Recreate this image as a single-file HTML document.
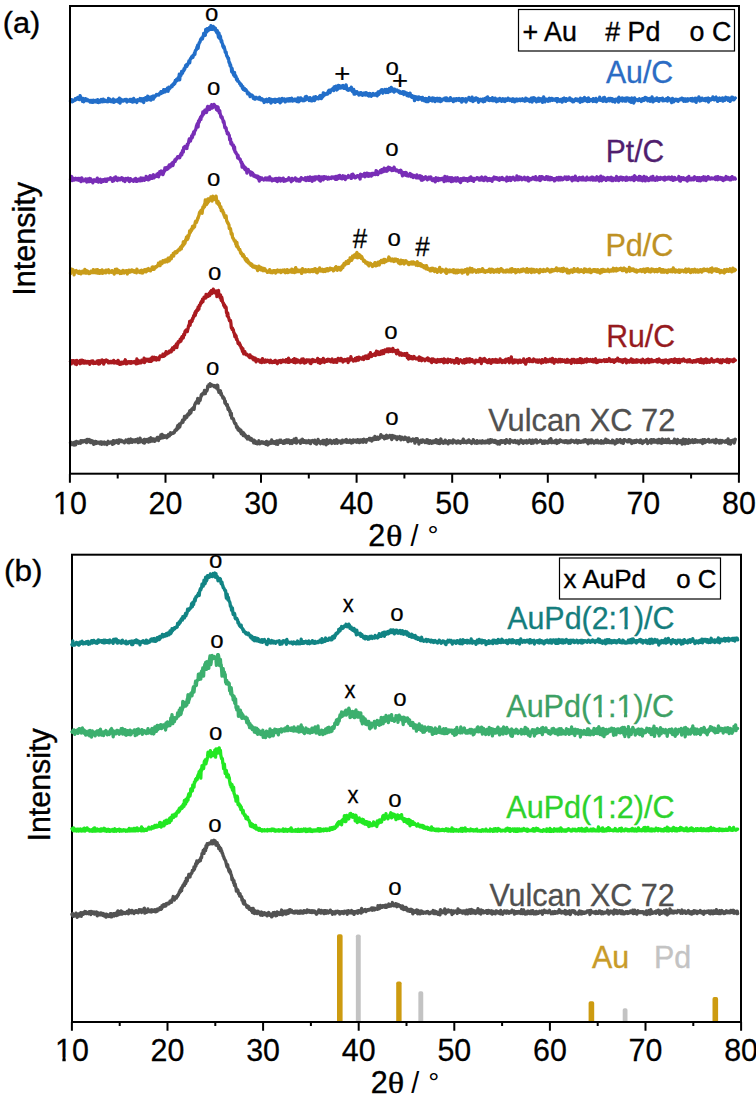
<!DOCTYPE html>
<html><head><meta charset="utf-8"><title>XRD</title>
<style>
html,body{margin:0;padding:0;background:#fff;}
svg{display:block;font-family:"Liberation Sans",sans-serif;}
</style></head><body>
<svg width="756" height="1098" viewBox="0 0 756 1098">
<rect width="756" height="1098" fill="#fff"/>
<path d="M70.5 101.0l0.4 0.6 0.4-0.4 0.4-1.6 0.4 2.2 0.4-0.5 0.4-1.1 0.4 1 0.4-0.4 0.4-0.3 0.4-0.4 0.4 0.2 0.4-1.5 0.4 0.3 0.4-0.5 0.4 0.9 0.4-0.8 0.4-0.5 0.4-0.7 0.4 0.5 0.4 0.2 0.4-0.3 0.4 1.7 0.4-0.3 0.4-3.6 0.4 0.9 0.4 1.9 0.4-0.1 0.4 0.8 0.4 0.1 0.4 2.1 0.4-3.1 0.4 0.9 0.4 2.6 0.4-1.2 0.4 0.1 0.4-1.1 0.4-1 0.4 1.9 0.4 0 0.4-1.3 0.4 0.7 0.4 0.6 0.4-0.8 0.4 1 0.4 0.2 0.4 0.1 0.4-0.5 0.4 1.1 0.4 0.4 0.4-0.5 0.4-1.1 0.4 1.6 0.4-1.2 0.4 1.5 0.4-2 0.4 2.1 0.4-1 0.4-1.2 0.4 1 0.4 0.4 0.4 0.2 0.4-1.3 0.4-0.1 0.4 1.3 0.4-0.7 0.4 0.7 0.4 0.5 0.4-2.5 0.4 1.9 0.4 0.9 0.4-1.5 0.4-0.6 0.4 1.5 0.4-0.5 0.4 0.6 0.4-1.3 0.4-1.2 0.4 1.4 0.4-0.4 0.4 1.2 0.4-0.6 0.4-1.9 0.4 0.4 0.4 2 0.4-0.2 0.4-1.3 0.4 0.6 0.4 0.4 0.4 0 0.4 0.4 0.4-0.6 0.4-0.4 0.4-0.2 0.4 1.4 0.4-3.4 0.4 2.2 0.4 0.1 0.4-1.4 0.4 1.7 0.4-1 0.4 1.6 0.4-1 0.4 0.8 0.4 0.5 0.4-0.8 0.4-1.3 0.4-0.6 0.4 3.3 0.4-1.9 0.4-0.6 0.4 0.8 0.4-0.3 0.4 1.1 0.4-0.9 0.4 0 0.4-0.7 0.4 1.2 0.4-1.5 0.4 1.7 0.4 0.8 0.4-3 0.4-1 0.4 3.1 0.4 1.9 0.4-3.5 0.4-0.3 0.4 1.9 0.4-1.4 0.4 0.3 0.4 0.2 0.4 0.8 0.4-0.9 0.4 0.7 0.4-0.5 0.4-0.6 0.4 0.5 0.4-0.7 0.4 1 0.4-1.1 0.4 0 0.4 2.6 0.4-1.6 0.4 0 0.4 0.6 0.4-0.9 0.4 0.2 0.4 0.6 0.4-0.1 0.4-1.5 0.4 2 0.4-1.4 0.4-0.5 0.4 0.2 0.4 0.5 0.4 2 0.4-2.8 0.4 1.4 0.4-2.3 0.4 2.1 0.4 0.9 0.4-1.1 0.4-0.5 0.4 0.9 0.4 0.4 0.4 0 0.4 1.3 0.4-1.8 0.4-0.9 0.4 0.5 0.4 0 0.4 0.1 0.4-0.2 0.4 0.2 0.4-1.9 0.4 2.4 0.4-1.4 0.4-0.7 0.4 1.8 0.4 0.6 0.4-0.9 0.4-0.4 0.4-1.2 0.4 3.8 0.4-2.1 0.4-2.1 0.4 0.3 0.4 0.8 0.4-1.7 0.4 1.6 0.4-0.7 0.4 1.6 0.4-0.3 0.4-3.8 0.4 2.7 0.4-1.8 0.4 2.7 0.4-1 0.4 0.2 0.4-1.7 0.4 2.8 0.4 0.1 0.4-3.2 0.4 1.3 0.4-1.2 0.4 0.5 0.4-1.4 0.4 3.1 0.4-3.1 0.4 0.6 0.4 0.6 0.4-1.4 0.4 0.3 0.4-0.6 0.4 0.2 0.4-1.3 0.4 0.5 0.4 0 0.4-0.4 0.4 0.2 0.4-0.6 0.4 0.8 0.4-1.3 0.4-0.1 0.4-0.7 0.4-0.1 0.4-1 0.4 1.7 0.4-1.9 0.4 0.2 0.4 1 0.4-0.2 0.4-1 0.4-1.9 0.4 2.4 0.4-0.4 0.4-1.9 0.4 2.1 0.4-1.8 0.4-0.7 0.4 1.1 0.4-0.5 0.4 0.1 0.4-2.2 0.4 3.4 0.4-2.9 0.4-1.3 0.4 2 0.4-1.4 0.4 0.4 0.4-1 0.4-0.1 0.4-0.1 0.4-1.4 0.4 1.1 0.4-1.6 0.4-0.8 0.4 0.6 0.4-0.1 0.4-1.1 0.4-1.1 0.4 1.1 0.4-3.1 0.4 0.4 0.4 0.6 0.4-2 0.4 1 0.4-0.7 0.4 0.5 0.4-2.6 0.4-0.3 0.4 0.5 0.4-3.7 0.4 5.7 0.4-4.9 0.4-0.7 0.4 1.2 0.4-1.6 0.4-2.6 0.4 2.2 0.4-0.4 0.4-2.1 0.4-0.4 0.4 0.3 0.4-2.3 0.4 0.9 0.4-0.9 0.4-1.7 0.4-1.5 0.4 0.8 0.4-1.4 0.4 1.5 0.4-1.6 0.4 0.1 0.4-1.4 0.4-0.5 0.4-1.9 0.4 1.1 0.4 0.7 0.4-3.2 0.4-0.9 0.4-0.1 0.4-1 0.4-0.9 0.4 0.4 0.4-1.1 0.4 1.5 0.4-2.4 0.4-0.3 0.4 0.2 0.4-2.2 0.4 1.5 0.4-3.3 0.4-0.9 0.4-0.1 0.4-0.4 0.4-2.4 0.4 0.9 0.4-2.9 0.4 3.1 0.4-2.8 0.4-1.6 0.4-1.3 0.4-0.2 0.4-0.7 0.4-1.9 0.4-0.8 0.4 0.2 0.4-1.3 0.4 1.2 0.4-0.5 0.4-2.1 0.4 0 0.4-3 0.4 2.1 0.4-1.5 0.4 0.2 0.4 1 0.4-5.9 0.4 3 0.4-2.4 0.4 1.8 0.4-3.1 0.4 0.7 0.4 0.6 0.4 0.2 0.4-1.1 0.4-1.5 0.4 0.1 0.4 1.8 0.4-1.4 0.4-2.4 0.4 3.6 0.4-0.7 0.4 0.7 0.4-1.7 0.4 1.6 0.4-2.7 0.4 2.3 0.4-1.4 0.4 1.8 0.4 0.8 0.4-2 0.4 1.5 0.4 0.7 0.4 2.3 0.4 0.1 0.4-2 0.4 3.1 0.4 1 0.4 2.6 0.4-4.4 0.4 2.3 0.4 3.4 0.4-2.8 0.4 1.1 0.4 3.3 0.4 1.6 0.4-1.2 0.4 2.6 0.4 0.4 0.4 2.9 0.4-0.9 0.4 2.3 0.4-1.4 0.4 2 0.4 1.2 0.4 2.6 0.4 0.4 0.4-0.6 0.4 2.9 0.4 1.3 0.4 0.1 0.4 1 0.4 1.3 0.4-0.6 0.4 3.6 0.4 1.2 0.4-0.1 0.4 3.1 0.4-1.3 0.4 2.1 0.4 1.1 0.4 4 0.4-3.3 0.4 3.4 0.4 1.3 0.4 0.1 0.4 1.7 0.4-1.7 0.4-0.8 0.4 4.2 0.4-1.6 0.4 1.7 0.4-0.3 0.4 3.1 0.4 0.4 0.4-1.2 0.4 2.4 0.4-0.3 0.4 0.3 0.4 0.7 0.4 0.3 0.4 1.5 0.4 0.2 0.4-0.2 0.4 2 0.4-1.2 0.4 1.5 0.4 0.7 0.4 1.6 0.4-1.6 0.4 2.9 0.4-1.2 0.4 0.1 0.4 0 0.4 1.8 0.4-0.1 0.4-0.8 0.4 0.4 0.4 1 0.4 0.2 0.4 2.2 0.4 0.7 0.4-0.2 0.4-0.2 0.4-0.5 0.4 0.9 0.4 1.1 0.4 1.6 0.4-0.9 0.4-1 0.4 0.7 0.4-0.3 0.4 0 0.4 0.8 0.4 0.6 0.4 1.9 0.4-1.6 0.4 1.6 0.4 0.6 0.4-1.6 0.4 1.7 0.4-0.7 0.4-1 0.4 0.8 0.4-0.1 0.4-0.2 0.4 0.2 0.4 0.5 0.4 0.4 0.4-1.2 0.4 0.9 0.4-1.4 0.4 1.9 0.4 0.5 0.4-0.4 0.4 0.2 0.4 0.4 0.4-1.1 0.4 0.5 0.4 0.9 0.4 0.6 0.4-0.5 0.4 2.2 0.4-2.5 0.4 1.2 0.4 0.3 0.4-1.3 0.4-0.6 0.4-0.3 0.4 1.5 0.4 1 0.4-0.8 0.4-0.1 0.4-0.5 0.4 1 0.4-2.7 0.4 2.3 0.4-0.2 0.4-1.4 0.4 3.6 0.4-3.6 0.4 0.3 0.4-0.1 0.4 2.3 0.4-2 0.4 1.5 0.4-0.1 0.4-0.3 0.4-1.6 0.4 0.7 0.4 2.3 0.4-3 0.4 0.4 0.4 0.7 0.4 0.9 0.4-0.5 0.4 0.4 0.4-1.8 0.4 2 0.4-0.4 0.4-2.2 0.4 3.2 0.4 0.7 0.4-3.1 0.4 0.8 0.4 1.3 0.4-2.9 0.4-0.5 0.4 0.6 0.4 0.7 0.4 0 0.4 1.1 0.4-0.3 0.4-1.6 0.4 1.8 0.4 1.2 0.4-0.7 0.4-0.2 0.4-1 0.4 0.9 0.4-2 0.4 1.7 0.4-0.8 0.4 1.2 0.4-0.7 0.4-1.6 0.4 1.2 0.4 1.1 0.4-2.3 0.4 0.5 0.4-0.2 0.4-0.7 0.4 2.5 0.4 0.3 0.4-0.5 0.4-0.6 0.4-0.3 0.4 0.3 0.4-0.9 0.4 1.6 0.4 0.1 0.4-0.1 0.4-1.4 0.4 0.6 0.4-0.3 0.4 2 0.4-1.6 0.4-2.1 0.4 2.3 0.4 1.5 0.4-1.2 0.4 0.2 0.4-0.9 0.4-2 0.4 0.2 0.4 0.6 0.4 1.1 0.4 0.4 0.4 0.4 0.4-1.1 0.4 1.3 0.4-1.2 0.4-0.5 0.4 1.6 0.4-1.8 0.4-1.9 0.4 1.7 0.4 1.1 0.4-3.2 0.4 2.7 0.4 0 0.4-1.2 0.4-0.1 0.4 1 0.4-0.1 0.4 1.7 0.4-0.9 0.4-2 0.4 0.6 0.4 1.6 0.4 1.1 0.4-1.6 0.4-0.1 0.4 1.5 0.4-2 0.4-0.3 0.4-1.2 0.4 0.8 0.4 2.7 0.4-3.8 0.4 1.4 0.4-1.6 0.4 1.5 0.4 0.6 0.4-1.3 0.4 0.9 0.4-0.2 0.4-0.4 0.4 1.1 0.4-1.1 0.4-1.3 0.4-0.5 0.4-0.4 0.4 1.2 0.4-1 0.4 2.9 0.4-1.1 0.4-2.3 0.4-0.3 0.4 1.9 0.4-3.9 0.4 1.3 0.4 1.2 0.4-2.1 0.4 0.3 0.4-0.1 0.4 0.9 0.4-0.7 0.4 0 0.4 0 0.4-0.7 0.4 0.9 0.4-2.2 0.4-0.9 0.4-0.6 0.4-0.1 0.4 0.9 0.4 1.5 0.4-1.2 0.4-1 0.4-0.7 0.4 0.3 0.4-0.1 0.4-0.4 0.4-1.1 0.4 0.8 0.4 1.4 0.4-3.6 0.4 1.8 0.4-2.1 0.4 2.2 0.4-1.1 0.4-1.6 0.4 2.2 0.4 1.6 0.4-1.9 0.4 1 0.4-1.4 0.4-2.4 0.4 2.8 0.4-1.1 0.4-1.2 0.4 2.3 0.4-0.7 0.4-0.9 0.4 1.4 0.4-2 0.4 1.6 0.4-1.7 0.4 1.5 0.4-1.8 0.4 2.8 0.4-1.3 0.4 1.4 0.4-2.2 0.4 0.6 0.4 1.6 0.4-3.5 0.4 2.1 0.4 2.5 0.4-0.3 0.4 0.9 0.4-1.1 0.4 1.2 0.4-1.1 0.4-0.4 0.4-0.2 0.4 1.4 0.4 0.1 0.4 0.1 0.4-2.9 0.4 1.8 0.4 1.7 0.4 1 0.4-0.8 0.4-0.1 0.4-1.4 0.4 4.7 0.4-3.2 0.4 3.1 0.4 0 0.4-1.2 0.4-0.8 0.4 0.8 0.4-1.2 0.4 1.6 0.4-0.2 0.4 0.7 0.4 0.5 0.4 0.9 0.4-2.1 0.4 1.6 0.4-1.8 0.4-0.1 0.4 0.4 0.4-0.3 0.4 2.1 0.4 0 0.4 0.4 0.4-1.3 0.4 0.4 0.4-0.9 0.4-0.5 0.4 1.7 0.4-0.1 0.4-1.4 0.4 1.8 0.4-2.3 0.4 1.6 0.4-0.4 0.4 0.2 0.4-0.6 0.4 2.2 0.4-0.4 0.4 0.7 0.4-1 0.4-1.5 0.4 1 0.4-0.8 0.4 1.7 0.4 0.8 0.4-0.9 0.4-0.9 0.4 0.2 0.4 0.6 0.4-1.7 0.4 1.6 0.4 0 0.4-0.8 0.4 0.1 0.4 0.5 0.4-1.1 0.4-0.1 0.4 1.5 0.4-0.7 0.4 1.3 0.4-2.9 0.4-1 0.4 2.6 0.4-0.1 0.4-2 0.4-0.9 0.4 1.3 0.4-2 0.4 1.3 0.4-2.1 0.4 1.8 0.4-2.1 0.4 1.8 0.4 1.7 0.4-2 0.4 0.9 0.4-1.6 0.4-0.3 0.4-0.8 0.4 2.6 0.4-1.2 0.4 1.7 0.4-3 0.4 0.9 0.4 0.3 0.4 1.3 0.4 0.4 0.4-2.6 0.4-0.6 0.4-0.7 0.4 3.2 0.4-1.5 0.4-0.7 0.4 0.6 0.4-2.6 0.4 0.8 0.4 2.8 0.4-0.5 0.4-0.3 0.4-1.2 0.4 1.7 0.4 1.3 0.4-3 0.4 1.3 0.4-0.4 0.4 1 0.4-0.3 0.4 0 0.4-0.7 0.4 1 0.4-0.5 0.4 0.6 0.4 0.3 0.4 0.9 0.4-1.2 0.4 0.4 0.4 1.6 0.4-1.2 0.4 0.1 0.4 1.3 0.4-0.5 0.4-0.1 0.4 0.3 0.4-1.4 0.4 1.9 0.4 1 0.4-0.6 0.4-2.1 0.4 2 0.4-1.1 0.4 0.9 0.4 0.5 0.4-1.2 0.4 2.7 0.4-1.3 0.4 1 0.4 0 0.4 0.9 0.4-0.1 0.4-2.6 0.4 1.7 0.4-2.1 0.4 1.9 0.4 1.3 0.4 0.4 0.4 0.5 0.4-1.6 0.4 0.9 0.4-0.1 0.4 1.3 0.4 0.5 0.4-1.8 0.4 4.3 0.4-3.7 0.4-0.3 0.4 1.2 0.4 0.2 0.4 0 0.4-1.1 0.4 2.2 0.4-1.3 0.4 1.6 0.4 0 0.4-2.6 0.4 0.4 0.4 0 0.4 1.4 0.4-0.1 0.4 0.2 0.4-1 0.4 1.3 0.4 1.1 0.4-2.7 0.4 1.2 0.4 0.5 0.4-0.3 0.4-0.1 0.4 2.1 0.4-0.5 0.4-0.3 0.4-1.6 0.4 3.1 0.4-1.9 0.4-0.9 0.4 0.3 0.4-0.1 0.4 2.7 0.4-1.9 0.4-0.1 0.4-2.2 0.4 2.9 0.4-1.8 0.4 0 0.4 1.8 0.4-1.5 0.4 1.7 0.4 0.3 0.4-2.9 0.4 1.7 0.4-1.5 0.4 1.5 0.4 1 0.4-2.3 0.4 3.2 0.4-2.1 0.4-0.9 0.4 1.1 0.4 0.9 0.4-2.2 0.4 1.4 0.4-1.4 0.4 2.6 0.4-1.1 0.4-0.5 0.4 1.4 0.4-2.3 0.4 0.9 0.4 2.2 0.4-1.9 0.4 1.4 0.4-1.1 0.4-0.9 0.4 0.4 0.4 0.4 0.4-0.5 0.4-0.4 0.4 0 0.4-0.7 0.4 1.6 0.4 0.3 0.4 0.3 0.4-2.5 0.4 2.6 0.4-0.8 0.4-1.5 0.4 1.6 0.4 0.7 0.4-0.3 0.4 0.2 0.4 0.2 0.4 0 0.4-1 0.4-2 0.4 1.3 0.4 1.1 0.4-0.8 0.4 1.2 0.4 0.1 0.4-0.8 0.4 1.9 0.4-2.9 0.4 1.9 0.4-1.4 0.4-0.3 0.4 1.4 0.4-1.2 0.4 1.4 0.4-2 0.4 1.2 0.4-0.9 0.4 0.6 0.4-0.1 0.4-0.7 0.4 1.7 0.4-1.9 0.4 0.3 0.4 1.9 0.4 0.1 0.4-0.4 0.4-0.3 0.4 2 0.4-3.5 0.4 0.4 0.4-0.2 0.4 1.9 0.4-0.6 0.4 0.8 0.4-0.1 0.4-1.2 0.4-0.6 0.4-0.2 0.4 3.2 0.4-1.2 0.4-0.4 0.4-1 0.4 0.2 0.4-0.2 0.4 0.1 0.4-2.1 0.4 2.3 0.4-0.3 0.4 0.7 0.4-0.1 0.4 0.6 0.4-0.8 0.4 0.8 0.4-3.4 0.4 1.5 0.4 2.8 0.4-2.9 0.4 0.9 0.4 1 0.4-1.6 0.4 1.6 0.4-2.1 0.4-0.5 0.4 0.6 0.4-0.4 0.4 1.7 0.4-0.3 0.4 0.6 0.4-1.3 0.4 3.5 0.4-2.6 0.4 0 0.4 0.5 0.4-0.7 0.4-0.3 0.4 0.7 0.4 0.8 0.4-0.2 0.4 0.2 0.4-1.5 0.4-0.2 0.4 2.8 0.4-2.3 0.4 0.8 0.4 0.2 0.4 0.7 0.4-2.8 0.4 0.9 0.4 0.1 0.4 0.1 0.4-2.1 0.4 2.3 0.4-2.8 0.4 3.2 0.4 0.2 0.4 0.1 0.4-1.8 0.4 2.1 0.4-1.8 0.4-0.3 0.4 0.2 0.4 0.1 0.4 1.1 0.4 0.6 0.4-2.9 0.4 1.6 0.4 1.4 0.4-0.7 0.4 0.3 0.4-2 0.4 2.4 0.4-2.5 0.4 1.8 0.4 1.2 0.4 0.5 0.4-1.4 0.4 0.4 0.4-1.5 0.4 0.1 0.4 1.7 0.4-1.2 0.4-0.1 0.4-1.3 0.4 1.6 0.4 0.4 0.4-1.4 0.4 0.3 0.4 2.1 0.4-1.4 0.4-0.5 0.4-0.8 0.4 0.5 0.4 0.4 0.4 1.6 0.4-2 0.4 2.4 0.4-2.7 0.4 0.5 0.4 1.2 0.4-1 0.4-0.6 0.4 0.7 0.4 0.5 0.4-2.1 0.4 1.5 0.4 0.1 0.4-0.3 0.4 1.1 0.4-1.3 0.4 0.2 0.4 0.4 0.4 0.7 0.4-0.9 0.4 1.7 0.4-2.4 0.4 2.2 0.4-2.2 0.4 0.7 0.4 0.6 0.4 1.7 0.4-1.2 0.4-1.3 0.4 1.7 0.4-1.5 0.4-0.6 0.4 1.2 0.4-0.3 0.4 0.9 0.4-1.5 0.4 0.9 0.4 0.2 0.4-0.3 0.4-0.3 0.4-0.7 0.4 1.6 0.4-0.8 0.4 0.4 0.4-0.9 0.4 0.4 0.4-1 0.4 1.1 0.4 0.7 0.4-0.7 0.4 0.8 0.4-0.6 0.4 1.1 0.4-1.6 0.4-1.4 0.4 2 0.4-0.6 0.4-0.8 0.4 1.7 0.4-0.4 0.4 0.1 0.4-0.7 0.4 0.5 0.4 0.1 0.4 1.5 0.4-2.5 0.4 0.7 0.4 0.4 0.4-2.1 0.4 0.1 0.4 3.8 0.4-4 0.4 2.4 0.4-1.4 0.4 0 0.4-1.2 0.4 1.1 0.4 1.7 0.4-2.2 0.4 2 0.4-0.3 0.4 1.7 0.4-2.5 0.4 1.8 0.4-0.4 0.4-1.2 0.4-1.4 0.4 3.2 0.4-2.9 0.4 0.9 0.4 1.4 0.4 0.2 0.4-1.9 0.4 0.8 0.4-0.3 0.4 1.5 0.4 1.3 0.4-4.3 0.4 2.7 0.4-3.8 0.4 2.9 0.4-1.1 0.4 3.1 0.4-1.8 0.4-0.9 0.4 0.2 0.4-0.1 0.4 0.8 0.4-0.4 0.4 0.9 0.4 0.8 0.4-0.8 0.4-1.9 0.4-0.4 0.4 0.8 0.4 1.9 0.4-1.4 0.4-0.4 0.4 0.8 0.4-1.5 0.4 0.3 0.4 1.6 0.4-0.8 0.4-0.2 0.4 0.8 0.4-0.9 0.4-0.1 0.4 0.2 0.4 1.1 0.4-0.5 0.4-1.3 0.4 0.9 0.4 0.9 0.4 1.3 0.4-3 0.4 1.4 0.4-0.6 0.4 1.1 0.4-0.4 0.4 1.1 0.4-1 0.4-1 0.4 0 0.4 0.9 0.4 0 0.4 2 0.4-0.7 0.4-2.9 0.4 1.6 0.4-1.7 0.4-0.4 0.4 2.4 0.4-0.1 0.4-1.6 0.4 2.6 0.4-2.6 0.4-0.2 0.4 1.9 0.4-0.5 0.4-0.4 0.4 0.1 0.4 0.3 0.4-0.3 0.4-0.1 0.4-1.7 0.4 0.6 0.4 1.9 0.4-1.3 0.4 1.2 0.4 0.7 0.4-1.6 0.4 0.7 0.4 1.8 0.4-1.4 0.4 1.1 0.4-0.3 0.4-0.7 0.4-0.9 0.4-0.7 0.4-0.3 0.4 1.6 0.4 0 0.4-0.7 0.4 1 0.4-1.4 0.4 1.7 0.4-1.1 0.4 0 0.4 0 0.4-0.1 0.4 2.6 0.4-4.1 0.4 1.8 0.4 1 0.4-0.5 0.4-1 0.4 2 0.4-2.8 0.4-0.2 0.4 1.9 0.4-2.1 0.4-0.9 0.4 3.3 0.4-0.1 0.4-0.1 0.4-1.2 0.4 0.7 0.4-1.2 0.4 2.7 0.4-0.9 0.4-0.1 0.4-2.6 0.4 2.7 0.4 0.7 0.4-0.3 0.4-0.4 0.4-0.8 0.4-0.3 0.4 0.9 0.4-0.2 0.4-0.2 0.4-0.5 0.4 2 0.4-2.9 0.4 1.2 0.4-0.6 0.4 1.6 0.4 0.4 0.4-0.2 0.4-0.4 0.4-2.2 0.4 3.5 0.4-1.6 0.4-0.6 0.4 0.1 0.4-0.3 0.4 0.7 0.4-0.1 0.4-0.7 0.4-2.2 0.4 2.6 0.4 0.5 0.4 0 0.4-0.7 0.4 0.7 0.4 0.5 0.4-1.5 0.4 2 0.4-3.5 0.4 0.7 0.4 0.4 0.4-1.5 0.4 1.4 0.4 2.2 0.4 0 0.4-1.1 0.4 1.6 0.4-1.5 0.4-0.7 0.4 0.7 0.4-0.3 0.4 0.8 0.4-2.2 0.4 2.5 0.4-1.5 0.4 1.4 0.4-2.4 0.4 1.1 0.4 0.5 0.4 0.8 0.4-2.1 0.4 2.9 0.4-1.2 0.4-1 0.4 1.7 0.4-1.1 0.4 1.1 0.4 1.1 0.4-1.5 0.4-1.3 0.4 0.1 0.4 1 0.4-0.3 0.4-1.1 0.4 0.1 0.4 1.4 0.4 1.6 0.4-4.9 0.4 3.3 0.4-0.9 0.4 1 0.4 0.1 0.4-0.9 0.4-1 0.4-0.4 0.4-0.5 0.4 3.1 0.4-1.4 0.4-0.3 0.4 0.2 0.4-1 0.4 1.6 0.4 1 0.4-0.2 0.4-2.7 0.4 3 0.4-2.2 0.4-1.1 0.4 0.7 0.4 0.2 0.4 1 0.4-1 0.4-0.5 0.4 1.2 0.4 2.2 0.4-2.6 0.4 1.1 0.4-0.3 0.4 2.5 0.4-4.5 0.4 3 0.4-2.4 0.4 0.7 0.4 0.5 0.4 3.3 0.4-4 0.4-1.1 0.4 3.2 0.4-2.2 0.4 0.6 0.4 0.3 0.4 0.1 0.4-0.3 0.4 0.4 0.4 0.2 0.4 0.4 0.4-1.3 0.4-0.3 0.4-0.3 0.4 1.7 0.4-0.7 0.4 0.6 0.4 0 0.4 1.2 0.4-1.5 0.4 0.5 0.4-1.9 0.4 0.1 0.4 0.8 0.4-1 0.4 2 0.4-2.1 0.4 1.4 0.4-2.5 0.4 1.4 0.4 0.7 0.4 0.1 0.4-1.5 0.4 1.9 0.4 0.8 0.4-0.3 0.4-1.3 0.4 0.1 0.4-0.6 0.4 1.8 0.4 0.8 0.4-2 0.4-1.1 0.4 1.9 0.4 0.5 0.4-3.5 0.4 2.9 0.4 2 0.4-1.3 0.4-0.3 0.4-0.2 0.4 0.7 0.4-2 0.4 0.1 0.4 1.3 0.4-1.1 0.4 0.9 0.4-2.2 0.4 2.7 0.4 0.1 0.4-0.8 0.4 0.1 0.4 1.5 0.4-2.7 0.4 0.1 0.4-0.2 0.4 0.7 0.4-0.6 0.4 1.1 0.4-0.7 0.4-0.8 0.4-0.1 0.4 2.7 0.4-1.2 0.4-0.2 0.4 0.3 0.4-0.2 0.4 0.9 0.4-0.2 0.4-1.2 0.4-0.2 0.4-0.3 0.4-0.1 0.4 2.6 0.4-2.3 0.4-1.1 0.4 1.2 0.4 0 0.4 1.1 0.4-1.2 0.4 1.4 0.4-0.1 0.4 0.9 0.4 0.9 0.4 0.7 0.4-1.5 0.4-2.6 0.4 0.8 0.4 0.6 0.4 1.9 0.4-1.4 0.4 0.5 0.4-1.4 0.4 0.8 0.4 0.1 0.4-1.2 0.4 1.3 0.4 0.3 0.4-1.3 0.4 1.2 0.4 0.6 0.4-1.6 0.4 0 0.4-0.3 0.4-0.3 0.4 0.7 0.4-0.5 0.4 0.1 0.4-0.5 0.4-0.8 0.4 0.6 0.4 1.3 0.4-1.5 0.4 0.5 0.4 2.3 0.4-0.5 0.4-1.8 0.4 1.3 0.4-1.3 0.4 2.3 0.4-2.2 0.4 0.6 0.4 1.3 0.4-2.2 0.4 2.2 0.4-2.2 0.4 1.1 0.4-0.5 0.4 0.2 0.4 0.2 0.4-0.2 0.4-1 0.4 1.9 0.4-0.1 0.4 0.5 0.4 0.1 0.4-2.7 0.4 2.6 0.4 0 0.4-1.8 0.4 1.6 0.4 0.4 0.4-2 0.4-0.9 0.4 1.1 0.4 3.1 0.4-2.5 0.4-1.5 0.4 1 0.4-0.8 0.4 0.6 0.4 0.5 0.4-2.7 0.4 3 0.4 1 0.4-1.6 0.4-0.2 0.4 1.5 0.4-2.4 0.4 0 0.4-0.1 0.4 1.2 0.4 0.6 0.4-0.5 0.4 0.6 0.4 0.3 0.4-0.3 0.4-1.4 0.4 0.6 0.4 1.5 0.4-2.3 0.4 0.8 0.4-0.2 0.4 0.2 0.4-0.9 0.4-0.3 0.4 3.9 0.4-1.6 0.4-1.7 0.4 0.7 0.4 0.7 0.4-1 0.4 0.9 0.4-1.2 0.4 0.2 0.4 0.3 0.4-0.4 0.4-2 0.4 2.5 0.4 0.2 0.4 0.2 0.4-1.5 0.4 1.4 0.4-0.2 0.4-2 0.4-0.4 0.4 2.6 0.4-1.4 0.4 1.9 0.4 1.2 0.4-2.8 0.4-0.1 0.4 0.7 0.4 0.6 0.4-1.8 0.4 2.4 0.4-0.3 0.4-0.3 0.4-1.2 0.4 1.4 0.4-0.1 0.4-2 0.4 3.3 0.4-2.4 0.4 0.6 0.4-0.9 0.4 0.9 0.4 0.8 0.4-2 0.4-0.9 0.4 1.2 0.4-0.9 0.4 0.6 0.4 0.6 0.4 0.1 0.4 1.3 0.4-2.3 0.4 1.3 0.4-0.8 0.4 1.8 0.4 1.2 0.4-2.3 0.4 1.4 0.4-2.2 0.4-1.1 0.4 0.3 0.4-0.3 0.4 0.6 0.4 0.7 0.4 1.4 0.4-0.5 0.4-0.3 0.4-0.9 0.4-0.3" fill="none" stroke="#226ec9" stroke-width="3.3" stroke-linejoin="round" stroke-linecap="round"/>
<path d="M70.5 179.2l0.4-0.8 0.4 0.1 0.4-2 0.4 4.2 0.4-0.7 0.4-1.4 0.4 1.1 0.4-0.5 0.4-0.8 0.4 1.6 0.4-1.3 0.4 0 0.4-0.4 0.4 1.2 0.4-0.5 0.4 0.7 0.4-1.1 0.4 0.8 0.4-1 0.4 1.8 0.4-0.7 0.4 0.2 0.4 0.2 0.4-1.4 0.4 1.8 0.4 1.3 0.4-3.6 0.4-0.1 0.4 0.3 0.4 2.4 0.4-0.7 0.4 1 0.4-0.3 0.4-0.5 0.4 0.1 0.4-0.4 0.4 1.1 0.4-2 0.4 0.8 0.4 0.7 0.4 1.6 0.4-2.6 0.4-0.3 0.4 0.5 0.4 1.6 0.4-1.2 0.4 1.6 0.4-3.2 0.4 3 0.4 0 0.4-2.5 0.4 1.6 0.4 1.1 0.4-1.1 0.4 0.9 0.4 1.4 0.4-2.1 0.4-0.5 0.4-0.5 0.4 1.4 0.4-0.8 0.4 0 0.4 0.1 0.4 0.8 0.4-1.7 0.4-0.5 0.4-0.9 0.4 3.7 0.4-1.2 0.4 1.5 0.4-1.5 0.4-0.8 0.4 1.3 0.4-0.6 0.4-1.2 0.4 0.4 0.4 2.7 0.4-1.5 0.4 0.1 0.4-0.7 0.4-0.5 0.4 1.6 0.4-1.1 0.4-0.7 0.4 0.6 0.4-0.9 0.4 1.1 0.4 0.8 0.4-2 0.4 2.2 0.4-2.2 0.4 0.8 0.4-1.1 0.4 0.5 0.4 0.2 0.4-0.5 0.4-0.4 0.4 0 0.4-0.2 0.4-0.8 0.4 1.2 0.4 0.6 0.4 0.5 0.4-0.3 0.4 1.7 0.4-2.1 0.4-0.8 0.4 2.3 0.4-2.9 0.4 2 0.4-2 0.4 1.4 0.4-2.4 0.4 2.9 0.4-1 0.4-0.8 0.4 2.6 0.4-0.9 0.4-0.7 0.4-0.8 0.4 0.8 0.4-0.1 0.4 0.9 0.4 0.1 0.4-1.5 0.4 0.2 0.4 0 0.4-0.8 0.4 0.8 0.4 0.5 0.4 0.8 0.4 0.7 0.4-2.1 0.4 1.4 0.4-1 0.4 2.6 0.4-2.1 0.4 0.6 0.4-1.5 0.4 0.2 0.4 1.1 0.4-0.6 0.4 0.8 0.4-1.9 0.4 2.3 0.4-1.5 0.4 2.7 0.4-1.9 0.4 1.4 0.4-2.4 0.4 1.9 0.4-1.2 0.4 0.5 0.4 0.5 0.4-0.2 0.4 0.6 0.4 0.5 0.4-0.1 0.4-0.7 0.4-1.3 0.4 0.6 0.4 0.6 0.4-2 0.4 2.9 0.4-1.1 0.4 0 0.4 1.1 0.4-0.3 0.4-0.5 0.4-1.3 0.4 1.2 0.4 0 0.4-1.3 0.4 1.8 0.4-0.6 0.4-2.5 0.4 2 0.4-1.5 0.4 2.3 0.4-0.4 0.4-2 0.4 0.1 0.4 0.9 0.4-0.5 0.4 1.7 0.4-0.9 0.4-1.1 0.4 0.8 0.4-2.7 0.4 2.2 0.4 0.5 0.4-1.2 0.4-0.6 0.4 1.2 0.4 1.3 0.4-1.8 0.4-1.4 0.4 2.4 0.4-3.4 0.4 2.3 0.4-1.2 0.4 1.4 0.4-1.9 0.4 2.1 0.4-1.1 0.4-2.2 0.4-0.4 0.4 1.6 0.4 1.5 0.4-1.3 0.4-0.3 0.4-0.4 0.4 0.8 0.4-0.6 0.4-0.2 0.4-1.5 0.4 2 0.4 0 0.4-3 0.4 3.5 0.4-1.8 0.4-1.5 0.4-1.7 0.4 2.4 0.4-0.3 0.4-1.4 0.4-1.5 0.4 2.7 0.4-2 0.4-0.1 0.4 3.1 0.4-1 0.4-1.5 0.4-1.7 0.4 0.8 0.4-3.3 0.4 2.2 0.4-1.3 0.4-0.8 0.4-0.6 0.4 1.9 0.4-0.8 0.4-0.3 0.4 0.4 0.4-2.1 0.4-0.7 0.4-1 0.4 1.2 0.4 0.9 0.4-1.4 0.4 0.5 0.4-2.3 0.4 0.4 0.4-0.7 0.4-0.9 0.4 2.9 0.4-1.5 0.4-2.1 0.4-0.4 0.4 0.3 0.4-1.9 0.4 1.6 0.4-2.3 0.4 0.6 0.4-1.2 0.4 0.2 0.4-1.4 0.4-0.8 0.4 0.2 0.4-0.1 0.4-0.1 0.4-0.1 0.4 1.2 0.4-1.3 0.4-1.8 0.4 0.6 0.4-2.1 0.4 1.9 0.4-1.6 0.4-2.7 0.4 1.8 0.4-0.5 0.4-4.6 0.4 1.6 0.4-0.3 0.4-2.3 0.4 0.3 0.4-0.5 0.4 1.1 0.4-0.9 0.4 2.1 0.4-4.3 0.4 1.2 0.4-2 0.4-0.4 0.4-2.4 0.4-1.7 0.4 0.7 0.4 1.2 0.4 0.2 0.4-1.9 0.4-0.9 0.4-2.4 0.4 2.2 0.4-1 0.4-3.1 0.4-0.2 0.4-1.9 0.4 2.3 0.4-2.2 0.4-1.4 0.4-0.1 0.4-0.8 0.4-1.8 0.4-1.9 0.4-0.9 0.4-1.4 0.4 2 0.4 1.4 0.4-6 0.4 1.5 0.4-0.6 0.4-2.7 0.4 0.7 0.4-2.6 0.4 2.2 0.4-3.3 0.4 0.2 0.4 0 0.4-2.2 0.4-2.4 0.4 1.1 0.4 1.2 0.4-1.6 0.4-0.1 0.4-2.3 0.4 1.2 0.4 0.4 0.4-1.4 0.4 2.2 0.4-3.4 0.4-1.5 0.4-1.2 0.4 3.5 0.4-2 0.4 1.2 0.4-1 0.4 1.3 0.4-0.7 0.4-2.5 0.4 0.8 0.4 1 0.4-3.4 0.4 3.6 0.4-0.4 0.4-0.4 0.4-1.8 0.4 0.7 0.4-1.9 0.4 1.8 0.4-0.7 0.4 1.3 0.4-0.5 0.4 1.6 0.4 1.7 0.4-2.9 0.4 3.6 0.4-3.4 0.4 0.3 0.4 3.4 0.4 0.8 0.4 1.3 0.4-2.1 0.4 2.9 0.4 1.1 0.4 2.5 0.4-0.9 0.4 1.8 0.4-1 0.4 2 0.4 0.7 0.4 2.6 0.4-1.2 0.4 1.3 0.4 2.8 0.4 2.6 0.4-0.8 0.4 0.9 0.4 0.2 0.4 2.8 0.4 0.4 0.4 2.5 0.4-0.6 0.4-0.5 0.4 1.5 0.4 0.6 0.4 0.8 0.4 4.2 0.4 0.5 0.4-1.4 0.4 4.7 0.4-0.8 0.4-0.4 0.4 2.6 0.4 0.4 0.4 0 0.4-0.4 0.4 3.2 0.4 1.2 0.4-2.5 0.4 4.5 0.4 0.9 0.4-0.4 0.4 1.5 0.4 0.4 0.4 0.1 0.4 1.3 0.4 2.7 0.4-2.4 0.4 2.7 0.4 0.6 0.4-0.3 0.4 1 0.4-0.4 0.4 1.3 0.4 1.6 0.4 1 0.4-0.7 0.4 4.9 0.4-3.3 0.4 1.4 0.4 0.2 0.4 0.4 0.4 2.4 0.4-1.4 0.4 2.5 0.4 0.3 0.4-1.8 0.4 2.6 0.4-1.3 0.4 4 0.4-2.9 0.4-0.2 0.4-0.7 0.4 1 0.4 1.1 0.4-0.1 0.4 0.1 0.4 0.8 0.4 0.8 0.4 2 0.4-3 0.4 1.5 0.4-0.2 0.4-0.3 0.4 0.5 0.4 0.6 0.4 1.9 0.4-0.8 0.4-0.1 0.4 1.4 0.4-0.2 0.4-0.3 0.4 0.8 0.4-1 0.4 1.7 0.4 0 0.4-0.7 0.4-0.6 0.4 2.9 0.4-1.3 0.4 3.2 0.4-3.6 0.4 1.6 0.4-1.1 0.4 0.7 0.4 0.7 0.4-1.5 0.4 0.7 0.4 0.4 0.4 0 0.4 0.5 0.4 0.5 0.4-0.2 0.4-0.5 0.4-0.6 0.4-0.7 0.4 0.4 0.4 0.3 0.4 1.2 0.4-1 0.4-0.9 0.4 1.9 0.4-1.4 0.4 0.1 0.4 0.6 0.4 0.7 0.4-2.9 0.4 1.3 0.4 1.4 0.4-0.6 0.4-0.4 0.4 0.3 0.4 1.9 0.4-1.8 0.4 1.2 0.4 0.1 0.4-1.2 0.4 0.9 0.4-0.9 0.4-0.1 0.4-0.5 0.4 2 0.4-1.3 0.4-0.1 0.4-0.6 0.4 3 0.4-1.1 0.4-0.8 0.4-0.6 0.4-0.8 0.4 1.8 0.4 0 0.4-1.7 0.4 2.6 0.4-0.4 0.4-1.8 0.4 0.4 0.4 0.2 0.4 0.6 0.4-0.3 0.4-1.5 0.4 3.1 0.4-1.2 0.4 1 0.4 0 0.4-1.5 0.4 0.5 0.4 0.4 0.4 0.1 0.4-1 0.4-0.4 0.4 0.6 0.4-0.8 0.4 0.2 0.4-1.4 0.4 2.1 0.4-1.1 0.4 0.4 0.4 0.5 0.4 0.4 0.4 1.6 0.4-1.7 0.4-1.6 0.4 1.5 0.4-0.7 0.4 1 0.4-1.1 0.4-0.1 0.4 0.2 0.4-0.1 0.4-1.2 0.4 1.1 0.4 0.6 0.4 1.2 0.4-1.5 0.4-0.1 0.4 1 0.4-0.1 0.4 1 0.4-1 0.4-0.6 0.4 1.3 0.4 0.2 0.4-2 0.4 0.6 0.4-1.9 0.4 1.3 0.4-0.5 0.4 0.6 0.4-0.3 0.4 0.3 0.4 0 0.4 0.6 0.4-0.3 0.4-0.8 0.4-0.8 0.4 2.5 0.4 0.2 0.4-1.9 0.4 1 0.4-2.1 0.4-0.1 0.4 1.3 0.4 1.7 0.4-2.6 0.4 0.2 0.4 2.4 0.4-3.5 0.4 2.5 0.4-0.2 0.4-0.7 0.4 0.4 0.4 2.4 0.4-3.8 0.4 0.8 0.4 0.1 0.4-0.5 0.4-0.7 0.4 3 0.4-1.4 0.4-2 0.4 1 0.4 1.1 0.4 0 0.4-1.9 0.4 1.3 0.4 0.4 0.4 0.1 0.4 0 0.4-2.3 0.4 3.7 0.4-1.7 0.4 1.6 0.4 1 0.4-3 0.4-1.1 0.4 2.1 0.4-1.1 0.4-0.3 0.4-0.6 0.4 2.7 0.4-2.1 0.4-1 0.4 0.9 0.4-0.7 0.4 1.3 0.4-0.6 0.4-0.7 0.4 1.7 0.4-1.3 0.4 1.3 0.4 0.6 0.4-1.7 0.4-0.3 0.4 0.8 0.4 0.7 0.4-0.9 0.4 0.1 0.4-0.2 0.4 0.4 0.4 0.3 0.4-1.4 0.4 0.2 0.4 0.5 0.4-0.7 0.4 0.8 0.4 0.3 0.4-0.5 0.4-0.7 0.4-0.1 0.4 2.5 0.4-0.9 0.4-2.1 0.4 0.3 0.4 2.7 0.4-0.4 0.4-1.4 0.4 1 0.4-2.6 0.4 1.4 0.4 0.8 0.4-2.7 0.4 1.1 0.4 1.6 0.4 0.3 0.4-1.8 0.4 0.9 0.4 1.3 0.4-2 0.4-1 0.4 1.3 0.4-0.4 0.4 1.7 0.4-1.1 0.4-1 0.4 3.2 0.4-2.9 0.4 0.9 0.4 0.2 0.4 0.1 0.4-0.6 0.4 0.4 0.4-0.7 0.4-1.4 0.4 1.2 0.4 0 0.4 0 0.4 0.3 0.4-0.8 0.4 2 0.4 0.2 0.4-3.8 0.4 2.2 0.4-0.7 0.4-2 0.4 3.1 0.4-1.1 0.4 0.2 0.4-0.3 0.4 1.8 0.4 0.1 0.4-1 0.4 0.4 0.4-0.9 0.4 0.3 0.4-0.9 0.4 0.7 0.4-0.8 0.4 1.1 0.4 0.4 0.4-0.5 0.4 0.8 0.4 1.5 0.4-4.9 0.4 2.2 0.4-0.7 0.4 0.1 0.4-0.9 0.4 1.3 0.4-0.3 0.4-0.5 0.4 0.4 0.4-0.4 0.4-1.9 0.4 3.4 0.4-1.5 0.4-0.7 0.4 1.2 0.4-1.1 0.4-1.6 0.4 3 0.4-2.7 0.4 1.4 0.4 0.3 0.4 1.2 0.4-0.3 0.4-1.1 0.4-1.1 0.4 0.3 0.4 1.4 0.4 0.6 0.4-1.4 0.4-1.3 0.4 1.7 0.4-1.6 0.4-0.1 0.4 0 0.4 0.8 0.4-0.4 0.4 0.6 0.4 0.2 0.4-0.9 0.4-3.1 0.4 0.5 0.4 1.8 0.4-0.4 0.4 2.2 0.4-2.4 0.4-0.2 0.4 1 0.4-0.1 0.4-1.4 0.4 0.6 0.4-1.8 0.4 0 0.4 2.2 0.4-2.9 0.4 2.3 0.4-0.4 0.4 0 0.4 0 0.4-0.5 0.4-2.9 0.4 1.1 0.4 0.3 0.4 1.5 0.4-2.2 0.4 0.4 0.4 0.2 0.4 1.7 0.4-3 0.4 0 0.4 2 0.4-3 0.4 2.5 0.4-0.9 0.4-1.2 0.4 1.1 0.4-0.6 0.4 1.2 0.4 0.1 0.4 1.2 0.4-1.6 0.4 0.1 0.4-0.7 0.4 0.6 0.4 1.2 0.4-3 0.4 2.8 0.4-1.1 0.4 0.8 0.4 0.4 0.4 0.7 0.4-0.5 0.4-0.4 0.4 0.9 0.4-0.1 0.4 0 0.4 0.6 0.4 0.9 0.4-0.6 0.4 0.2 0.4-1.3 0.4 1.4 0.4-1.6 0.4 2.8 0.4-1.5 0.4 2.4 0.4 1.9 0.4-3.4 0.4 1.9 0.4-0.8 0.4-0.8 0.4-0.2 0.4 1.6 0.4 1 0.4-0.9 0.4-1.8 0.4 0.6 0.4 1 0.4 1.7 0.4-1 0.4 0.2 0.4 1 0.4-1.3 0.4 0.3 0.4 0 0.4-1.5 0.4 2.4 0.4 0 0.4 0.7 0.4-2.1 0.4 0.5 0.4 1.9 0.4-0.6 0.4 1.2 0.4-2.2 0.4 1.2 0.4-0.8 0.4 1 0.4-0.7 0.4 1.1 0.4 0.7 0.4-0.4 0.4-2.4 0.4 2.9 0.4-0.5 0.4-1.4 0.4 0.2 0.4 1 0.4 0.7 0.4-1 0.4-1.1 0.4 2 0.4 0 0.4 2.3 0.4-3.7 0.4 3.9 0.4-0.7 0.4-1.4 0.4 1.5 0.4-1.5 0.4 0.9 0.4-1.6 0.4 0.8 0.4-1 0.4-0.5 0.4 1.3 0.4-0.3 0.4 1.3 0.4 0.7 0.4-1.4 0.4 0.3 0.4 0.2 0.4-1.8 0.4 1.9 0.4-0.2 0.4 0 0.4-1 0.4-0.9 0.4 1.8 0.4 0.6 0.4 1 0.4-0.2 0.4 0.4 0.4-1.1 0.4 0.8 0.4-1.4 0.4 0.9 0.4 0.3 0.4 1.8 0.4-2.5 0.4-1.5 0.4 2.7 0.4-2.2 0.4 0.8 0.4-0.3 0.4-0.6 0.4 2.3 0.4-0.7 0.4-1.2 0.4 0.7 0.4-0.5 0.4 1 0.4-1 0.4-0.3 0.4 0.1 0.4 0.2 0.4 0.7 0.4-1.2 0.4 0.9 0.4 0.5 0.4 1.9 0.4-1.5 0.4-3.8 0.4 2.5 0.4 0.1 0.4 0.7 0.4 1.3 0.4-0.8 0.4-3.1 0.4 2.6 0.4-0.1 0.4 0.3 0.4 0.9 0.4-2.4 0.4 2.2 0.4-2.8 0.4 1.7 0.4 0.4 0.4 1.9 0.4-3 0.4-1 0.4 2.4 0.4-1.4 0.4 2.3 0.4-2.3 0.4-0.2 0.4 2.1 0.4-1.1 0.4 0.9 0.4-2.4 0.4 3.1 0.4-2.3 0.4 1.4 0.4-1.8 0.4-0.6 0.4 1.3 0.4 0.5 0.4 1.4 0.4-1.3 0.4 0.4 0.4 0 0.4 2.4 0.4-3.9 0.4 2 0.4-1.4 0.4 0.4 0.4-0.8 0.4 1.7 0.4-2.4 0.4 0 0.4 1.1 0.4-1 0.4 1.9 0.4 0.2 0.4-1.7 0.4 1.5 0.4-1.4 0.4 0.6 0.4 0.1 0.4 1.8 0.4-1.9 0.4-0.9 0.4 0 0.4 2.1 0.4-2.8 0.4 1.1 0.4 0.1 0.4-2 0.4 1.9 0.4 1.5 0.4-0.8 0.4-1.1 0.4 1.6 0.4-0.2 0.4 1.5 0.4-2.8 0.4 0.4 0.4 0.4 0.4-0.2 0.4 0.2 0.4-0.2 0.4-0.6 0.4-0.9 0.4 1.1 0.4-0.9 0.4 0.4 0.4 0.5 0.4 1 0.4 0.4 0.4-1.9 0.4 1.3 0.4 0.5 0.4-0.9 0.4-1.6 0.4-0.5 0.4 2.9 0.4 0.2 0.4-0.7 0.4-1.3 0.4 2.5 0.4-0.3 0.4-1.2 0.4-0.2 0.4-1.8 0.4 2.8 0.4-2.4 0.4 2.3 0.4 0 0.4-0.6 0.4 1.5 0.4-2 0.4 1 0.4 0.2 0.4-0.6 0.4-0.7 0.4 1.7 0.4-0.8 0.4-0.7 0.4 0.1 0.4 0.3 0.4 2.1 0.4-2.2 0.4-0.3 0.4-0.8 0.4-0.2 0.4-0.7 0.4 2.1 0.4-0.2 0.4-1 0.4-0.5 0.4 1.2 0.4-0.2 0.4-0.8 0.4 1.6 0.4-0.2 0.4-0.2 0.4 0.8 0.4-1.4 0.4 2 0.4-2.3 0.4 1.5 0.4 0.1 0.4-0.9 0.4 0.6 0.4-1.6 0.4-0.2 0.4 1.3 0.4-0.6 0.4 1.3 0.4-0.5 0.4 0.6 0.4-0.3 0.4-0.1 0.4-0.2 0.4-0.4 0.4-0.1 0.4 2.5 0.4-3.8 0.4 1.6 0.4 1.1 0.4-0.5 0.4 0.9 0.4-0.8 0.4-1.8 0.4 0.9 0.4-1.1 0.4 2.4 0.4 0.5 0.4-1.9 0.4 1 0.4-1 0.4-1 0.4 1 0.4-1.2 0.4 1 0.4 0.8 0.4 0.5 0.4 0.6 0.4-1.6 0.4 0.5 0.4 0.2 0.4 0.2 0.4-3.5 0.4 2.1 0.4 1.6 0.4-1.9 0.4 1.3 0.4 0.6 0.4-2.7 0.4 1.7 0.4 0.4 0.4-0.2 0.4-1.5 0.4 1.8 0.4-0.9 0.4 1.4 0.4-0.4 0.4-1 0.4 0.7 0.4-0.8 0.4 0 0.4-0.9 0.4 1.3 0.4 1.1 0.4-0.7 0.4-0.2 0.4-0.6 0.4 0.1 0.4 1.3 0.4-2.3 0.4 3.6 0.4-2.1 0.4 2.2 0.4-1 0.4-1.6 0.4 1.2 0.4-0.5 0.4 0.2 0.4 0.3 0.4-1.3 0.4-0.1 0.4 0.2 0.4-1 0.4 1.1 0.4 0.5 0.4 0 0.4 0 0.4-0.6 0.4 1.2 0.4-2.9 0.4 1.7 0.4 0 0.4 1.3 0.4-0.3 0.4 0.2 0.4-0.8 0.4 0.9 0.4-1.9 0.4 1 0.4-2.2 0.4 3.9 0.4-0.2 0.4-2.2 0.4-0.2 0.4-1.3 0.4 0.6 0.4 1.7 0.4-0.3 0.4-1.3 0.4 0.9 0.4-0.1 0.4 1.1 0.4 0.2 0.4-0.9 0.4 0.3 0.4-0.1 0.4-2.1 0.4 2.3 0.4-0.2 0.4 0.8 0.4-2.6 0.4 2.6 0.4-1.4 0.4 0.9 0.4 0.9 0.4-2.6 0.4 0.1 0.4 2.3 0.4-2.1 0.4 0.2 0.4 1.5 0.4-0.8 0.4 1 0.4-0.5 0.4-0.3 0.4 1 0.4 1.2 0.4-2.3 0.4 1.6 0.4-0.3 0.4-1.1 0.4 0.4 0.4-1.4 0.4 0.3 0.4 0.9 0.4-0.3 0.4 1.3 0.4-2.6 0.4 1 0.4-0.3 0.4 0.5 0.4 1.3 0.4-2.4 0.4 2.1 0.4-1.5 0.4 0.3 0.4 1.3 0.4-1.3 0.4 1 0.4-0.6 0.4-0.3 0.4-0.1 0.4-1.4 0.4 1 0.4 0.9 0.4 0 0.4-1.7 0.4 2.5 0.4-0.4 0.4-1.9 0.4 0.3 0.4 1.5 0.4-2.2 0.4 1 0.4 0.7 0.4-0.1 0.4 0.1 0.4 0.4 0.4-1.2 0.4 0.3 0.4 2.6 0.4-3.5 0.4 1 0.4 0.5 0.4-0.7 0.4 1.8 0.4-1.1 0.4 0.7 0.4-3.4 0.4 3.8 0.4 0 0.4-1.9 0.4 2 0.4-1 0.4 0.7 0.4 0.8 0.4-1.7 0.4-1.1 0.4 1 0.4-1.2 0.4 0.4 0.4 0.1 0.4 0 0.4 1.9 0.4-0.3 0.4-1.8 0.4 2.1 0.4-2.8 0.4 1 0.4 0.5 0.4 1.3 0.4-0.4 0.4-0.3 0.4 0.8 0.4-0.5 0.4 0.6 0.4-2.1 0.4-0.9 0.4 1.2 0.4 1.3 0.4-0.6 0.4 0.6 0.4-0.1 0.4-0.2 0.4 0.3 0.4-1.6 0.4 1.8 0.4-2.1 0.4 0.9 0.4-1.3 0.4 2 0.4-2.1 0.4 3 0.4-2.8 0.4 1.6 0.4-0.4 0.4-0.7 0.4 2.1 0.4-1.7 0.4 1.9 0.4-2.5 0.4 0.2 0.4-1.2 0.4 2.6 0.4 0.4 0.4-0.7 0.4-0.4 0.4-0.8 0.4 3.3 0.4-1.6 0.4-2.6 0.4 1.5 0.4-2.3 0.4 4.2 0.4 0.4 0.4-0.5 0.4-1.5 0.4-0.6 0.4-0.8 0.4 2 0.4-1.3 0.4 0.4 0.4-0.3 0.4 0.3 0.4 1.2 0.4 0.8 0.4-1.5 0.4-0.1 0.4-1.2 0.4-0.1 0.4 0.2 0.4 1.9 0.4-0.6 0.4 0.7 0.4-0.5 0.4-0.9 0.4-0.8 0.4 0.9 0.4-1.1 0.4 3.4 0.4-1.7 0.4-0.6 0.4 2.3 0.4-2.3 0.4 0.9 0.4-0.7 0.4 0.5 0.4-0.7 0.4 0.8 0.4 1 0.4-2.7 0.4-1 0.4 3.6 0.4-1.2 0.4 0.7 0.4-1.2 0.4 1.9 0.4 0.3 0.4-3 0.4 1.8 0.4-1.3 0.4-1 0.4 1.3 0.4 0.9 0.4-2 0.4 0.1 0.4 2.6 0.4-1.3 0.4 0.4 0.4-1.5 0.4 0.4 0.4 0.8 0.4 0.1 0.4-0.1 0.4 1.5 0.4-1.4 0.4-1.8 0.4 0.7 0.4 0.8 0.4 1.4 0.4-2 0.4 0.3 0.4 0.3 0.4-0.6 0.4-0.2 0.4 0.6 0.4 1.3 0.4-0.6 0.4-0.7 0.4 0.7 0.4-1.7 0.4 2.3 0.4-0.3 0.4-0.5 0.4-1.9 0.4 3.7 0.4-5 0.4 1.9 0.4 0.1 0.4 1.6 0.4-2.2 0.4 1.8 0.4-0.4 0.4-0.2 0.4 1.2 0.4 0.6 0.4-1.1 0.4-0.6 0.4-2.1 0.4 3.8 0.4-1.8 0.4-1.5 0.4 2 0.4 1.3 0.4-1.6 0.4-1 0.4 3.4 0.4-1.6 0.4-0.3 0.4 0.7 0.4-3.2 0.4 2.1 0.4-0.1 0.4 2.4 0.4-2.8 0.4 0 0.4-0.9 0.4 0.6 0.4 0.6 0.4 0.5 0.4-0.4 0.4 2.2 0.4-1.5 0.4 0.1 0.4 0.7 0.4-0.7 0.4-1.2 0.4-1 0.4 1.9 0.4-1.2 0.4 2.2 0.4-2.1 0.4-1.5 0.4 2.3 0.4 1 0.4-1.3 0.4 0.4 0.4 0 0.4 1.6 0.4-1.4 0.4-0.4 0.4-0.6 0.4-1 0.4 3.1 0.4-0.3 0.4-2.1 0.4 1.6 0.4-0.3 0.4-0.7 0.4 0 0.4 1.1 0.4-2 0.4 0.7 0.4 0.5 0.4 0 0.4-0.2 0.4 0.5 0.4 0.3 0.4-1.5 0.4 1 0.4-0.6 0.4 2.1 0.4-3 0.4 1.2 0.4 1 0.4-1 0.4-0.1 0.4-0.2 0.4 0.9 0.4-1.5 0.4 1.1 0.4-0.1 0.4-1.3 0.4 1.7 0.4-0.7 0.4 0.8 0.4 0.5 0.4-0.5 0.4-1.5 0.4 1.5 0.4-2 0.4 0.9 0.4 2.5 0.4-1.7 0.4 1.5 0.4-1.7 0.4 0.2 0.4-1.2 0.4 2.1 0.4-1.1 0.4 0.8 0.4-0.2 0.4 0.1 0.4-0.2 0.4-0.4 0.4 0.1 0.4-0.7 0.4-1.5 0.4 2.7 0.4 1.6 0.4-1 0.4 1.3 0.4-1.9 0.4-1.5 0.4 0 0.4 1.8 0.4-0.4 0.4-0.6 0.4 1 0.4-1.7 0.4 1.4 0.4-0.8 0.4 0.5 0.4 1 0.4-1.3 0.4 1.5 0.4 0 0.4-2.1 0.4 3.1 0.4-3.6 0.4 1.1 0.4 0.9 0.4-3.1 0.4 3.4 0.4 0.1 0.4-1.3 0.4 0.4 0.4-0.1 0.4-0.4 0.4 1.3 0.4-1.5 0.4 0.4 0.4 0.4 0.4 0.5 0.4 0.2 0.4-2.6 0.4-0.5 0.4 1.9 0.4 0.1 0.4-1.1 0.4 1.4 0.4 0.4 0.4-0.3 0.4 1.3 0.4-2.7 0.4 1 0.4 2 0.4-1.3 0.4-1.8 0.4 1.3 0.4 1 0.4 0.9 0.4-1.4 0.4 0.5 0.4-2.3 0.4 0.8 0.4 1.5 0.4-2.2 0.4 0.9 0.4-1.8 0.4 3.4 0.4-1.6 0.4 0.7 0.4-2.1 0.4 0.2 0.4 3.1 0.4-2.2 0.4-0.2 0.4 1.1 0.4 0 0.4-2.5 0.4 1 0.4 1 0.4 0 0.4 0.3 0.4-0.8 0.4 0.2 0.4 0.5 0.4-0.9 0.4-0.2 0.4 0.3 0.4 0.6 0.4-0.2 0.4-0.3 0.4 0.2 0.4 0.2 0.4 0.4 0.4 0 0.4-1.7 0.4 2.3 0.4-2.6 0.4 2.2 0.4-1.3 0.4 1.3 0.4 0.5 0.4-3 0.4 2.5 0.4-0.3 0.4-0.8 0.4 0.9 0.4-0.9 0.4 0.6 0.4-1.2 0.4 1.9 0.4-0.2 0.4 0.1 0.4-1.4 0.4 2.5 0.4 0.2 0.4-2.1 0.4-0.3 0.4 0 0.4 1.1 0.4 0.3 0.4-1.8 0.4-1.3 0.4 2.5 0.4-0.5 0.4 0.2 0.4 0.4 0.4-1.7 0.4 1.2 0.4-0.4 0.4 0.7 0.4 0.9 0.4-1.3 0.4-0.8 0.4 2.1 0.4-0.6 0.4-0.9 0.4-1.6 0.4 0.9 0.4 1.1 0.4 0.4 0.4-1.1 0.4 0.9 0.4-1 0.4 0.2 0.4 0.9" fill="none" stroke="#782db6" stroke-width="3.3" stroke-linejoin="round" stroke-linecap="round"/>
<path d="M70.5 273.5l0.4-4.6 0.4 3 0.4-1 0.4 0.1 0.4 0.3 0.4-1.8 0.4 1.8 0.4-0.6 0.4 4.2 0.4-3.1 0.4-0.6 0.4 0.1 0.4-0.4 0.4-0.3 0.4 0.6 0.4 0.9 0.4-0.7 0.4 1.3 0.4-1.2 0.4 0.3 0.4 1.5 0.4-0.9 0.4-1.1 0.4 0.4 0.4 0.7 0.4 1.5 0.4-2.2 0.4 0 0.4 1.3 0.4-1.9 0.4 0.6 0.4 1.2 0.4-0.2 0.4-0.5 0.4 0.6 0.4-3.5 0.4 3.9 0.4-2 0.4-0.7 0.4 2 0.4 0.4 0.4-1.1 0.4-0.7 0.4 1.1 0.4-0.1 0.4 1.5 0.4-0.7 0.4-0.5 0.4 0.9 0.4-1.3 0.4-0.8 0.4 1.5 0.4 0 0.4-0.8 0.4-0.6 0.4 1 0.4-2.7 0.4 3.1 0.4-0.2 0.4-2.1 0.4 1.7 0.4-1.1 0.4 1.7 0.4-2.8 0.4 1.1 0.4 1.6 0.4 0.4 0.4-3.3 0.4 1.6 0.4 0.8 0.4-0.9 0.4 2.2 0.4-2.8 0.4 1.5 0.4-1.4 0.4 2.4 0.4-1.5 0.4-0.3 0.4-1.4 0.4 3.4 0.4-0.9 0.4-0.1 0.4 0.4 0.4-0.8 0.4-1 0.4-0.2 0.4 0 0.4 2.2 0.4-2.8 0.4 0.8 0.4 0.3 0.4 0.5 0.4 0.4 0.4-1.8 0.4-0.5 0.4 1.7 0.4 1.2 0.4-0.4 0.4-0.6 0.4-0.5 0.4 0.6 0.4-0.5 0.4 1 0.4-1.6 0.4 0.9 0.4-0.2 0.4 0.6 0.4-0.3 0.4 2.4 0.4-1.1 0.4 0 0.4-3.5 0.4 1.7 0.4-0.3 0.4 1.1 0.4-2.8 0.4 3.5 0.4-0.1 0.4-2.4 0.4 0.3 0.4 0.2 0.4 0.8 0.4 0.6 0.4 1.4 0.4-2.2 0.4 1 0.4-0.6 0.4 1.6 0.4-1.1 0.4 0.7 0.4-2.5 0.4 0.9 0.4-0.6 0.4 2.3 0.4-0.8 0.4-1 0.4-0.2 0.4 1 0.4-1.2 0.4-0.2 0.4 1.4 0.4 2 0.4-2.7 0.4-0.4 0.4-0.6 0.4-0.1 0.4 1.8 0.4 0.3 0.4-0.8 0.4 0.3 0.4-0.2 0.4 0 0.4-1.7 0.4 1.1 0.4 0.5 0.4-0.9 0.4 0.3 0.4-0.4 0.4 0.5 0.4 1.2 0.4-1.3 0.4 0.2 0.4 1 0.4-0.2 0.4 1 0.4-3.8 0.4 2.9 0.4-1.4 0.4 0.6 0.4 0.7 0.4 0.2 0.4 0 0.4-1 0.4 1.5 0.4-2 0.4 0.2 0.4 0.9 0.4-1.4 0.4 2.7 0.4-1.2 0.4 1.1 0.4-2.3 0.4-0.4 0.4 0.5 0.4 0.5 0.4-1.4 0.4 0.9 0.4-0.4 0.4 1.6 0.4-2.4 0.4 1.6 0.4-1.8 0.4-0.4 0.4 0.2 0.4-0.6 0.4 1.3 0.4 0.8 0.4-1 0.4 0.4 0.4 0.9 0.4-1.5 0.4-0.2 0.4-0.6 0.4-1.4 0.4 2.2 0.4-2.6 0.4 2.3 0.4-0.8 0.4 1 0.4-1.4 0.4-0.9 0.4 1 0.4-1.2 0.4 0.1 0.4 0 0.4-0.5 0.4-0.3 0.4-1 0.4 0.3 0.4-2.3 0.4 1.8 0.4-1.4 0.4 2.2 0.4-0.1 0.4-3.6 0.4 1.9 0.4-0.5 0.4-1.2 0.4 1.4 0.4-1.2 0.4-1.6 0.4 1.3 0.4-0.1 0.4 0 0.4-1.6 0.4 1.7 0.4-0.1 0.4-2.2 0.4 0.2 0.4 0.4 0.4-0.8 0.4 2.2 0.4-2 0.4-1.6 0.4-0.1 0.4 0.5 0.4 2.2 0.4-3 0.4-0.1 0.4 0.1 0.4-1 0.4 2.1 0.4-3.4 0.4 1 0.4-1 0.4 0.1 0.4-2.3 0.4 2.8 0.4-2.5 0.4-0.2 0.4-1.4 0.4-0.2 0.4 1.1 0.4 0.1 0.4-0.6 0.4 0.1 0.4-0.9 0.4-1.1 0.4 0.5 0.4-0.7 0.4-1.1 0.4 0.5 0.4 0.2 0.4-1.6 0.4-1.1 0.4 0.8 0.4 0.9 0.4-2.9 0.4-0.4 0.4-0.6 0.4 1.1 0.4-4.1 0.4 1.9 0.4 0.4 0.4-3 0.4 2 0.4-1.7 0.4-1.9 0.4 0.2 0.4-2.8 0.4 0.5 0.4 2.1 0.4-3.9 0.4 2.6 0.4-3 0.4 0.6 0.4-1.8 0.4-3.4 0.4 1.3 0.4 0.2 0.4-2.3 0.4-0.9 0.4 1.4 0.4-2 0.4-2 0.4 0.5 0.4 1.2 0.4-2.4 0.4 1.1 0.4 0 0.4-2.6 0.4-2.2 0.4-1 0.4 0.8 0.4 0.4 0.4-1.5 0.4-0.5 0.4-2.1 0.4 0.1 0.4-1.9 0.4-0.7 0.4-2.1 0.4-1.3 0.4 0.6 0.4-1.7 0.4-0.7 0.4 1.4 0.4-1.9 0.4 3.3 0.4-3.4 0.4-2.8 0.4 1.2 0.4-1.2 0.4-2 0.4 1.8 0.4-3.1 0.4-3.8 0.4 4.7 0.4-2.5 0.4 2.3 0.4-3.5 0.4-1.3 0.4 3.3 0.4-4.1 0.4 1.3 0.4 1.3 0.4-2.2 0.4-0.6 0.4-0.1 0.4 0.8 0.4-2.4 0.4 1.8 0.4-0.2 0.4 2.4 0.4-3.9 0.4-0.9 0.4 2.3 0.4-1.7 0.4 1.1 0.4-0.1 0.4 1.8 0.4-2.1 0.4 1.4 0.4-2.8 0.4 3 0.4 4 0.4-2.3 0.4 0.6 0.4 0 0.4 3.1 0.4 0 0.4-1.2 0.4 3.2 0.4 0.2 0.4 1.3 0.4-1.1 0.4 3.9 0.4-1 0.4 0 0.4 0.3 0.4 1.1 0.4 2.3 0.4-0.7 0.4 2.6 0.4 0.2 0.4 1.8 0.4 0.2 0.4-0.2 0.4-1.5 0.4 3.8 0.4 1.7 0.4 0.2 0.4 1.6 0.4-0.2 0.4 1.2 0.4 0.4 0.4 4 0.4-0.3 0.4 0.3 0.4 0.1 0.4 2.5 0.4 3 0.4-0.2 0.4-0.4 0.4 3.5 0.4 1 0.4 0.3 0.4 0.7 0.4 1.3 0.4 0.1 0.4 1.1 0.4-0.9 0.4 3.4 0.4-0.6 0.4 2.8 0.4-3.8 0.4 3.9 0.4 1.1 0.4-0.8 0.4 1.7 0.4 1 0.4 0.5 0.4-0.5 0.4 1.1 0.4 2 0.4 1 0.4-0.7 0.4 0.7 0.4 0.8 0.4 1.6 0.4-1.6 0.4 0.3 0.4 2.3 0.4-0.8 0.4 1.2 0.4 1.3 0.4 1 0.4-1.1 0.4 2.4 0.4-2.2 0.4 2.9 0.4-1.9 0.4 0.7 0.4 2.4 0.4-0.7 0.4-0.1 0.4 0.7 0.4 1.2 0.4-0.2 0.4 0.3 0.4 1.4 0.4-1.6 0.4 0.6 0.4 0.2 0.4 2 0.4 0 0.4 0.5 0.4-1.1 0.4 0.1 0.4 1.2 0.4-1.1 0.4 1.5 0.4 0.1 0.4-1.3 0.4 0.8 0.4 0.2 0.4 2 0.4 1.1 0.4-2.6 0.4 0.3 0.4-2.2 0.4 2.7 0.4-0.1 0.4-0.9 0.4 2 0.4-2.3 0.4 1.5 0.4 0.5 0.4-1.3 0.4 2.2 0.4 0.3 0.4-2.3 0.4 0 0.4 2.2 0.4-0.6 0.4-1.1 0.4 1 0.4 0.3 0.4 0.1 0.4 1 0.4-0.4 0.4 1.5 0.4-0.4 0.4-0.6 0.4 0.4 0.4 0.3 0.4-0.6 0.4-1.9 0.4 2.1 0.4-0.7 0.4 1.5 0.4-1.5 0.4 0.5 0.4-0.2 0.4 1.4 0.4-1.5 0.4-0.4 0.4 0.6 0.4-0.8 0.4 0.6 0.4-0.1 0.4 0.3 0.4 1.7 0.4-2.4 0.4 0.5 0.4-0.2 0.4 0.8 0.4-1.8 0.4 0.5 0.4 0.7 0.4 0.5 0.4-0.5 0.4-0.5 0.4-0.4 0.4 1.4 0.4 0.9 0.4-1.1 0.4-0.1 0.4 0.2 0.4-1.4 0.4 0.7 0.4 0 0.4 0.6 0.4-0.4 0.4-1.2 0.4 2.4 0.4 0.5 0.4-2 0.4 0.7 0.4-0.1 0.4 0.5 0.4-2.3 0.4 3.1 0.4-2.1 0.4 1.7 0.4-1.2 0.4-0.5 0.4 0.3 0.4 1 0.4-1.8 0.4 0.5 0.4-0.1 0.4-1.3 0.4 3.1 0.4-0.8 0.4-0.6 0.4 1.2 0.4-2.1 0.4 0.8 0.4 1.8 0.4-0.7 0.4-3.2 0.4-1.1 0.4 2.2 0.4 2.1 0.4-1.5 0.4 0.2 0.4 0.9 0.4-1.5 0.4 1.1 0.4 0.5 0.4-0.3 0.4-0.1 0.4-1 0.4 1.1 0.4-0.9 0.4 1.7 0.4 1.3 0.4-3.4 0.4-1.4 0.4 1.7 0.4 0.8 0.4 0.7 0.4 0 0.4-1.8 0.4-0.1 0.4 2.1 0.4-2.4 0.4 2.2 0.4-1.3 0.4 1 0.4-0.1 0.4 0 0.4 0.1 0.4-1.8 0.4 1.2 0.4-0.3 0.4 0.3 0.4 0.9 0.4-1.5 0.4-0.4 0.4-0.1 0.4 0.5 0.4 1 0.4-1.6 0.4 2 0.4-0.9 0.4-0.5 0.4-1.1 0.4 1.5 0.4 0.5 0.4-2.5 0.4 2.9 0.4 0.5 0.4-1.4 0.4 0.2 0.4 1.9 0.4-1.2 0.4-2.2 0.4 0.9 0.4-0.1 0.4-0.1 0.4-2.2 0.4 3.1 0.4-1.4 0.4 0.8 0.4-0.3 0.4 0.9 0.4-1.1 0.4-0.6 0.4 1.3 0.4 0.9 0.4-1.8 0.4 1.7 0.4-1.1 0.4-0.9 0.4 2.1 0.4-2.4 0.4 1.8 0.4-1.5 0.4 0.9 0.4-1.7 0.4 0.3 0.4 1.9 0.4-0.9 0.4-0.2 0.4-0.5 0.4 0.8 0.4-1.9 0.4 0.3 0.4 0.9 0.4-0.7 0.4 0.1 0.4 0.6 0.4-0.1 0.4-0.2 0.4 1.9 0.4-0.7 0.4 0.1 0.4-1.3 0.4-0.5 0.4-1 0.4 1 0.4-1.8 0.4 1.5 0.4 1.3 0.4 0.8 0.4-0.7 0.4-2 0.4 1.3 0.4-1.5 0.4 1.5 0.4-1.1 0.4 0.7 0.4 1.6 0.4-2 0.4 1.2 0.4-2.5 0.4-0.8 0.4 1.4 0.4 0.1 0.4-2.6 0.4 0.3 0.4-1.9 0.4 1 0.4 0.8 0.4-1.3 0.4-0.8 0.4-1.2 0.4 1.6 0.4 0.2 0.4-0.5 0.4-0.6 0.4-1.9 0.4 2.8 0.4-2.2 0.4-0.4 0.4 0.6 0.4-3.4 0.4 1.8 0.4-0.4 0.4 0.2 0.4 0.7 0.4-1.3 0.4-2.8 0.4 1.3 0.4 0.3 0.4-0.4 0.4-1.8 0.4-0.7 0.4 2.1 0.4-0.4 0.4-0.6 0.4-2 0.4 3.6 0.4-5.1 0.4 2.6 0.4 2.7 0.4-2.5 0.4 0.5 0.4-1.4 0.4 3 0.4-2.6 0.4 1.9 0.4 0.3 0.4-0.9 0.4 2.4 0.4-2 0.4 1.2 0.4 1.2 0.4 0 0.4 1.4 0.4 1 0.4-0.9 0.4 0.2 0.4 0.4 0.4 0.5 0.4 1.6 0.4-0.8 0.4 0.9 0.4-0.2 0.4-0.6 0.4 2.1 0.4-1.7 0.4 1.3 0.4 1.8 0.4-2.5 0.4 1.3 0.4-1.5 0.4 1.2 0.4-0.9 0.4 1.1 0.4-0.2 0.4 0.7 0.4 1.4 0.4-1.4 0.4 0.4 0.4-0.8 0.4-0.3 0.4-0.7 0.4-1.1 0.4 1.8 0.4 1.5 0.4-1.3 0.4-1.2 0.4 2.1 0.4-2.3 0.4-0.3 0.4-0.8 0.4 0.1 0.4 0.6 0.4 2.2 0.4-2.5 0.4-1 0.4 0.3 0.4 0.3 0.4-1.7 0.4 1.7 0.4 0.5 0.4-0.5 0.4 0.1 0.4-2.1 0.4-0.5 0.4 3 0.4-0.3 0.4-2.9 0.4 1.8 0.4-0.3 0.4 0.5 0.4-0.5 0.4-0.8 0.4 0.6 0.4-0.1 0.4-0.3 0.4-2 0.4-1.3 0.4 2.3 0.4-1 0.4 2 0.4 0.4 0.4-0.5 0.4-0.7 0.4 0.4 0.4 1.1 0.4-2 0.4 1.8 0.4-0.2 0.4-0.4 0.4 1.3 0.4-2.3 0.4 1.9 0.4-1.9 0.4 0.2 0.4-0.2 0.4 1.7 0.4-1.3 0.4 1.1 0.4-1.1 0.4 2.4 0.4 1 0.4-1.6 0.4 1.6 0.4-1 0.4 1.8 0.4-2 0.4-1.6 0.4 3.3 0.4-1.6 0.4-0.8 0.4 0.5 0.4-1 0.4 1.7 0.4-0.9 0.4 2.7 0.4-0.8 0.4-2.4 0.4 0.3 0.4 1 0.4-1.4 0.4 1.9 0.4 0.2 0.4-0.8 0.4 0.3 0.4 1.1 0.4 1 0.4 0.1 0.4-1.5 0.4 0.9 0.4-1.6 0.4 1.2 0.4-1.4 0.4 1.8 0.4-2 0.4 0.3 0.4 1 0.4 0.7 0.4-2.1 0.4 1 0.4 0.8 0.4 0.1 0.4-1.1 0.4 1.1 0.4-0.4 0.4 1.8 0.4-0.8 0.4-1.8 0.4-0.9 0.4 2.5 0.4 1.3 0.4-0.9 0.4 0.8 0.4-1.2 0.4-0.8 0.4 2.3 0.4-0.5 0.4 0.8 0.4-2 0.4 1.8 0.4-0.7 0.4 1.6 0.4-1.2 0.4 0.1 0.4 0.1 0.4 2.1 0.4-1.1 0.4-0.6 0.4-0.1 0.4 0.1 0.4 2.8 0.4-3.2 0.4 1.2 0.4 1.7 0.4 0.7 0.4-1.1 0.4 1.1 0.4 0.1 0.4 0.4 0.4-0.8 0.4 1.8 0.4-1.3 0.4 1.4 0.4-2.5 0.4 2.2 0.4-2.2 0.4-0.1 0.4 2 0.4-1.3 0.4 1.4 0.4-1.5 0.4 2.7 0.4-1.6 0.4-1.1 0.4 1.4 0.4 0.7 0.4-1.6 0.4 1.3 0.4 1.6 0.4-1.1 0.4-0.9 0.4-0.5 0.4 1.2 0.4-2.1 0.4-1.5 0.4 2.4 0.4-0.4 0.4 2.9 0.4-1.6 0.4-1.1 0.4-0.2 0.4 1.7 0.4-1.3 0.4 0.3 0.4 0.5 0.4 0.2 0.4 0 0.4 0.1 0.4 1.2 0.4 0.4 0.4-3.3 0.4 4.2 0.4-2.4 0.4 1.1 0.4-1.9 0.4 1 0.4-0.1 0.4 0 0.4 0.7 0.4-0.2 0.4-1.6 0.4 0.9 0.4 0.8 0.4 0 0.4-1 0.4 0 0.4 0.2 0.4-1 0.4-0.1 0.4 2.8 0.4-1.9 0.4 0.5 0.4-0.9 0.4 2.1 0.4 0.4 0.4-1.9 0.4 0.7 0.4-1.3 0.4 2.5 0.4-0.8 0.4-1.8 0.4 2.1 0.4-0.9 0.4 0.1 0.4-0.1 0.4-1 0.4 0.1 0.4 1.2 0.4-0.7 0.4-0.9 0.4 3 0.4-2.2 0.4-0.4 0.4-0.1 0.4 1.4 0.4 0.2 0.4-0.7 0.4 0.6 0.4-2.3 0.4 1.1 0.4-0.1 0.4 0.5 0.4 0.4 0.4-2.5 0.4 5.2 0.4-4 0.4 1.2 0.4 0.5 0.4 0 0.4-0.6 0.4-3.2 0.4 1.8 0.4 1.9 0.4-1.7 0.4-0.1 0.4-1.3 0.4 3.5 0.4-0.7 0.4-1.4 0.4 0.8 0.4 0 0.4-1 0.4 0.8 0.4 0.5 0.4 0.3 0.4 0.7 0.4-1.2 0.4-0.5 0.4 0.9 0.4-1.1 0.4-0.6 0.4 2.4 0.4-1.5 0.4 0.5 0.4 0.5 0.4-1.8 0.4 1.8 0.4-0.2 0.4-0.6 0.4 0.5 0.4-1.1 0.4-1.5 0.4 1.9 0.4-0.6 0.4 1.8 0.4-0.6 0.4-0.8 0.4 0.6 0.4 1.3 0.4-0.3 0.4-0.7 0.4 0 0.4-0.7 0.4 0.2 0.4 0.7 0.4-0.7 0.4 0.4 0.4-1.4 0.4-0.6 0.4 0 0.4 1.2 0.4 1.8 0.4-0.2 0.4-2.1 0.4-0.6 0.4 2.4 0.4-0.4 0.4-1.8 0.4 2.4 0.4-0.9 0.4 1.2 0.4-1 0.4 0.5 0.4-0.5 0.4-1.3 0.4 0.7 0.4-0.4 0.4 1.5 0.4-1.9 0.4-0.5 0.4 2.2 0.4 0.5 0.4 0.3 0.4-0.4 0.4-2.6 0.4 0.8 0.4 0.2 0.4 0.5 0.4-2.1 0.4 2.1 0.4 0.3 0.4-1.2 0.4 1 0.4 1.1 0.4-1.2 0.4 1.1 0.4-0.1 0.4-0.6 0.4 0 0.4-0.8 0.4 1.6 0.4-1.7 0.4-0.2 0.4 1.4 0.4-1.4 0.4 1.1 0.4 0.6 0.4-0.9 0.4 0 0.4 0.8 0.4-0.2 0.4-2.3 0.4 0.3 0.4 2.6 0.4-0.9 0.4-2.5 0.4 0.7 0.4 1.4 0.4-1 0.4 1.4 0.4-0.4 0.4 0.5 0.4-1.7 0.4 1.8 0.4 1.3 0.4-2.7 0.4 2.1 0.4-0.3 0.4-0.4 0.4-0.7 0.4-1.1 0.4 0.3 0.4 1.6 0.4 0.2 0.4 0.3 0.4-0.3 0.4 0 0.4-1.4 0.4-0.7 0.4 1.4 0.4 0.3 0.4-0.5 0.4-1.6 0.4 1 0.4-0.9 0.4 1.6 0.4-1.2 0.4 0.9 0.4 0.5 0.4-0.2 0.4 1.2 0.4-2.5 0.4-1 0.4 3.1 0.4 0.4 0.4 0.1 0.4-1.2 0.4 0.3 0.4-0.4 0.4-1.5 0.4 0.8 0.4 1 0.4-1 0.4 2.4 0.4-3.4 0.4 1.1 0.4 1.5 0.4-1.7 0.4-0.5 0.4-0.2 0.4 0.6 0.4 2.2 0.4-1.1 0.4 0.1 0.4-1 0.4 1.3 0.4-0.7 0.4-1 0.4 0.4 0.4 0.7 0.4 1 0.4-1.3 0.4 0.6 0.4 1.5 0.4-2.8 0.4-0.5 0.4 2.3 0.4-0.6 0.4-0.5 0.4 0.3 0.4-0.6 0.4 0.9 0.4-0.9 0.4 1.2 0.4-2 0.4 0.3 0.4 1 0.4-0.6 0.4 1.1 0.4-0.7 0.4-0.5 0.4 0.7 0.4-0.8 0.4-1.1 0.4 0.4 0.4 0.3 0.4 0.3 0.4 0.5 0.4 0.8 0.4-0.4 0.4 1.2 0.4-0.6 0.4-1.5 0.4 1.8 0.4-0.5 0.4-1.7 0.4 0.7 0.4 0.7 0.4-0.9 0.4 0.8 0.4-0.7 0.4 0.3 0.4-1 0.4 0.6 0.4-0.7 0.4 1 0.4-2.3 0.4 2 0.4 0.9 0.4-0.6 0.4-0.6 0.4 0.6 0.4-1.3 0.4 0 0.4 0.6 0.4 0.2 0.4 1.2 0.4-1.8 0.4 1.9 0.4-2.5 0.4 0.8 0.4 0.8 0.4 1.3 0.4-1.7 0.4-1.5 0.4 2.6 0.4-0.4 0.4-1 0.4 0 0.4 0.4 0.4 0.8 0.4 0.6 0.4-2.1 0.4 3.7 0.4-2.3 0.4-0.3 0.4 1 0.4-0.5 0.4 2.2 0.4-1.3 0.4-1.4 0.4 0 0.4-0.2 0.4 0.2 0.4 1 0.4-1.3 0.4 2.3 0.4-1.7 0.4-0.1 0.4 1.1 0.4-2.9 0.4 1 0.4 1.5 0.4-0.5 0.4-0.1 0.4 0.4 0.4-1 0.4 0.5 0.4-1.2 0.4-0.5 0.4 3.1 0.4-2.2 0.4 0.2 0.4 2.1 0.4-0.3 0.4-1.6 0.4 0 0.4 0.5 0.4-0.9 0.4 1.5 0.4-0.4 0.4 0 0.4 0.6 0.4 0 0.4 1.1 0.4-0.3 0.4-3.3 0.4 2.6 0.4-2 0.4-0.3 0.4 2.1 0.4-1.4 0.4 0.4 0.4 1.4 0.4-1.7 0.4-0.3 0.4 1.3 0.4 0.9 0.4-0.7 0.4-2.1 0.4 0.9 0.4 0.5 0.4 2.1 0.4-1.1 0.4 0 0.4 0.3 0.4-1.5 0.4 0.8 0.4 0 0.4-1.4 0.4 0.9 0.4 0.6 0.4-1.6 0.4 1.8 0.4 0 0.4 0.3 0.4-1.8 0.4 0.8 0.4 1.4 0.4-0.7 0.4-1.6 0.4 1.1 0.4 1.2 0.4-1.5 0.4 0.4 0.4 2.2 0.4-2.6 0.4-0.1 0.4-0.9 0.4 0.4 0.4 2.1 0.4-1.6 0.4-1.1 0.4 0.3 0.4 0.9 0.4 0.8 0.4-1.5 0.4 1.4 0.4-1.2 0.4 0.9 0.4 0.1 0.4 0.1 0.4-1 0.4 0.3 0.4 0.6 0.4-1.8 0.4 1.5 0.4 0.3 0.4 0.6 0.4-1.1 0.4-0.2 0.4 0.3 0.4-0.8 0.4 0.5 0.4 0.6 0.4-0.2 0.4-1.4 0.4 0.7 0.4-1.8 0.4 2.8 0.4-1.4 0.4 0.8 0.4-1.5 0.4 1 0.4 0.5 0.4 0.4 0.4-2.4 0.4 2.2 0.4-1.1 0.4-0.7 0.4 1.2 0.4-0.8 0.4-0.1 0.4-0.4 0.4 0.8 0.4-0.2 0.4-0.3 0.4-0.8 0.4 0.4 0.4 0.9 0.4 0.9 0.4-1.3 0.4 1.4 0.4-1.4 0.4-1.1 0.4 1.7 0.4-1.5 0.4 1.4 0.4 0.7 0.4-1.4 0.4 0.3 0.4 2.6 0.4-2.2 0.4 0.1 0.4 0.6 0.4-0.8 0.4 0 0.4 0.6 0.4-2.8 0.4 3.9 0.4-2.4 0.4 0.1 0.4 1.6 0.4-0.4 0.4-1.2 0.4 1.5 0.4-1.3 0.4 0.5 0.4-0.8 0.4 0.7 0.4 1.3 0.4-0.2 0.4 0.2 0.4 0.6 0.4-1 0.4-0.6 0.4 0.4 0.4 1.9 0.4-1.6 0.4 0.3 0.4-0.4 0.4 0.3 0.4 0.2 0.4-0.4 0.4-0.2 0.4-0.6 0.4-0.1 0.4 1.3 0.4 0.3 0.4 0.2 0.4-0.9 0.4-0.8 0.4 1.4 0.4 0 0.4-2.1 0.4 2.3 0.4-0.2 0.4 1 0.4-2.7 0.4-0.2 0.4 2.1 0.4-2.6 0.4 1.1 0.4-0.4 0.4 0.1 0.4-0.9 0.4 1.6 0.4 1.3 0.4-0.6 0.4 0 0.4-0.8 0.4 1.8 0.4-0.9 0.4 0.5 0.4-2.6 0.4 1.9 0.4-1.5 0.4 1.5 0.4-0.1 0.4-1.3 0.4 1.3 0.4 0.9 0.4-0.6 0.4 0.1 0.4-1.5 0.4 0.2 0.4-0.4 0.4 1.2 0.4 1.1 0.4-0.8 0.4-0.4 0.4-1.1 0.4 1.5 0.4-0.6 0.4-1.7 0.4 0.2 0.4 1.4 0.4-0.6 0.4 2.5 0.4-1.6 0.4-1 0.4 0.5 0.4 2.1 0.4-2.5 0.4 1.7 0.4-0.4 0.4 1.1 0.4-1 0.4-0.9 0.4 0.9 0.4-0.4 0.4 0.9 0.4-1.1 0.4 2.1 0.4-2.1 0.4 0.5 0.4-1.1 0.4 0.8 0.4-0.1 0.4 0.2 0.4 0.7 0.4-1.4 0.4-0.3 0.4 1.9 0.4-1.4 0.4-0.4 0.4 1.9 0.4-0.4 0.4-3.4 0.4 2.2 0.4 1.2 0.4 0 0.4-1.3 0.4 2.1 0.4-2.4 0.4 0.6 0.4 0.3 0.4-0.1 0.4 0.8 0.4 0.2 0.4-1 0.4 1.4 0.4-2.1 0.4 0.5 0.4 1.9 0.4-1.6 0.4 1 0.4-1.5 0.4 0.1 0.4 0.2 0.4 0.3 0.4-0.5 0.4 0.3 0.4 0.7 0.4 0.5 0.4-1.1 0.4 0.6 0.4 0.2 0.4-2 0.4-0.5 0.4 3.2 0.4-0.3 0.4-1.2 0.4 0.3 0.4-1.3 0.4-0.5 0.4 1.7 0.4-1.8 0.4 2.4 0.4-1.6 0.4 1 0.4 1.6 0.4 0 0.4-2.2 0.4 1.4 0.4-2.1 0.4 0.4 0.4 1 0.4 1 0.4-2 0.4 1.1 0.4-0.4 0.4-1.4 0.4 1.2 0.4 1.6 0.4-1.6 0.4 0.6 0.4 0.3 0.4-1.5 0.4 1.9 0.4 0.3 0.4 0.1 0.4-0.3 0.4-1.8 0.4-0.1 0.4-0.2 0.4-0.1 0.4 0.1 0.4 1.8 0.4 0.4 0.4-2.1 0.4 1.5 0.4-2.1 0.4 0.9 0.4-0.6 0.4-0.7 0.4 1.7 0.4 0 0.4-0.4 0.4-0.2 0.4-0.4 0.4 0.8 0.4-0.4 0.4 0.8 0.4-1.5 0.4 1.5 0.4 0.3 0.4 0.7 0.4-0.2 0.4-0.9 0.4-0.8 0.4-1.2 0.4 1.8 0.4 1.4 0.4 0.3 0.4-4.2 0.4 1.8 0.4 0.4 0.4-0.7 0.4 1.2 0.4-0.1 0.4-0.6 0.4 0.5 0.4-1.6 0.4 0.6 0.4 0.1 0.4 1.8 0.4-2.5 0.4 1.4 0.4 1 0.4-0.8 0.4 0.8 0.4-1.5 0.4 1.1 0.4 0.5 0.4 1.3 0.4-1.5 0.4 0.7 0.4-1.4 0.4 0.1 0.4 1.5 0.4-1 0.4 0.8 0.4-0.7 0.4 1.4 0.4 0.3 0.4-3.2 0.4 2.6 0.4-1.4 0.4 0.1 0.4-0.6 0.4 0.8 0.4-1.8 0.4 0.4 0.4-0.1 0.4 1.1 0.4 0.6 0.4-0.2 0.4-0.4 0.4-0.9 0.4-1.2 0.4 2.2 0.4-0.3 0.4 0.2 0.4 1.1 0.4-1.6 0.4 0 0.4-2.2 0.4 2.9 0.4-0.6 0.4-0.7 0.4 1.1 0.4-1.4 0.4 0.5" fill="none" stroke="#c99c1a" stroke-width="3.3" stroke-linejoin="round" stroke-linecap="round"/>
<path d="M70.5 361.5l0.4 0.5 0.4 1.9 0.4-1 0.4-2.3 0.4 1.6 0.4-0.6 0.4 0.7 0.4-1.7 0.4 1.8 0.4 0 0.4 1.4 0.4-1.3 0.4 0.2 0.4-2 0.4 3.8 0.4-4.2 0.4 3 0.4-1.4 0.4-0.6 0.4 0.2 0.4 0 0.4 1.1 0.4-0.5 0.4 1.6 0.4-3.3 0.4 1.8 0.4-0.9 0.4 1.7 0.4-2.9 0.4 1.8 0.4 0.5 0.4-1.7 0.4 2.5 0.4-0.8 0.4 0.8 0.4 0 0.4-2 0.4 0.2 0.4 0.6 0.4 0.9 0.4 0.2 0.4-1.6 0.4 0.1 0.4-0.2 0.4 0.2 0.4 0.4 0.4 0.1 0.4 2.2 0.4-2.6 0.4 0.2 0.4 0.8 0.4-1.5 0.4 0.6 0.4 0.4 0.4 0.8 0.4-2.1 0.4 2.7 0.4-1.8 0.4 0.6 0.4 0.6 0.4-0.1 0.4 0.4 0.4-0.9 0.4-0.2 0.4 0.3 0.4-1.4 0.4 2.2 0.4-2 0.4-0.5 0.4 3.3 0.4-2.2 0.4-1.1 0.4 3 0.4-2.2 0.4 1.4 0.4-2 0.4 0.6 0.4-1.5 0.4-0.2 0.4 0.9 0.4 0.8 0.4 0.9 0.4 1.6 0.4-3.5 0.4 2 0.4-1.6 0.4 0.4 0.4-1.3 0.4-0.1 0.4 0.7 0.4-0.4 0.4 1.2 0.4-0.7 0.4 2 0.4-1.1 0.4 0 0.4 1 0.4-0.7 0.4-0.5 0.4 0 0.4-0.1 0.4 1.3 0.4-0.3 0.4-0.4 0.4 0.4 0.4-1.3 0.4 1.1 0.4-1.9 0.4 2.8 0.4-1.2 0.4 0.1 0.4 0.4 0.4-0.6 0.4-0.2 0.4 1.5 0.4-1 0.4-1 0.4 1.3 0.4-2.1 0.4 3.4 0.4-1.8 0.4 0.3 0.4 2.2 0.4-0.1 0.4-2 0.4 0.6 0.4 0.5 0.4 0.6 0.4-1.8 0.4 0.3 0.4 1.1 0.4-0.9 0.4 0.5 0.4-0.2 0.4-1.7 0.4 0.3 0.4-1.8 0.4 2.4 0.4 1.6 0.4-2.4 0.4 2.3 0.4-0.2 0.4-1.1 0.4 0.1 0.4 0.1 0.4-1 0.4 0.6 0.4 0.2 0.4 0.7 0.4 0.1 0.4-1.5 0.4 1.5 0.4-1.6 0.4 0.6 0.4 0.5 0.4-0.4 0.4-0.2 0.4 0.4 0.4-0.9 0.4-0.1 0.4 0.4 0.4 1.1 0.4-1.1 0.4 2 0.4-1.7 0.4-3.3 0.4 2.5 0.4 2.1 0.4-1.7 0.4-0.5 0.4-0.5 0.4 2.2 0.4-0.4 0.4-0.3 0.4-0.3 0.4 0.9 0.4-0.6 0.4-2.1 0.4 1.9 0.4-0.6 0.4-0.4 0.4 0.8 0.4-0.8 0.4-3 0.4 4.4 0.4-0.6 0.4-1.2 0.4-0.3 0.4 0.5 0.4-1.6 0.4 1.5 0.4-0.6 0.4-0.2 0.4-0.7 0.4 0.2 0.4 1.7 0.4 0.2 0.4-1 0.4-0.6 0.4-1 0.4 1.6 0.4 0.8 0.4-3.4 0.4 2.8 0.4-3.5 0.4 1.7 0.4 0.7 0.4-1.9 0.4-0.3 0.4 1.7 0.4 0.6 0.4-1.5 0.4 1.7 0.4-2.2 0.4 2.4 0.4-1.7 0.4 0 0.4 0.2 0.4-0.4 0.4 1.4 0.4 0.3 0.4-1.9 0.4-0.9 0.4-1.1 0.4 0.2 0.4 0.6 0.4-0.3 0.4-0.1 0.4-0.2 0.4 0.3 0.4-2.2 0.4 0.1 0.4 2 0.4-0.5 0.4-1.7 0.4 1.6 0.4-2.3 0.4 0.1 0.4-1.9 0.4 2.5 0.4-1.1 0.4 0.8 0.4-0.6 0.4-1 0.4-0.2 0.4 0.8 0.4-1.7 0.4-0.3 0.4 0 0.4 0.4 0.4-0.2 0.4 0.8 0.4-2.5 0.4 1.1 0.4-2.4 0.4 1.1 0.4-0.9 0.4 1.4 0.4-1.6 0.4-1.5 0.4 0.7 0.4-0.7 0.4-1.1 0.4-0.4 0.4-1.1 0.4 3.6 0.4-3.3 0.4 0.4 0.4-2.8 0.4-0.4 0.4 0.6 0.4-0.5 0.4 0.5 0.4-2.5 0.4 1.2 0.4 0.5 0.4-3.3 0.4 1.5 0.4-2.7 0.4 0.9 0.4-0.6 0.4 0.9 0.4-3.5 0.4 0.3 0.4 0.3 0.4-3.3 0.4 0.6 0.4-1.8 0.4-0.5 0.4 0.8 0.4-0.7 0.4 1.5 0.4-2.2 0.4-0.9 0.4-2.4 0.4-0.9 0.4-0.2 0.4-3.7 0.4 4.1 0.4-3.6 0.4-1.2 0.4 0 0.4 1 0.4-0.3 0.4-2.7 0.4 0.3 0.4-1.4 0.4-1.9 0.4 0.8 0.4-0.9 0.4-2.7 0.4 2.6 0.4-4.1 0.4 1.6 0.4-2.4 0.4-0.4 0.4-0.7 0.4 1.1 0.4-3.4 0.4 0.6 0.4 1.5 0.4-3.8 0.4 0.1 0.4 0.1 0.4-2.4 0.4 0.6 0.4-2.2 0.4 1.1 0.4-1.5 0.4-2 0.4 2.5 0.4-2.5 0.4-0.8 0.4-1.3 0.4 0.1 0.4 0.1 0.4-0.1 0.4 0.8 0.4-3.7 0.4 0.9 0.4 1.7 0.4-1.8 0.4 0 0.4 1.3 0.4-2.1 0.4-0.1 0.4-1 0.4 2.3 0.4-1.2 0.4-2.7 0.4 1.6 0.4-2.5 0.4 2.9 0.4-0.7 0.4-1.3 0.4-0.4 0.4-2.1 0.4 3.6 0.4-1.2 0.4-0.2 0.4 1.6 0.4-1.8 0.4 0.4 0.4 0.1 0.4-0.6 0.4 5.6 0.4-3.2 0.4 0.1 0.4 2.1 0.4-5.1 0.4 4.7 0.4 0.6 0.4-0.7 0.4 2.6 0.4-2.7 0.4 3.5 0.4 2 0.4-3.3 0.4 1.9 0.4 2.6 0.4 1.1 0.4 0.1 0.4 2.3 0.4 0.7 0.4-1.1 0.4 2.6 0.4-0.6 0.4-0.1 0.4 0.6 0.4 5.4 0.4-0.4 0.4 3.8 0.4-3.2 0.4 2.6 0.4 2.1 0.4 0.6 0.4 2 0.4 0.8 0.4 0.3 0.4-0.9 0.4 2.8 0.4 4.4 0.4 0 0.4 1.8 0.4-1.3 0.4 1.5 0.4 0.2 0.4 2.5 0.4 0.5 0.4 1.5 0.4 2.4 0.4-2 0.4 2.7 0.4-1.5 0.4 3.7 0.4-0.8 0.4 1.3 0.4 1 0.4 2.5 0.4-1 0.4 0.2 0.4 0 0.4 2.3 0.4-0.5 0.4 1.1 0.4 1.2 0.4 1.4 0.4-0.8 0.4 2.1 0.4 1.9 0.4-2.9 0.4 3.7 0.4 1.4 0.4-2.3 0.4 1.8 0.4-1.5 0.4 2.3 0.4-0.3 0.4 1.1 0.4-0.8 0.4 0.4 0.4 0.7 0.4 0 0.4 0.4 0.4 0.7 0.4-0.7 0.4 1.2 0.4 0.9 0.4-2.6 0.4 2.7 0.4-0.7 0.4-0.2 0.4-0.1 0.4 0.7 0.4 0.3 0.4 1.2 0.4-1.5 0.4 2.5 0.4-1.7 0.4 1.6 0.4 0.5 0.4-2.2 0.4 2.4 0.4 1.3 0.4-2.6 0.4 1.2 0.4-0.6 0.4 0.3 0.4-0.2 0.4-0.2 0.4 1.3 0.4 0.2 0.4-0.8 0.4 1.6 0.4-0.3 0.4-0.4 0.4-1.3 0.4 2.7 0.4-0.6 0.4-3.4 0.4 1.1 0.4 0.7 0.4 1.5 0.4 0.3 0.4-1.5 0.4 0.6 0.4 0.5 0.4-1.9 0.4 1.9 0.4-0.8 0.4 0.5 0.4-0.2 0.4-1.1 0.4 0.2 0.4 1 0.4 0.1 0.4-0.4 0.4 1.4 0.4-1.5 0.4-0.8 0.4 0.8 0.4 0.2 0.4 0 0.4 1.3 0.4-0.6 0.4 0.5 0.4-0.5 0.4-0.8 0.4 1.2 0.4-1.3 0.4 0.5 0.4-1.2 0.4 1 0.4-0.4 0.4 0.7 0.4 1.4 0.4 0.6 0.4-1.4 0.4-1.1 0.4 0.9 0.4-0.6 0.4-0.9 0.4 0.6 0.4-0.2 0.4-0.4 0.4 2 0.4-2 0.4 0.1 0.4 1.2 0.4-1.5 0.4-0.4 0.4 0.3 0.4 1.3 0.4-0.1 0.4-0.1 0.4-0.8 0.4-0.4 0.4 1.8 0.4-2.4 0.4 1.2 0.4-1.1 0.4 0.9 0.4 0.3 0.4 1.4 0.4-4.2 0.4 4.3 0.4-2.3 0.4 1.2 0.4 0.5 0.4-1.5 0.4 0.6 0.4 0.6 0.4-0.6 0.4-0.6 0.4 0.9 0.4-0.1 0.4-1.6 0.4 2.9 0.4-1.1 0.4-2.7 0.4 1.6 0.4 2.6 0.4-0.2 0.4-1.3 0.4-2 0.4 1.5 0.4 1.3 0.4-0.7 0.4-0.7 0.4-0.4 0.4 1.6 0.4-1.1 0.4 0.6 0.4 0.1 0.4 1.2 0.4-1.5 0.4 0.1 0.4-2.1 0.4 3 0.4-0.3 0.4-0.9 0.4-2.2 0.4 1.7 0.4 0.6 0.4 2 0.4-1.5 0.4 0.2 0.4 0.1 0.4 0.5 0.4-2.5 0.4 0.3 0.4-0.3 0.4 0.9 0.4-0.1 0.4 0.4 0.4-1.1 0.4 1.1 0.4-0.9 0.4 3 0.4-2.7 0.4 3.1 0.4-0.9 0.4-2.9 0.4 2.2 0.4-0.4 0.4-2.1 0.4 2.1 0.4-0.7 0.4 0.5 0.4-1.2 0.4 0.8 0.4 0.4 0.4-0.6 0.4-0.4 0.4 0.5 0.4-0.9 0.4 1.4 0.4-3 0.4 4.1 0.4-1.4 0.4 0.4 0.4 0.4 0.4-2.2 0.4 3.6 0.4-3.5 0.4 1.6 0.4-0.1 0.4 1 0.4-1.4 0.4-1.4 0.4 1.8 0.4-2.9 0.4 2.3 0.4-0.3 0.4 2.1 0.4-1.9 0.4-0.2 0.4-0.3 0.4-0.1 0.4 0.3 0.4 1.1 0.4-1.9 0.4 1.1 0.4-1.3 0.4 1.3 0.4 0.3 0.4-1.4 0.4 0.7 0.4 0.6 0.4 0.7 0.4 0.2 0.4-1.1 0.4-0.9 0.4-0.7 0.4 2.5 0.4 0.6 0.4-1.1 0.4 1.2 0.4-2 0.4 0 0.4 2 0.4-2.6 0.4 1.6 0.4-0.3 0.4-0.2 0.4 1.6 0.4-2.7 0.4 0.5 0.4-1.7 0.4 1 0.4 0.5 0.4 0.1 0.4 0.2 0.4 0.5 0.4-1 0.4-1.3 0.4 2.1 0.4 0.3 0.4-1.7 0.4 0.4 0.4 2.6 0.4-0.8 0.4 0 0.4-0.4 0.4-0.6 0.4-0.7 0.4 1.1 0.4-0.8 0.4-0.3 0.4 0.5 0.4-0.1 0.4 0.9 0.4-1.9 0.4 3.5 0.4-3.6 0.4 0.6 0.4 1.3 0.4-1.8 0.4 0.3 0.4 0.5 0.4-3.1 0.4 2.5 0.4-0.5 0.4 0.7 0.4 0.7 0.4 0.1 0.4 0.9 0.4-0.1 0.4-0.5 0.4-1.1 0.4 1 0.4-2.1 0.4 0.9 0.4 1.5 0.4-0.7 0.4-2.3 0.4 0.8 0.4 1.5 0.4-0.3 0.4 0.4 0.4-3 0.4 0.5 0.4 1 0.4-0.8 0.4 0.9 0.4 0 0.4 0.3 0.4-0.6 0.4 0.7 0.4 0.1 0.4-0.7 0.4-1.5 0.4 2.5 0.4-1.2 0.4 0.1 0.4-0.4 0.4-1.9 0.4 2.1 0.4-1.4 0.4-0.7 0.4 2.4 0.4-1.7 0.4 0.4 0.4 0.5 0.4 0.6 0.4-3.7 0.4 1 0.4 1.3 0.4-1.5 0.4-2.8 0.4 3.4 0.4-0.1 0.4 0.5 0.4-0.8 0.4-0.8 0.4 0.6 0.4-0.4 0.4-0.6 0.4 0.6 0.4 0 0.4-1.5 0.4 2 0.4-0.4 0.4-0.1 0.4-3.9 0.4 2.9 0.4-0.4 0.4-1 0.4 1.5 0.4-2.3 0.4 2.8 0.4-1 0.4-1.1 0.4 1.9 0.4-1.1 0.4-0.3 0.4-1.8 0.4 1.8 0.4 0.8 0.4-0.5 0.4-2.6 0.4 2.7 0.4 0.1 0.4-0.9 0.4-1.4 0.4-1.3 0.4 0.5 0.4 0.2 0.4 0.8 0.4 0.2 0.4-1.5 0.4-1.1 0.4 1.2 0.4-1.1 0.4 2.7 0.4-2.8 0.4 1.7 0.4 0.4 0.4-2 0.4 2.2 0.4-1.2 0.4-0.7 0.4-0.1 0.4 1.2 0.4 1.1 0.4-3.1 0.4 2.8 0.4-0.7 0.4-0.6 0.4 0.8 0.4 0.3 0.4 0.1 0.4 1 0.4-1.6 0.4 3.2 0.4-1 0.4-1.4 0.4-1.3 0.4 2.2 0.4-0.3 0.4 1.4 0.4 0.2 0.4 1.4 0.4-2 0.4 1.1 0.4-1.1 0.4 0.2 0.4 2.1 0.4-1.6 0.4 0.2 0.4-0.1 0.4 0.8 0.4 0.5 0.4-0.6 0.4-0.9 0.4 1.7 0.4-1.1 0.4 0.7 0.4 0.7 0.4 0.2 0.4-2.5 0.4 4.4 0.4-0.8 0.4 1.4 0.4 0.7 0.4-3.4 0.4 0.5 0.4 1 0.4 0.9 0.4-1.4 0.4 0.4 0.4 1.5 0.4-1.9 0.4 1.3 0.4 1 0.4-1.3 0.4 1.2 0.4-0.9 0.4-1.4 0.4 1.1 0.4 0.5 0.4-0.1 0.4 0.4 0.4 0.5 0.4-0.1 0.4 0 0.4-0.6 0.4 0.3 0.4-0.1 0.4-0.1 0.4 2 0.4-3.3 0.4 2.3 0.4-1.9 0.4 1.1 0.4 1.5 0.4-1 0.4 1.7 0.4-2.3 0.4 0.7 0.4-0.3 0.4 0.7 0.4-0.3 0.4 0 0.4 0.5 0.4 1.1 0.4-0.9 0.4-0.1 0.4-0.3 0.4-0.4 0.4-0.7 0.4 0.5 0.4 1.1 0.4-2 0.4 2.7 0.4-1.1 0.4-0.5 0.4 0.4 0.4 1.3 0.4-0.3 0.4-0.1 0.4 1.6 0.4 0.6 0.4-3.6 0.4 2.2 0.4-1.7 0.4-0.5 0.4 0.8 0.4 1.6 0.4-1.3 0.4-0.1 0.4 1.9 0.4-0.9 0.4-0.5 0.4 1.9 0.4-1.3 0.4-1.2 0.4-0.4 0.4 0.7 0.4 0.7 0.4 0.7 0.4 0 0.4-0.8 0.4-1.2 0.4 2.1 0.4-0.8 0.4-1.2 0.4-0.2 0.4 1.5 0.4 0.1 0.4 0.5 0.4-2 0.4 3.2 0.4-3.8 0.4 1.8 0.4 1.4 0.4-0.3 0.4-2 0.4 1.6 0.4 0.6 0.4-0.5 0.4-1.7 0.4 2.7 0.4-3.4 0.4 1.7 0.4-1.1 0.4 0.7 0.4 0.1 0.4 0.8 0.4-1.8 0.4 1.5 0.4 1.1 0.4-1.2 0.4 0.5 0.4-0.1 0.4-1.2 0.4 0.3 0.4 0.5 0.4 0.4 0.4 1.6 0.4-0.4 0.4-2.1 0.4 0 0.4-0.6 0.4-1.3 0.4 3.7 0.4-0.8 0.4-2.5 0.4 1.9 0.4 2.4 0.4-1.9 0.4 0 0.4-0.3 0.4-0.9 0.4-0.4 0.4 0.3 0.4 1 0.4-0.4 0.4 0.9 0.4 1.1 0.4-1.2 0.4 0.3 0.4-1.2 0.4-1 0.4 3.5 0.4-1.4 0.4 0.5 0.4-1.6 0.4-1.4 0.4 3.1 0.4-3.5 0.4 2 0.4-0.4 0.4 0.8 0.4 0.6 0.4 0 0.4-3 0.4 3.2 0.4-3 0.4 2.6 0.4-1.1 0.4-0.7 0.4 0.6 0.4-0.8 0.4 1.3 0.4 1 0.4-0.1 0.4-0.8 0.4 1.1 0.4-0.7 0.4 1.7 0.4-1.6 0.4-1.2 0.4 0.3 0.4-0.4 0.4 0.4 0.4 0.2 0.4 0.8 0.4 0.1 0.4-0.7 0.4 0.4 0.4-1.2 0.4 0.2 0.4-2 0.4 1.7 0.4 0.3 0.4 3.1 0.4-4 0.4 1.5 0.4-0.4 0.4-1.3 0.4 1.9 0.4-0.3 0.4-1.5 0.4-0.9 0.4 2.3 0.4-1.4 0.4 2.2 0.4-1 0.4 0.8 0.4-0.8 0.4 1.9 0.4-0.9 0.4 0.9 0.4-1.5 0.4-1.1 0.4-0.4 0.4 0.9 0.4 0.8 0.4-0.9 0.4 3.1 0.4-2.6 0.4 0.6 0.4-0.4 0.4-1.4 0.4 2.4 0.4-0.4 0.4 0.2 0.4-1.8 0.4 0.9 0.4 0 0.4 1.2 0.4-2.6 0.4 2.1 0.4 0.6 0.4-1.7 0.4-0.4 0.4 2.2 0.4-1.1 0.4 0.9 0.4-0.4 0.4 0.3 0.4-1.2 0.4-2 0.4 2.8 0.4-1.4 0.4 1.4 0.4-1.2 0.4 2.2 0.4-1.9 0.4 1.1 0.4 0.3 0.4-1.2 0.4 0.4 0.4-0.4 0.4-0.9 0.4 2.5 0.4-2.5 0.4-0.7 0.4 1.1 0.4 0.7 0.4-0.1 0.4-0.4 0.4-0.1 0.4-1.8 0.4 2.9 0.4 1.1 0.4-2.5 0.4-1.1 0.4 2.6 0.4-1 0.4-3.9 0.4 3.3 0.4-0.7 0.4 0.3 0.4 3.3 0.4-1.1 0.4-1.1 0.4 0.1 0.4 1.6 0.4-2.7 0.4 1.9 0.4-1.4 0.4 1.5 0.4-0.6 0.4-1 0.4 1.8 0.4-0.5 0.4 1.3 0.4-2.3 0.4 0.6 0.4-0.9 0.4 2 0.4-2.1 0.4 0.8 0.4 1.4 0.4-0.8 0.4-0.3 0.4 0 0.4 0.1 0.4 0.3 0.4-1 0.4-1.7 0.4 3.4 0.4-2.5 0.4 3 0.4-1.6 0.4 3 0.4-2.1 0.4-0.8 0.4 0.6 0.4-2.4 0.4 1.6 0.4-0.6 0.4 0.4 0.4-2.1 0.4-0.2 0.4 3 0.4-0.7 0.4-0.5 0.4 0.4 0.4-0.6 0.4 0.2 0.4 1.2 0.4-1 0.4 1 0.4-1.5 0.4-1.1 0.4 1.2 0.4 0.5 0.4-1 0.4 0.7 0.4-0.1 0.4 1.5 0.4-0.1 0.4 0.3 0.4-2 0.4 1.2 0.4 1 0.4-1.2 0.4-0.2 0.4-0.8 0.4 1.7 0.4-0.7 0.4 0.9 0.4-1.2 0.4 2.3 0.4-2.2 0.4-1.2 0.4 1.4 0.4 0.3 0.4 0.9 0.4-1.9 0.4 0 0.4 0.2 0.4-0.1 0.4-1.8 0.4 3 0.4 0.5 0.4-2.1 0.4-0.2 0.4 0.9 0.4-0.7 0.4 1.6 0.4-1.4 0.4 1.3 0.4-2 0.4-0.1 0.4-0.2 0.4 0.2 0.4 1.9 0.4 0.4 0.4-0.7 0.4 0 0.4-2.5 0.4 3.5 0.4-2.5 0.4 2.7 0.4 1.1 0.4-2.4 0.4 0.6 0.4 0 0.4-2 0.4 0.2 0.4 0.4 0.4 0.9 0.4 0.7 0.4-0.8 0.4 1.1 0.4-1.7 0.4-0.9 0.4 1.5 0.4-0.1 0.4-1.4 0.4 2.5 0.4-2.1 0.4 0.3 0.4 1 0.4-1.4 0.4 1.8 0.4-0.3 0.4 0.1 0.4-0.5 0.4-0.5 0.4-0.3 0.4 1.1 0.4 1.1 0.4-0.6 0.4-0.4 0.4 0.7 0.4 0.3 0.4-2.7 0.4 1.3 0.4 1.3 0.4-1.9 0.4 0.2 0.4 1.1 0.4-0.9 0.4 1.5 0.4-1.6 0.4 1 0.4 1.9 0.4-1.4 0.4-2.5 0.4 0.3 0.4 0 0.4 1 0.4-1.4 0.4 2 0.4 1.2 0.4-0.1 0.4-2.4 0.4 0.5 0.4-0.1 0.4-0.5 0.4 2.6 0.4-2.5 0.4-0.4 0.4 1.5 0.4 0 0.4 1.2 0.4 0 0.4-1.8 0.4-1.9 0.4 2.8 0.4 0.2 0.4 1 0.4-3.5 0.4 0.4 0.4 2.8 0.4 0.1 0.4-0.4 0.4-1.3 0.4 1.3 0.4-1.9 0.4-0.7 0.4 1.2 0.4 0.2 0.4 0.7 0.4 0.3 0.4-2.9 0.4 2.1 0.4 0.2 0.4-1.8 0.4 1 0.4 0.3 0.4 0.4 0.4-1.3 0.4 0.3 0.4-0.6 0.4 1.5 0.4-0.7 0.4-0.2 0.4 1.2 0.4-0.8 0.4-1.1 0.4 2.4 0.4-0.1 0.4-0.6 0.4-1.5 0.4 2.2 0.4-1.7 0.4-1.4 0.4 1.8 0.4 2 0.4-2.3 0.4 1.1 0.4 0.8 0.4-1.3 0.4-0.5 0.4 0.4 0.4 0.6 0.4-1.2 0.4 0.9 0.4 0.2 0.4-0.9 0.4 1.1 0.4-0.2 0.4-0.9 0.4 0.2 0.4 0.3 0.4-0.3 0.4-0.1 0.4-0.8 0.4 1.2 0.4 0.6 0.4-0.1 0.4-1.5 0.4 1.4 0.4 0.1 0.4-1.6 0.4 1.5 0.4-0.7 0.4-0.2 0.4 0.6 0.4-0.4 0.4-2.1 0.4 2.5 0.4-1.4 0.4 1.1 0.4 0.7 0.4-0.9 0.4-0.2 0.4 0.6 0.4 0.4 0.4-1.4 0.4 0.2 0.4 1.2 0.4 1.1 0.4-1.6 0.4 0.8 0.4-1.6 0.4 0.8 0.4 0 0.4-1.3 0.4 1.2 0.4-0.1 0.4-2.4 0.4 2.5 0.4 0.3 0.4 0 0.4 0.1 0.4-1.5 0.4 0.4 0.4 0.5 0.4-0.6 0.4 0.4 0.4 1.6 0.4-2.1 0.4 0.6 0.4 2.1 0.4-1.9 0.4-0.9 0.4 1.3 0.4-0.1 0.4 0 0.4-1.8 0.4 1.9 0.4 0.1 0.4 1.7 0.4-1.4 0.4-1.1 0.4 0.8 0.4 0.3 0.4-0.8 0.4 0.1 0.4 1.4 0.4-0.8 0.4 0 0.4-1.4 0.4 1.3 0.4-2.3 0.4 3.1 0.4-1.6 0.4 1.1 0.4 0.7 0.4-2.4 0.4 2.2 0.4-0.9 0.4 0.9 0.4-1.5 0.4-0.3 0.4 1.9 0.4-0.8 0.4-0.4 0.4-1.2 0.4 2.5 0.4-1.7 0.4 0.2 0.4-0.5 0.4 0.7 0.4 0.6 0.4-0.7 0.4 0 0.4-0.5 0.4 2 0.4 0.2 0.4-1.9 0.4-0.6 0.4 1.1 0.4-1.8 0.4 1.8 0.4 0 0.4-0.1 0.4 1.4 0.4 0.3 0.4-1.4 0.4-0.8 0.4 1.4 0.4 0.1 0.4-2.3 0.4 0.4 0.4 0.5 0.4-1.4 0.4 0.6 0.4 2.7 0.4-2.9 0.4 2.1 0.4-1.6 0.4 1.7 0.4-0.6 0.4 0.5 0.4-2.2 0.4 1.6 0.4-0.8 0.4 1.3 0.4 0 0.4-0.6 0.4-0.3 0.4 0.1 0.4 0.3 0.4-0.7 0.4 0 0.4-0.2 0.4-0.4 0.4 2.1 0.4-2.3 0.4 2.5 0.4-0.6 0.4-2.3 0.4-0.2 0.4 1.9 0.4-1.1 0.4 1.2 0.4 0.8 0.4-0.6 0.4-0.6 0.4 0.1 0.4 1.6 0.4-1.8 0.4 2.1 0.4 0.3 0.4-2.4 0.4 0.7 0.4 1.3 0.4-2.3 0.4 1.1 0.4 0.6 0.4-2 0.4 1.3 0.4-0.2 0.4-0.6 0.4 2 0.4-1.6 0.4 2.3 0.4-1.5 0.4-1.4 0.4 1 0.4-1.1 0.4 1.6 0.4-0.2 0.4-1.8 0.4 0.8 0.4 0.9 0.4-0.4 0.4-1.1 0.4 2.1 0.4 0.2 0.4-2.8 0.4 2.9 0.4-3.4 0.4 1.8 0.4-0.5 0.4 0.1 0.4 0.8 0.4-1.4 0.4 1.1 0.4 1.7 0.4-1.2 0.4 1 0.4-0.6 0.4-2.4 0.4 3.3 0.4-0.9 0.4-0.2 0.4-1 0.4-0.1 0.4-0.6 0.4 0.9 0.4 0.3 0.4-0.3 0.4 0 0.4-1.7 0.4 1.1 0.4 0 0.4 1.1 0.4-0.8 0.4 0 0.4 0.5 0.4-0.5 0.4 0.2 0.4 1.3 0.4-1.2 0.4-0.7 0.4 1.4 0.4 0.2 0.4-0.1 0.4-1.9 0.4 2.2 0.4-0.9 0.4 0.1 0.4-0.1 0.4 0.4 0.4 0 0.4 1 0.4-1.2 0.4-0.3 0.4 0.7 0.4-0.7 0.4 1.1 0.4-0.9 0.4 0.6 0.4-1.2 0.4 1.4 0.4-0.3 0.4-1.5 0.4 0.5 0.4 0.4 0.4-1.3 0.4 0.2 0.4 1.5 0.4 0.1 0.4 0.8 0.4-2.6 0.4 0.9 0.4-1.6 0.4 3.7 0.4-3 0.4 1 0.4 2.1 0.4-0.5 0.4-2.2 0.4 3 0.4-1.7 0.4-1.5 0.4 1.3 0.4 0.4 0.4-0.1 0.4-2.6 0.4 3.8 0.4-3.3 0.4 1.3 0.4 1.6 0.4-1 0.4-0.4 0.4-0.6 0.4 1.2 0.4 0.8 0.4-1.9 0.4 0.9 0.4-0.7 0.4-0.1 0.4-1.6 0.4 2.3 0.4 0.6 0.4-1 0.4 1.1 0.4-0.8 0.4 1 0.4-1 0.4-0.5 0.4-0.2 0.4 0.6 0.4 0.2 0.4-1 0.4 0.6 0.4-1.2 0.4 0 0.4 1.9 0.4-0.2 0.4 0.5 0.4-0.8 0.4 0.1 0.4 1.6 0.4-2.6 0.4 1.1 0.4 1.2 0.4 0.5 0.4-1.5 0.4-0.6 0.4-0.9 0.4 0.8 0.4 0.3 0.4-0.1 0.4 0.5 0.4 0 0.4-1 0.4-0.4 0.4 0.6 0.4 0.7 0.4 1.1 0.4-3.1 0.4 2.6 0.4-1.3 0.4 1.3 0.4 0.7 0.4-1.3 0.4-1.6 0.4 0.7 0.4 0.8 0.4-0.7 0.4 0.2 0.4-0.6 0.4 0.5 0.4-0.4 0.4 1.4 0.4-0.5 0.4 0.4 0.4-2.3 0.4 1.1 0.4-0.2 0.4 0.3" fill="none" stroke="#aa1a1f" stroke-width="3.3" stroke-linejoin="round" stroke-linecap="round"/>
<path d="M70.5 442.7l0.4-0.5 0.4 1.1 0.4 0.6 0.4 0.7 0.4-1 0.4-0.7 0.4-0.2 0.4 1.5 0.4 0.8 0.4-1.4 0.4-1.5 0.4 0.2 0.4 2.5 0.4-1.4 0.4-2 0.4 1.6 0.4-1.2 0.4 0.5 0.4 0 0.4-0.3 0.4 1.2 0.4-0.6 0.4-0.7 0.4 1 0.4 0.3 0.4-2.5 0.4 1.3 0.4-0.8 0.4 0.7 0.4-1.2 0.4 1.3 0.4-0.1 0.4-0.4 0.4-0.8 0.4 0.6 0.4-0.7 0.4-0.3 0.4 1.5 0.4-1.4 0.4 2.3 0.4-0.5 0.4-2.7 0.4 2.3 0.4-1.4 0.4 1.1 0.4 0.1 0.4-2.1 0.4 1.8 0.4 0 0.4 1.3 0.4-2.2 0.4 2 0.4-1.8 0.4 0.8 0.4-0.5 0.4 2.4 0.4-0.9 0.4 1.9 0.4-1.7 0.4 0.2 0.4 0 0.4-1.4 0.4 0.6 0.4 1.5 0.4-1.7 0.4 0.7 0.4-0.1 0.4 0.7 0.4-0.9 0.4 0.3 0.4 0.5 0.4-0.1 0.4-0.8 0.4 1.8 0.4-2.1 0.4 0.2 0.4 0 0.4 2.3 0.4-1.3 0.4-0.5 0.4-0.2 0.4 1.6 0.4-1.5 0.4-0.2 0.4 1.9 0.4-1.8 0.4 0.8 0.4 0.3 0.4-0.5 0.4 0.4 0.4 1.3 0.4-1.9 0.4-0.8 0.4-0.6 0.4 1.6 0.4-0.2 0.4 0.5 0.4-0.8 0.4-0.1 0.4-0.3 0.4 0.1 0.4 0.7 0.4-0.7 0.4 0.4 0.4 1.8 0.4-1.5 0.4-2.2 0.4 3.3 0.4-1.5 0.4-1.4 0.4 1.8 0.4-1 0.4-0.7 0.4-0.1 0.4-0.4 0.4 1 0.4 1 0.4-1.5 0.4 0.7 0.4 1.4 0.4-3.2 0.4 1.5 0.4-0.6 0.4-0.8 0.4 0 0.4 1 0.4 0.4 0.4-1 0.4 0.6 0.4 0.7 0.4-0.5 0.4 0.6 0.4-0.4 0.4 0 0.4 1.3 0.4-1.2 0.4-0.5 0.4 0.6 0.4-1.7 0.4 0.6 0.4 1.1 0.4-0.2 0.4 1 0.4-1.6 0.4-1.5 0.4 3.5 0.4-0.9 0.4-2.2 0.4 2.5 0.4-1.4 0.4-1.9 0.4 1.4 0.4-0.1 0.4 2.1 0.4-2.4 0.4 0.5 0.4 0 0.4-0.1 0.4-0.5 0.4 1.1 0.4 0.9 0.4-0.5 0.4-1.6 0.4-0.2 0.4 1.3 0.4-0.9 0.4 0.1 0.4-1.1 0.4 3.7 0.4-1.1 0.4-1.9 0.4 1.9 0.4 0.4 0.4-3.8 0.4 1.9 0.4 0.1 0.4 1 0.4-0.8 0.4-0.1 0.4 0.2 0.4 1.9 0.4 0.3 0.4-2.8 0.4-0.4 0.4 3.7 0.4-3.8 0.4 0.4 0.4 0.6 0.4 0.4 0.4 0.6 0.4-0.7 0.4-1.3 0.4 1.4 0.4-0.3 0.4 1.6 0.4-2 0.4-1.3 0.4 0.2 0.4 2.5 0.4-2 0.4-1.7 0.4 1.5 0.4 0.6 0.4 1.2 0.4-2.3 0.4 1.6 0.4 0.1 0.4-1.6 0.4 0.5 0.4 1.9 0.4-0.1 0.4-1.1 0.4-0.7 0.4 0.7 0.4-1.5 0.4-0.2 0.4-1 0.4 0.7 0.4-0.3 0.4 2.8 0.4-3.3 0.4 1.4 0.4-0.1 0.4-1.6 0.4 1.3 0.4-3.5 0.4 2.3 0.4 0.7 0.4-3.4 0.4 1.2 0.4 2.3 0.4-1.4 0.4-0.9 0.4 0.7 0.4-0.2 0.4 1.2 0.4-0.3 0.4-0.8 0.4-0.5 0.4 0.6 0.4 1.4 0.4-1.1 0.4 0.2 0.4-1 0.4-1.4 0.4 0.4 0.4 1.2 0.4-0.8 0.4-1.3 0.4-1.1 0.4 1.6 0.4-0.8 0.4-0.4 0.4-0.3 0.4 0.3 0.4-0.3 0.4 0.3 0.4-0.4 0.4 0.1 0.4-0.9 0.4-1.6 0.4-0.1 0.4 0.2 0.4-1.3 0.4 0.4 0.4 0.2 0.4-2.6 0.4-1.6 0.4 2.8 0.4-1.8 0.4 0.3 0.4-2.8 0.4 2.9 0.4-1.6 0.4-1.5 0.4-0.8 0.4 0 0.4-0.8 0.4-0.6 0.4-1.4 0.4 2.2 0.4-1.9 0.4-0.4 0.4-0.4 0.4-3.3 0.4 2.9 0.4-1.5 0.4-0.5 0.4 0 0.4-1.7 0.4 1.6 0.4-2.3 0.4-0.7 0.4-0.5 0.4 0.8 0.4 0.2 0.4-2.2 0.4-1.6 0.4 2.6 0.4-3.1 0.4 2.2 0.4-2.1 0.4-1.3 0.4-0.5 0.4 0.8 0.4-0.1 0.4-1.9 0.4 0.9 0.4 0.9 0.4-3.5 0.4-1.7 0.4-0.5 0.4-1 0.4 0.4 0.4-0.7 0.4-1.3 0.4 1.8 0.4-4.6 0.4 1 0.4 3.8 0.4-1.9 0.4-1.3 0.4-0.7 0.4 1.2 0.4-2.2 0.4-1.2 0.4-2.3 0.4 0.9 0.4-1.4 0.4-0.5 0.4-0.5 0.4 0.4 0.4-0.9 0.4 1.2 0.4-3.5 0.4 1 0.4 2.3 0.4-3.1 0.4 1.1 0.4-0.6 0.4-0.3 0.4-1.3 0.4-3.4 0.4 1.2 0.4-0.6 0.4-2 0.4 1.2 0.4-1.3 0.4-0.8 0.4 2.5 0.4-0.4 0.4-0.9 0.4-0.3 0.4 0.5 0.4 0.2 0.4 0 0.4 0.5 0.4-0.5 0.4 1.2 0.4 0.3 0.4-0.1 0.4-1.1 0.4 0.4 0.4 1.8 0.4-0.5 0.4 0.7 0.4-2.9 0.4 0.1 0.4 4.7 0.4 0.4 0.4 1.9 0.4-0.4 0.4-0.1 0.4 0.3 0.4-1.3 0.4 3.8 0.4-1.4 0.4 2.2 0.4 0.3 0.4 0.9 0.4 1.5 0.4-1 0.4 0.9 0.4 0.2 0.4 1.4 0.4 3.4 0.4-1.9 0.4 2.8 0.4 0.4 0.4 0.7 0.4 0.9 0.4-1.4 0.4 2.7 0.4 2.4 0.4-1.9 0.4 1.7 0.4 0.2 0.4 2.1 0.4-0.7 0.4 4.2 0.4-1.5 0.4-0.5 0.4 4.8 0.4-0.1 0.4 0.3 0.4 0.8 0.4-0.2 0.4 1 0.4 1.9 0.4 1 0.4 0.8 0.4 0 0.4 0.1 0.4 1.1 0.4 2.2 0.4 1.1 0.4-1.3 0.4 0.6 0.4 2.6 0.4 0 0.4 0.6 0.4-1.7 0.4 1.5 0.4 0.4 0.4 1.2 0.4-1.7 0.4 3.6 0.4-0.7 0.4 0.5 0.4-1.4 0.4 1.6 0.4 1.7 0.4-2.7 0.4 2.2 0.4 0.7 0.4-1.2 0.4 1.9 0.4-0.9 0.4 1.9 0.4-0.5 0.4 0 0.4 2.1 0.4-1 0.4 0.8 0.4-2.3 0.4 0.9 0.4 1.8 0.4 0.3 0.4-0.7 0.4 1.2 0.4-1.7 0.4 1.6 0.4-1.1 0.4 1.7 0.4-0.6 0.4 0.1 0.4 0.9 0.4 1.9 0.4-2.7 0.4 0.6 0.4 1.8 0.4-1.4 0.4 2.3 0.4-1.5 0.4 0 0.4 0.4 0.4 1.5 0.4-1.1 0.4 0 0.4-0.2 0.4-1.7 0.4 0.7 0.4 2.4 0.4-0.6 0.4-0.2 0.4 0.1 0.4-1.1 0.4 0.9 0.4-1.2 0.4 1.3 0.4-1 0.4 0.5 0.4 0.7 0.4-0.8 0.4 1 0.4-0.2 0.4 0 0.4 0.9 0.4-2.7 0.4-0.1 0.4 2.2 0.4 0.3 0.4 1.1 0.4-1.3 0.4 0.1 0.4-1.7 0.4 1.7 0.4-0.1 0.4-1.8 0.4 0.2 0.4 0.7 0.4 0.4 0.4-3.2 0.4 3 0.4 0.1 0.4-0.4 0.4 0.4 0.4 0.1 0.4-1.5 0.4 1.4 0.4-0.7 0.4-0.7 0.4 1.1 0.4 1.2 0.4-3 0.4-0.2 0.4 0 0.4 3.6 0.4-2.3 0.4 0.1 0.4-0.7 0.4-0.2 0.4-1.1 0.4 2.2 0.4 0 0.4-2.2 0.4 0.9 0.4 0.2 0.4 0.7 0.4 0.3 0.4 0.8 0.4 0.3 0.4-0.4 0.4 0.3 0.4-2.6 0.4 0.6 0.4 1.7 0.4-0.9 0.4-0.3 0.4-2 0.4 0.1 0.4 2.6 0.4-0.4 0.4-0.7 0.4-0.1 0.4-1.3 0.4 2.1 0.4 0.6 0.4 0.7 0.4-1.7 0.4-0.2 0.4-0.9 0.4 2.3 0.4 0.5 0.4-2.3 0.4 0.9 0.4-0.2 0.4-0.7 0.4-1.9 0.4 2.1 0.4 1 0.4-2.1 0.4 0.7 0.4-2.5 0.4 4.6 0.4-0.8 0.4-0.5 0.4-0.3 0.4-0.3 0.4 0.5 0.4-0.2 0.4 0 0.4 0.3 0.4 0.1 0.4 1.5 0.4-3.1 0.4 1.8 0.4-0.9 0.4-0.5 0.4-1.3 0.4 3 0.4-1.6 0.4 0.2 0.4 1.3 0.4-1.6 0.4 1.1 0.4-0.1 0.4 0.9 0.4 0.2 0.4-1.9 0.4 1.8 0.4-1 0.4 0.2 0.4-0.3 0.4 1 0.4-2 0.4 1.5 0.4 0.9 0.4-1.5 0.4 2.3 0.4-2.8 0.4 1 0.4-0.7 0.4-0.1 0.4-0.5 0.4 0.5 0.4 0.5 0.4-0.7 0.4 1.7 0.4 0.6 0.4-3 0.4 2.3 0.4-0.6 0.4 0 0.4 2.3 0.4-1.3 0.4-0.9 0.4-0.1 0.4-2.4 0.4 3 0.4-1.6 0.4 1 0.4-0.1 0.4 0.9 0.4 1 0.4-1 0.4 0.3 0.4-1.5 0.4 0.7 0.4 0.3 0.4-2.2 0.4 3.5 0.4-2.8 0.4-0.6 0.4 2.9 0.4 0.5 0.4-2.8 0.4 0.1 0.4 3.7 0.4-3 0.4-2.1 0.4 1.4 0.4 2.6 0.4-1.3 0.4 0.1 0.4 0.4 0.4-0.5 0.4-1 0.4-1.3 0.4 2 0.4-1.5 0.4 1 0.4 1.9 0.4-1.3 0.4-0.4 0.4 0 0.4 0.6 0.4 0.2 0.4-2.2 0.4 1.5 0.4 1.5 0.4-0.9 0.4-1.6 0.4 0.1 0.4-1.4 0.4 1.3 0.4 2.4 0.4-1.7 0.4-0.8 0.4 0.3 0.4 0.5 0.4 0 0.4-0.3 0.4-0.4 0.4 1.4 0.4 0.9 0.4-2.1 0.4 0 0.4 1.8 0.4-2.7 0.4 0.8 0.4 0.2 0.4 0.6 0.4-0.5 0.4-0.6 0.4 1.2 0.4-1.5 0.4-0.6 0.4-0.3 0.4 2.8 0.4-2.5 0.4 2.2 0.4 0.2 0.4 0.1 0.4-1 0.4-0.4 0.4 0.6 0.4-0.7 0.4-0.7 0.4 2.5 0.4-2.2 0.4 2.7 0.4-1.3 0.4-1 0.4 0.9 0.4 0.8 0.4-2.7 0.4 0.5 0.4-0.2 0.4 1.2 0.4 0.2 0.4-0.4 0.4-0.8 0.4 0.2 0.4 1.7 0.4-0.1 0.4-1 0.4-1.5 0.4 2 0.4-0.4 0.4-0.1 0.4 1.5 0.4-1 0.4-1.8 0.4 0 0.4 2.3 0.4-1.2 0.4 0.7 0.4-1.1 0.4-0.9 0.4 1.3 0.4 1.3 0.4-1.3 0.4-1.6 0.4 0.8 0.4-0.2 0.4 0.6 0.4 0.8 0.4 0.9 0.4-1.8 0.4-0.8 0.4 0.5 0.4-0.2 0.4-0.5 0.4 0.4 0.4-0.1 0.4-1.3 0.4 1.7 0.4-1 0.4-0.7 0.4 1.4 0.4-1.1 0.4 2.3 0.4-1.4 0.4-0.5 0.4-0.9 0.4 0.3 0.4 1.2 0.4-1.6 0.4 1.4 0.4-3 0.4 2.3 0.4 0.5 0.4-0.6 0.4-0.4 0.4 1 0.4-2 0.4-0.2 0.4 1 0.4 1.1 0.4-0.9 0.4-0.7 0.4 0.5 0.4 0 0.4-1.8 0.4-1.7 0.4 1.8 0.4-0.5 0.4 0.9 0.4-0.7 0.4 0.2 0.4 1.3 0.4-0.4 0.4-0.1 0.4 1.7 0.4-2.3 0.4 0.1 0.4 1.7 0.4-2.6 0.4-0.5 0.4 3 0.4-1.1 0.4 0.3 0.4 0 0.4 0.2 0.4-1.4 0.4 0.4 0.4-1.2 0.4 1.3 0.4 0.1 0.4-0.7 0.4 1.1 0.4 2.4 0.4-4.3 0.4 2.1 0.4 0.1 0.4 0.2 0.4-1.9 0.4 2.1 0.4-0.5 0.4-0.8 0.4-0.1 0.4 0.7 0.4 0.8 0.4 0 0.4 1.6 0.4-2.7 0.4 1.1 0.4-0.9 0.4 1.3 0.4-0.5 0.4-0.7 0.4-0.6 0.4 0.7 0.4 1.1 0.4 1.4 0.4-0.7 0.4-1.9 0.4 0.8 0.4 0.6 0.4-0.1 0.4 0.3 0.4 0.8 0.4-0.5 0.4-0.8 0.4-1.2 0.4 1.7 0.4-1.3 0.4 1.6 0.4 0.6 0.4-1.6 0.4 1.3 0.4-0.1 0.4 2.4 0.4-1.4 0.4-2.3 0.4 2.4 0.4 0.1 0.4-0.6 0.4-0.1 0.4 1.1 0.4 0.1 0.4-0.2 0.4-1.4 0.4 0.8 0.4-1.2 0.4 0.1 0.4 0.9 0.4-0.4 0.4 0.7 0.4 2.9 0.4-2 0.4-1.3 0.4-1.3 0.4 1.4 0.4-0.6 0.4-0.7 0.4 2.9 0.4-1.2 0.4 1 0.4 2.7 0.4-2.8 0.4-0.1 0.4 0.2 0.4-0.6 0.4-0.5 0.4 0.6 0.4 1.4 0.4-1.4 0.4-1 0.4 0.1 0.4 0.2 0.4 1.1 0.4 0.5 0.4 0 0.4 0.8 0.4-1.4 0.4 1.1 0.4-0.5 0.4 0.4 0.4-2.5 0.4 3.1 0.4-2.8 0.4 0.4 0.4 2 0.4-1.2 0.4 2.2 0.4-1.6 0.4-1.2 0.4 1.2 0.4-0.5 0.4 1.9 0.4 0.1 0.4-0.9 0.4-1.1 0.4 0.5 0.4 0.9 0.4-1.8 0.4 0 0.4 1.6 0.4-0.1 0.4-0.9 0.4-0.1 0.4-1.7 0.4 3.2 0.4-1.3 0.4-1.3 0.4 0.3 0.4 0.2 0.4 2.6 0.4-1 0.4-2 0.4 3.2 0.4-0.6 0.4-2.4 0.4-1.6 0.4 3.7 0.4-1.6 0.4 0.5 0.4-0.4 0.4 1.8 0.4 0.2 0.4-0.7 0.4-1 0.4 0.5 0.4 0.3 0.4-2.2 0.4 2.8 0.4-1.5 0.4 0.6 0.4-0.2 0.4 0.8 0.4 0.2 0.4 1.1 0.4-2.5 0.4-0.6 0.4 1 0.4-0.7 0.4 1.5 0.4-1.7 0.4 1 0.4 0.8 0.4 0 0.4-0.8 0.4 1.2 0.4-0.1 0.4-3 0.4 2.1 0.4-0.2 0.4-0.5 0.4-0.3 0.4 0.7 0.4 0.3 0.4-0.1 0.4 1.1 0.4-0.4 0.4-1.6 0.4-0.1 0.4 1.6 0.4-1.6 0.4 0.9 0.4 0.3 0.4 0.6 0.4-0.5 0.4 0.9 0.4-1.9 0.4 1.1 0.4-1.3 0.4 0.8 0.4 0 0.4-1.1 0.4-1.7 0.4 3.6 0.4-0.6 0.4-0.2 0.4-0.9 0.4 0.4 0.4 0.8 0.4-0.4 0.4 1.1 0.4-1.1 0.4-0.9 0.4 1.4 0.4-1.2 0.4 0.8 0.4-2 0.4 1.5 0.4 0.9 0.4-1.2 0.4 0.6 0.4 0.6 0.4-0.5 0.4 1.7 0.4-2.1 0.4 0.1 0.4 0 0.4-1.8 0.4 0.5 0.4 2 0.4-0.8 0.4 1.7 0.4-1.5 0.4-0.1 0.4 1.2 0.4-0.7 0.4 1.3 0.4-2.7 0.4 1.5 0.4 0.3 0.4-0.2 0.4 0.6 0.4-0.1 0.4-1 0.4-0.6 0.4 1.6 0.4-1 0.4 1 0.4 0.4 0.4-1.2 0.4-1.1 0.4 0.7 0.4 1 0.4-1 0.4 1.4 0.4-1.1 0.4 0.1 0.4-0.8 0.4 0.5 0.4 1.2 0.4-1.4 0.4 0 0.4-0.5 0.4 1.6 0.4-2.3 0.4 0.9 0.4 1.5 0.4 0.5 0.4-1.6 0.4 1.2 0.4-3 0.4 2.7 0.4-0.4 0.4-1.5 0.4-0.6 0.4 1.3 0.4 0.7 0.4 0.1 0.4-0.2 0.4 0.6 0.4 0 0.4-2.1 0.4 1 0.4-0.1 0.4 1.5 0.4-1.5 0.4 1.5 0.4-0.9 0.4 2.2 0.4-2.4 0.4 0.1 0.4-0.2 0.4 0.3 0.4 2.3 0.4-3 0.4-0.3 0.4 0.7 0.4 0.8 0.4-1.6 0.4 1.7 0.4 0 0.4-0.9 0.4-0.1 0.4-0.5 0.4 0.5 0.4-0.6 0.4 2.1 0.4 0.4 0.4-2 0.4 0.3 0.4-1.9 0.4 1.4 0.4 0.9 0.4-0.1 0.4-0.2 0.4 0.8 0.4-0.8 0.4-0.5 0.4 2 0.4-3.5 0.4 0.8 0.4 0.4 0.4 0 0.4-0.1 0.4 0.6 0.4-0.5 0.4 0.6 0.4 0.7 0.4-0.6 0.4 0.1 0.4-1 0.4-0.2 0.4 0.8 0.4 1.2 0.4-0.5 0.4 0.7 0.4-0.1 0.4 0.1 0.4-1.9 0.4 2 0.4-0.5 0.4 1.4 0.4-1.5 0.4-0.3 0.4-0.4 0.4 0.2 0.4-1.8 0.4 1.4 0.4 0.2 0.4 1.1 0.4-1.7 0.4 0.8 0.4 1.7 0.4-2.3 0.4 1.3 0.4-1.4 0.4 0.5 0.4 0.5 0.4 0.5 0.4-1.4 0.4-0.5 0.4 2.5 0.4-1.3 0.4 0.6 0.4 0.1 0.4-0.2 0.4-1 0.4 0.1 0.4-1.4 0.4 1.8 0.4-0.7 0.4 0.5 0.4 1.8 0.4-1.1 0.4-0.7 0.4-1.4 0.4 2.1 0.4 0.8 0.4-2.3 0.4 1.2 0.4-0.9 0.4 0.3 0.4-0.2 0.4-1.2 0.4 1.1 0.4-1.1 0.4 2.9 0.4-0.3 0.4-1 0.4 0.2 0.4-0.2 0.4 0.2 0.4 0 0.4-0.5 0.4 0.1 0.4-1.2 0.4 0.4 0.4 0.4 0.4 0.8 0.4-0.6 0.4 2.2 0.4-2 0.4-0.2 0.4 0.8 0.4 0.6 0.4 0.8 0.4-0.9 0.4-1.5 0.4 0.4 0.4 1.2 0.4-0.8 0.4 0.6 0.4-0.9 0.4 1.6 0.4-0.1 0.4-0.3 0.4-1 0.4-1.7 0.4 0.2 0.4 1.7 0.4 0.3 0.4-3.5 0.4 2.4 0.4 1.6 0.4-0.2 0.4-1.4 0.4 1.1 0.4-0.6 0.4-0.2 0.4 1.3 0.4 0 0.4-1.6 0.4-0.5 0.4-0.3 0.4-0.1 0.4 2.7 0.4 0.5 0.4-1.6 0.4 0.8 0.4-1.7 0.4 0.6 0.4 1 0.4-0.6 0.4-0.4 0.4-1.6 0.4 0.3 0.4 1 0.4-0.2 0.4 0.5 0.4-0.6 0.4 0.5 0.4 0.2 0.4 0.5 0.4-0.5 0.4-0.6 0.4 0.3 0.4 1.2 0.4-1.1 0.4-0.8 0.4 0 0.4 1.2 0.4 0.3 0.4 0.7 0.4-1.6 0.4 1.7 0.4-1.7 0.4 0.1 0.4-0.3 0.4 1.1 0.4 0.5 0.4-1.1 0.4-0.4 0.4-1 0.4 1.6 0.4-0.5 0.4 0.2 0.4-0.5 0.4-0.2 0.4 0.4 0.4 0.9 0.4 0.5 0.4-1 0.4 0.4 0.4-0.5 0.4 0 0.4-1.2 0.4 2.2 0.4-0.3 0.4 0.9 0.4-2.1 0.4 0.8 0.4-1.1 0.4 1.2 0.4-0.4 0.4 0.8 0.4-0.8 0.4 0.8 0.4-1.1 0.4 1 0.4-0.9 0.4-0.1 0.4 0.5 0.4 0.3 0.4-1.7 0.4-0.1 0.4 1.6 0.4-0.2 0.4-1.9 0.4 0.3 0.4 0.9 0.4 1 0.4-0.1 0.4 0.8 0.4 0.2 0.4 1.1 0.4-3.7 0.4 1.4 0.4 1.1 0.4-2.3 0.4-0.1 0.4 1.5 0.4 0.9 0.4 0.2 0.4-3 0.4 0.6 0.4 1 0.4-0.4 0.4 0.8 0.4-0.1 0.4 1.5 0.4-1.7 0.4 0.2 0.4-0.1 0.4 1 0.4-2.1 0.4 1.4 0.4-1.1 0.4-0.6 0.4 2.5 0.4-0.7 0.4 0.9 0.4-1.1 0.4 0.4 0.4-0.5 0.4 0.4 0.4-1 0.4 2.1 0.4-2.5 0.4 2.5 0.4-1.9 0.4 1.1 0.4-0.7 0.4 0.3 0.4 1 0.4-1.3 0.4-1.1 0.4 1.2 0.4 0.4 0.4-3.1 0.4 3.4 0.4 0.1 0.4-2.8 0.4 1.6 0.4 1 0.4-2 0.4 0.7 0.4 0.1 0.4 0.9 0.4 0.5 0.4-1.1 0.4 0.1 0.4 0.9 0.4-0.4 0.4-0.7 0.4 1.4 0.4-2.6 0.4 1.5 0.4-0.6 0.4-0.1 0.4 0.7 0.4-0.1 0.4 2.4 0.4-1.8 0.4-0.3 0.4 1.3 0.4-0.7 0.4-2.8 0.4 2 0.4 0.6 0.4-1.4 0.4 0.9 0.4-0.7 0.4 0.8 0.4-2 0.4-0.3 0.4 1.4 0.4 0.7 0.4 1.1 0.4-1.6 0.4-0.4 0.4 1.6 0.4-0.8 0.4 1.7 0.4-1.9 0.4-1.8 0.4 1.1 0.4-0.1 0.4-0.5 0.4 0.6 0.4 0.1 0.4 0.4 0.4-0.2 0.4 0.9 0.4 0 0.4-0.2 0.4 0 0.4-2.1 0.4 0.3 0.4 0.7 0.4 1.2 0.4-1.7 0.4 1 0.4 0.6 0.4 1.8 0.4-1.7 0.4-0.8 0.4 1.6 0.4-0.9 0.4-0.5 0.4 1.4 0.4-2 0.4 1.1 0.4-0.1 0.4 0.8 0.4-2.1 0.4-0.1 0.4 0.9 0.4 0.1 0.4 0.3 0.4-0.4 0.4 0.8 0.4 0.3 0.4-0.5 0.4-1.3 0.4 2.2 0.4-2.7 0.4 1.4 0.4 1 0.4-1.5 0.4 1.9 0.4 0.7 0.4-0.4 0.4-1.1 0.4 0.5 0.4-1.5 0.4 1 0.4 0 0.4-0.4 0.4 0.1 0.4-0.4 0.4-1.7 0.4 2.4 0.4-0.1 0.4 1.7 0.4-1.3 0.4-0.7 0.4 0.8 0.4-0.2 0.4-0.7 0.4-0.3 0.4-1.1 0.4 1.6 0.4 1.5 0.4-3.5 0.4 0.9 0.4 1.7 0.4-0.6 0.4 0.3 0.4-2.3 0.4 1.3 0.4 1.1 0.4 0 0.4-0.3 0.4-1.1 0.4 1.4 0.4-1.7 0.4 0.2 0.4-0.2 0.4 2.6 0.4-1.9 0.4 0.5 0.4-2.2 0.4 3.2 0.4-0.6 0.4-2.1 0.4 0 0.4 3.3 0.4-2.6 0.4 2.8 0.4-2.3 0.4-2 0.4 3.5 0.4-0.6 0.4 0.2 0.4-1.2 0.4 0.3 0.4 1.2 0.4-1.8 0.4-1.1 0.4 2.8 0.4-1.5 0.4 1.9 0.4-1.8 0.4 0.1 0.4 0.2 0.4-2.1 0.4 3.5 0.4-1.8 0.4 0.4 0.4 1.7 0.4-1.4 0.4 0.8 0.4-0.5 0.4 0.4 0.4-0.5 0.4 0.9 0.4-1.4 0.4 0.7 0.4-1.2 0.4 1.9 0.4-3.4 0.4 2.4 0.4 0.2 0.4 0 0.4-0.4 0.4 1.4 0.4 0.7 0.4-2.7 0.4-1.3 0.4 0.8 0.4 0.3 0.4 0.7 0.4 0.1 0.4 1.1 0.4-1.5 0.4 0.4 0.4 0.1 0.4-1 0.4 0.6 0.4 3.1 0.4-2.9 0.4-0.8 0.4-1.3 0.4 3.3 0.4-1.4 0.4-0.3 0.4 3.1 0.4-1.1 0.4-3.1 0.4 1.4 0.4 1.3 0.4-0.2 0.4-1.9 0.4 2.9 0.4 0.1 0.4-3 0.4-0.7 0.4 0.4 0.4 2.1 0.4 0.4 0.4-0.9 0.4-0.8 0.4 0.5 0.4 0.7 0.4-1.8 0.4-0.5 0.4 1.6 0.4 1.3 0.4-1 0.4 0 0.4-0.9 0.4 1.6 0.4-2.6 0.4 1.6 0.4-0.5 0.4 0.4 0.4-0.7 0.4 1.6 0.4-0.8 0.4-0.5 0.4 1.1 0.4-0.6 0.4-0.4 0.4-0.1 0.4 1.3 0.4-1.7 0.4 0.7 0.4 0 0.4 0.6 0.4-0.5 0.4 2.3 0.4-3.9 0.4 2.3 0.4-0.6 0.4 1.2 0.4-2.8 0.4 2.9 0.4-2.6 0.4 2 0.4-0.1 0.4-0.5 0.4-0.8 0.4-0.1 0.4 0.9 0.4-0.8 0.4-1.2 0.4 0.1 0.4 2.6 0.4 0.1 0.4-0.4 0.4-0.4 0.4 0.3 0.4 0.1 0.4-0.2 0.4-1.1 0.4 0.1 0.4-0.4 0.4 1.3 0.4-1.2 0.4 0.9 0.4 1.4 0.4-1.7 0.4 1.4 0.4 0.6 0.4-3.4 0.4 0.4 0.4 1.9 0.4-1.2 0.4 1.2 0.4 0.2 0.4-1.2 0.4 1.3 0.4 1 0.4-0.8 0.4-1.9 0.4 0.8 0.4-0.4 0.4 2.1 0.4-1.8 0.4-0.5 0.4 0.7 0.4 0.5 0.4-0.9 0.4 0.5 0.4-0.1 0.4 0.7 0.4 0.3 0.4-0.7 0.4-0.8 0.4 0.9 0.4-1.3 0.4 2 0.4-0.8 0.4-0.1 0.4-2.6 0.4 4.8 0.4-1 0.4-0.1 0.4-1.2 0.4 0.6 0.4 2.1 0.4-3.5 0.4 1.4 0.4-0.1 0.4-0.5 0.4 0.2 0.4-1.3 0.4 1.6 0.4-1.9 0.4 3.1 0.4-1 0.4-1.7 0.4-1.2" fill="none" stroke="#525252" stroke-width="3.3" stroke-linejoin="round" stroke-linecap="round"/>
<path d="M337.00 1022V936.00Q337.00 934.20 338.80 934.20H340.80Q342.60 934.20 342.60 936.00V1022Z" fill="#cd9b10"/>
<path d="M355.85 1022V936.30Q355.85 934.50 357.65 934.50H358.95Q360.75 934.50 360.75 936.30V1022Z" fill="#c3c3c3"/>
<path d="M396.20 1022V983.20Q396.20 981.40 398.00 981.40H399.80Q401.60 981.40 401.60 983.20V1022Z" fill="#cd9b10"/>
<path d="M418.35 1022V993.10Q418.35 991.30 420.15 991.30H421.45Q423.25 991.30 423.25 993.10V1022Z" fill="#c3c3c3"/>
<path d="M588.60 1022V1003.10Q588.60 1001.30 590.40 1001.30H592.40Q594.20 1001.30 594.20 1003.10V1022Z" fill="#cd9b10"/>
<path d="M622.70 1022V1010.00Q622.70 1008.20 624.50 1008.20H625.70Q627.50 1008.20 627.50 1010.00V1022Z" fill="#c3c3c3"/>
<path d="M712.50 1022V998.90Q712.50 997.10 714.30 997.10H716.30Q718.10 997.10 718.10 998.90V1022Z" fill="#cd9b10"/>
<rect x="70" y="6" width="669" height="467.7" fill="none" stroke="#000" stroke-width="2"/>
<rect x="72" y="554.7" width="669" height="467.3" fill="none" stroke="#000" stroke-width="2"/>
<path d="M69.9 473.7V482.7M117.7 473.7V478.5M165.5 473.7V482.7M213.3 473.7V478.5M261.0 473.7V482.7M308.8 473.7V478.5M356.6 473.7V482.7M404.4 473.7V478.5M452.2 473.7V482.7M500.0 473.7V478.5M547.8 473.7V482.7M595.5 473.7V478.5M643.3 473.7V482.7M691.1 473.7V478.5M738.9 473.7V482.7" stroke="#000" stroke-width="2" fill="none"/>
<path d="M71.9 1022.0V1030.8M119.7 1022.0V1026.0M167.5 1022.0V1030.8M215.3 1022.0V1026.0M263.1 1022.0V1030.8M310.9 1022.0V1026.0M358.7 1022.0V1030.8M406.5 1022.0V1026.0M454.3 1022.0V1030.8M502.1 1022.0V1026.0M549.9 1022.0V1030.8M597.7 1022.0V1026.0M645.5 1022.0V1030.8M693.3 1022.0V1026.0M741.1 1022.0V1030.8" stroke="#000" stroke-width="2" fill="none"/>
<path d="M72.0 644.6l0.4 0.7 0.4-4.4 0.4 2.5 0.4 1.1 0.4 0.4 0.4-0.7 0.4 0.8 0.4-1.2 0.4 0.2 0.4-0.4 0.4-1.2 0.4 0.2 0.4 1.2 0.4-1 0.4 1.8 0.4 0 0.4 0.5 0.4-1.9 0.4 1.4 0.4-2.4 0.4 0.1 0.4 0.8 0.4 0.2 0.4-1.9 0.4-0.2 0.4 2 0.4-1.2 0.4 2 0.4-0.8 0.4-0.2 0.4-0.1 0.4 0.6 0.4-1.1 0.4 1.2 0.4-1.6 0.4 0.2 0.4-0.5 0.4 1.3 0.4-0.6 0.4-1 0.4 2.9 0.4-2.4 0.4 0.2 0.4 0.5 0.4 1.3 0.4-1.9 0.4 0.9 0.4-0.7 0.4-1.6 0.4 2.3 0.4 0.2 0.4-1.3 0.4 0.2 0.4-1.5 0.4 0 0.4 1.1 0.4 1 0.4-1.1 0.4 0.7 0.4 0.7 0.4-0.9 0.4 0.4 0.4 0.9 0.4-2.7 0.4 2 0.4-2.7 0.4 2.3 0.4-0.2 0.4-0.8 0.4-0.6 0.4 1 0.4-0.3 0.4 0.5 0.4-1.1 0.4 1.5 0.4-1.6 0.4 0.7 0.4-0.1 0.4 1.7 0.4-2.8 0.4 1.1 0.4 1.6 0.4-1.9 0.4-0.6 0.4 1.5 0.4-0.6 0.4 1.2 0.4-1.8 0.4 1.1 0.4 0.5 0.4 0.4 0.4-2.2 0.4 2.5 0.4-2.3 0.4-0.6 0.4 0.5 0.4 1.2 0.4-0.5 0.4 0.8 0.4 0 0.4-0.1 0.4-0.6 0.4 2.1 0.4-4.1 0.4 0.5 0.4 1.3 0.4-0.8 0.4-1.2 0.4 1.7 0.4 0.1 0.4-1.7 0.4 3.4 0.4 0.4 0.4 0 0.4-1.7 0.4 0.6 0.4-1.2 0.4 1.3 0.4-0.8 0.4 1.1 0.4-0.8 0.4 1.5 0.4-0.2 0.4 0.4 0.4-2.8 0.4-0.2 0.4 2.2 0.4-0.9 0.4 1 0.4-0.1 0.4-0.1 0.4 0.7 0.4-0.3 0.4-0.1 0.4-1.4 0.4 2.7 0.4-1.6 0.4 1 0.4-0.8 0.4 1 0.4-1.2 0.4 0.1 0.4-0.1 0.4-0.8 0.4 0.1 0.4 0.4 0.4 0.1 0.4-0.9 0.4 3.3 0.4-3.3 0.4 0.6 0.4 2.8 0.4-3.1 0.4 1.4 0.4-0.1 0.4-0.9 0.4-1.3 0.4-0.1 0.4 1.5 0.4 0.4 0.4-2.6 0.4 2.3 0.4-0.8 0.4 1.5 0.4-0.8 0.4-1 0.4 0.4 0.4 0.4 0.4 1.3 0.4 1.7 0.4-2.7 0.4-0.3 0.4 0.5 0.4-0.7 0.4 0.7 0.4-0.3 0.4-0.4 0.4-0.8 0.4 0.9 0.4 0.7 0.4-0.9 0.4 1.5 0.4-0.7 0.4-1.1 0.4 1.9 0.4-3 0.4 2.3 0.4 0.7 0.4-2.2 0.4 0.1 0.4 1 0.4 0.5 0.4-1.1 0.4-0.2 0.4 0.6 0.4-0.7 0.4-1.6 0.4 1 0.4 0.1 0.4-1.6 0.4 1.9 0.4-1.3 0.4 1.5 0.4-2.4 0.4 0.5 0.4-0.6 0.4 2.7 0.4-0.1 0.4 0.1 0.4-0.1 0.4-0.7 0.4-0.1 0.4-2.8 0.4 1.9 0.4-1.1 0.4 0 0.4-1.1 0.4 2.4 0.4-1.4 0.4-1.9 0.4 1.9 0.4-0.8 0.4-1.2 0.4 0.5 0.4-0.6 0.4-1.8 0.4 0.6 0.4 1.9 0.4-0.4 0.4-0.2 0.4-1.7 0.4 0.4 0.4 0.4 0.4 0.5 0.4-1.8 0.4-0.5 0.4 2.1 0.4-1.4 0.4-0.7 0.4-0.6 0.4-0.2 0.4 2.1 0.4-0.9 0.4-1.8 0.4-1.2 0.4 2.8 0.4-0.4 0.4-0.7 0.4-0.8 0.4-3.2 0.4 0.3 0.4 1.6 0.4-1.3 0.4 0.2 0.4-1.2 0.4-0.5 0.4 0.9 0.4-1.4 0.4 0 0.4-0.2 0.4-0.4 0.4 0.5 0.4-0.2 0.4-3.5 0.4 0.7 0.4-0.9 0.4 1.1 0.4-2.6 0.4 1.6 0.4-0.6 0.4-0.6 0.4-2.3 0.4 0.3 0.4-1.5 0.4 1.2 0.4 0.1 0.4-3.3 0.4 0.2 0.4 0.2 0.4-0.9 0.4 1.8 0.4-2.5 0.4-0.1 0.4-2.1 0.4 2.5 0.4-2.2 0.4 0.2 0.4-1.4 0.4-3.2 0.4 0 0.4-0.2 0.4 1.5 0.4-1.8 0.4 0.6 0.4-0.8 0.4-0.7 0.4 0.2 0.4-1.5 0.4-2.8 0.4 0.5 0.4 2.3 0.4-4 0.4 2.3 0.4-0.3 0.4-3.4 0.4 0.5 0.4-2.8 0.4 2 0.4-2.6 0.4-1.4 0.4 0.5 0.4-0.8 0.4-0.9 0.4 0.2 0.4-1.2 0.4-1.4 0.4 1.2 0.4 1.1 0.4-3.8 0.4-1.8 0.4-1.2 0.4 1.3 0.4-1.9 0.4-0.5 0.4-3.4 0.4 0.5 0.4-0.8 0.4 2.2 0.4-2.3 0.4-3.6 0.4 3.4 0.4 0.3 0.4-0.4 0.4-6.3 0.4 3.4 0.4 0.3 0.4-0.9 0.4-1.7 0.4-2.7 0.4 1.3 0.4-0.3 0.4 0.8 0.4-0.3 0.4-1.6 0.4 1.3 0.4-2.9 0.4 0.4 0.4 0.8 0.4 0.8 0.4-1.4 0.4 2.1 0.4-1.2 0.4-1.9 0.4 1.4 0.4-1.3 0.4-0.1 0.4-0.5 0.4 4.2 0.4-0.4 0.4-3.2 0.4 4.1 0.4 0.1 0.4-1.4 0.4 1.6 0.4 2.8 0.4-2.3 0.4 0.7 0.4 1.4 0.4-2.3 0.4 0.3 0.4 0.5 0.4 2.5 0.4 2.1 0.4-1.6 0.4 0.2 0.4 3 0.4 0.1 0.4 2.2 0.4 0 0.4 0.8 0.4 1 0.4 1.1 0.4-0.4 0.4 0.7 0.4 4.5 0.4 2.9 0.4-1.6 0.4-2.4 0.4 3.1 0.4 2.6 0.4-2.4 0.4 2.5 0.4 1.2 0.4 0.5 0.4 1.3 0.4 3.3 0.4-0.7 0.4 1.4 0.4 3.4 0.4-2.1 0.4-0.3 0.4 4 0.4 2.5 0.4-1.2 0.4 1 0.4-1 0.4 1.3 0.4 3.6 0.4 0.6 0.4 0.1 0.4-0.6 0.4 0.2 0.4 1 0.4 0.6 0.4 2.8 0.4-0.9 0.4 1.1 0.4 1.9 0.4 0.7 0.4-0.1 0.4 1 0.4 0.1 0.4-1.5 0.4 2.5 0.4 0.2 0.4 0.6 0.4 1.2 0.4-0.4 0.4 2.4 0.4-1 0.4 0.8 0.4 0.7 0.4-0.1 0.4 1.2 0.4 0.6 0.4 0.2 0.4-1.1 0.4 0.2 0.4 0.6 0.4 0.9 0.4-1.6 0.4 1.3 0.4 0 0.4 0.8 0.4 0 0.4 2 0.4-0.1 0.4 0.8 0.4-1.8 0.4 0.4 0.4 0.8 0.4 2.2 0.4 0.2 0.4-2.2 0.4 1.5 0.4 1.7 0.4-3.1 0.4 1 0.4 1.7 0.4-0.4 0.4-1.7 0.4 2.7 0.4-0.4 0.4-0.1 0.4-1.9 0.4 1.2 0.4 1.6 0.4-0.7 0.4 0.4 0.4-0.9 0.4 1.9 0.4-1.7 0.4 1.3 0.4-0.5 0.4-1.3 0.4 2.6 0.4-2.6 0.4 0.6 0.4 1 0.4-1.5 0.4-0.3 0.4 1.8 0.4-0.2 0.4 0.3 0.4 0.8 0.4 1.9 0.4-2.6 0.4 2.9 0.4-2.2 0.4-0.3 0.4-2.5 0.4 1.1 0.4 1.8 0.4 0.3 0.4-1.4 0.4 1.2 0.4 0.6 0.4-1.5 0.4-1.1 0.4 0.6 0.4 0.7 0.4 0.6 0.4 0.5 0.4-1.7 0.4 0.9 0.4-0.3 0.4 0.3 0.4 1 0.4 0.2 0.4-1.8 0.4-0.1 0.4-0.1 0.4 0.2 0.4 0.1 0.4 0.2 0.4-0.3 0.4-0.6 0.4-0.1 0.4 1.2 0.4 2.4 0.4-1.9 0.4 0.1 0.4-0.3 0.4-0.5 0.4 2.2 0.4-2.3 0.4-0.7 0.4-0.2 0.4 1.4 0.4-1.1 0.4 0.1 0.4 0 0.4-0.4 0.4 1.5 0.4-1.9 0.4 4 0.4-5 0.4 1.4 0.4 1.5 0.4 0.3 0.4-0.7 0.4 0.6 0.4-0.1 0.4 0 0.4 0.5 0.4-0.4 0.4-0.3 0.4 0 0.4 1 0.4-1 0.4 0.7 0.4 1.1 0.4-1.2 0.4 0.8 0.4-1.6 0.4 0.7 0.4 0.2 0.4-0.2 0.4 0.2 0.4 1 0.4-1.7 0.4-0.4 0.4 1 0.4-1.8 0.4 1.5 0.4 1.2 0.4-1.2 0.4 0.5 0.4-0.1 0.4 0.8 0.4-0.7 0.4-0.3 0.4-3.5 0.4 2.8 0.4 1.2 0.4-0.9 0.4-0.6 0.4 1.7 0.4-1.8 0.4 0.5 0.4 1 0.4-1.2 0.4 0.7 0.4-0.2 0.4-1.2 0.4 0.7 0.4 0.2 0.4-0.3 0.4 1.7 0.4-1.1 0.4-0.6 0.4-0.8 0.4 1.1 0.4 1.6 0.4-1.6 0.4 1 0.4-0.3 0.4-1 0.4-0.4 0.4 1.5 0.4-2.2 0.4 2.2 0.4-1.7 0.4 2 0.4-1.3 0.4 0.3 0.4 1.2 0.4-2.1 0.4 1 0.4-0.4 0.4 0.8 0.4 0.1 0.4-0.4 0.4-0.2 0.4-0.6 0.4 0.9 0.4-0.9 0.4 0.3 0.4 0 0.4-1.7 0.4 0.2 0.4 1.2 0.4-0.3 0.4 1.2 0.4-3.8 0.4 2.6 0.4 0.8 0.4-1.1 0.4 0.6 0.4-0.9 0.4-0.2 0.4 0.9 0.4-2.3 0.4-1.1 0.4 2.7 0.4-0.5 0.4-0.1 0.4 0.1 0.4 0.2 0.4-1.2 0.4 0.8 0.4-0.2 0.4-1.6 0.4 0.8 0.4 0.3 0.4-1.2 0.4 1.7 0.4-1.5 0.4 0.9 0.4 0.5 0.4-3.2 0.4-0.1 0.4 1.7 0.4-1.2 0.4 0.3 0.4 0.7 0.4-2.7 0.4 0.8 0.4-1.7 0.4-0.9 0.4 0.6 0.4-0.7 0.4 0.4 0.4-1.2 0.4 0.3 0.4-0.8 0.4-2.7 0.4 1 0.4-0.3 0.4 0.9 0.4-2.5 0.4 1 0.4-1 0.4-1.9 0.4 1.4 0.4 0.5 0.4-1.4 0.4 1.1 0.4-0.8 0.4-0.4 0.4-1.1 0.4 0.1 0.4 0.5 0.4-0.6 0.4-1.5 0.4 1.1 0.4 0.5 0.4 0.8 0.4-0.2 0.4-1.9 0.4 1.9 0.4-2.3 0.4 1.3 0.4 0 0.4 2.9 0.4-0.6 0.4-0.1 0.4-0.7 0.4 2.4 0.4-1.2 0.4 1.2 0.4 1 0.4-1.1 0.4 1.3 0.4-2.3 0.4 3.1 0.4-2 0.4 2.6 0.4 0.2 0.4 0.5 0.4 2.2 0.4-4.8 0.4 3.3 0.4-0.7 0.4 1.5 0.4-0.2 0.4 0 0.4-0.4 0.4 0.1 0.4 1.3 0.4-1.7 0.4 3 0.4-1.5 0.4 1.3 0.4-1.5 0.4 2 0.4-0.5 0.4 1.2 0.4 0.7 0.4-1.6 0.4 0.8 0.4 0.3 0.4 1.4 0.4-2.6 0.4 2 0.4-0.5 0.4-1.1 0.4 1 0.4-0.3 0.4 1.8 0.4-2 0.4 2 0.4-1.5 0.4 1.1 0.4-2.5 0.4 0.9 0.4 0.9 0.4-1.2 0.4-0.7 0.4 1.5 0.4 0.7 0.4-0.9 0.4-0.3 0.4 0.5 0.4-1 0.4 1.3 0.4 0 0.4-2.6 0.4 2.3 0.4-0.5 0.4-0.6 0.4 0.3 0.4 0.6 0.4 0.4 0.4-0.4 0.4-2.1 0.4 1.5 0.4-3.2 0.4 2.5 0.4-0.3 0.4 0.2 0.4-2 0.4 2.3 0.4-0.3 0.4-1.2 0.4-1.9 0.4 1.7 0.4-1.3 0.4-0.9 0.4 0.8 0.4 3 0.4-4.1 0.4 1 0.4 0.5 0.4 0.6 0.4-2.2 0.4-0.1 0.4 1.8 0.4-0.7 0.4 0.8 0.4-2.6 0.4 1 0.4 1 0.4-1 0.4-1.4 0.4 1.2 0.4-2.2 0.4 1.1 0.4 1.5 0.4 0.1 0.4-0.6 0.4 0.2 0.4-2.3 0.4 0.8 0.4 1.8 0.4 1.3 0.4-1.9 0.4-1.5 0.4 0 0.4 2.3 0.4-0.1 0.4-2.4 0.4 1.5 0.4 1.4 0.4 0.1 0.4-2 0.4 0.5 0.4 0.7 0.4-1.5 0.4-0.5 0.4 1.1 0.4 2.1 0.4 0 0.4-0.5 0.4-1.6 0.4-0.7 0.4 1.1 0.4 1.2 0.4 1.2 0.4-1.9 0.4 1.1 0.4-1.8 0.4-0.2 0.4 2.3 0.4-1.1 0.4 0.3 0.4-1.1 0.4 3.3 0.4-2.6 0.4 2 0.4-1.4 0.4 1.2 0.4 1.9 0.4-1 0.4 0 0.4 0.9 0.4-0.2 0.4 1 0.4-2.8 0.4 3.1 0.4-1.2 0.4-1 0.4 1.9 0.4 0 0.4-0.4 0.4 1.1 0.4-2.1 0.4-0.2 0.4 1.3 0.4 1.9 0.4-0.4 0.4-0.4 0.4-0.5 0.4 0.8 0.4 1.3 0.4-1.6 0.4 0.1 0.4 1.2 0.4 0.3 0.4-0.3 0.4 1.4 0.4-1.1 0.4-1.1 0.4-1.1 0.4 3.5 0.4-1.3 0.4 0.6 0.4 0.2 0.4 1 0.4-0.3 0.4 0.1 0.4-0.7 0.4-0.4 0.4 0.6 0.4-1.1 0.4 1.3 0.4 0.8 0.4-0.3 0.4-0.5 0.4-1 0.4 0.1 0.4 0.2 0.4 0.4 0.4 0.9 0.4 0.1 0.4 0.1 0.4 0.5 0.4-1.9 0.4 0.8 0.4 0.8 0.4 0.3 0.4-1.4 0.4 0 0.4 1.9 0.4-0.4 0.4-0.2 0.4-0.7 0.4-0.6 0.4 1 0.4 0.3 0.4 0.3 0.4 0.4 0.4-0.7 0.4 1.1 0.4-1.5 0.4 0.7 0.4-0.3 0.4-1.8 0.4 0.5 0.4 0.8 0.4 0.7 0.4 0.2 0.4 1 0.4-1.3 0.4-0.3 0.4 0.7 0.4-1.5 0.4 1 0.4-0.8 0.4 1.1 0.4-0.8 0.4 0.3 0.4 2.3 0.4-0.8 0.4 1.4 0.4-2.3 0.4-0.4 0.4-0.6 0.4 0.7 0.4-1.7 0.4 1.8 0.4-0.6 0.4-0.8 0.4-0.5 0.4 0.9 0.4 0.5 0.4 0.4 0.4-1.6 0.4 1.5 0.4 0.4 0.4 1.9 0.4-1.9 0.4 0.6 0.4-1.7 0.4 0.7 0.4-0.7 0.4-0.1 0.4 1.3 0.4-0.8 0.4 1.7 0.4-1.5 0.4 0.5 0.4-1.7 0.4 0.2 0.4 1.7 0.4-1.4 0.4 1.9 0.4-2.1 0.4 0 0.4 2.8 0.4-3.7 0.4 1.2 0.4 1 0.4 0.1 0.4-1.7 0.4 3.2 0.4-2.6 0.4-1.4 0.4 2.8 0.4-1.4 0.4 0.5 0.4 0.7 0.4-1.7 0.4 0.2 0.4 0.6 0.4 0.9 0.4-2.1 0.4 2.7 0.4-1 0.4-1.5 0.4 1.1 0.4 0.6 0.4 0.6 0.4-0.3 0.4 0.2 0.4-1.2 0.4 0.8 0.4-3.4 0.4 3.7 0.4-1 0.4 1.6 0.4-2.2 0.4 0.1 0.4 0.5 0.4 0.8 0.4-0.5 0.4 0.7 0.4-0.9 0.4 0.9 0.4 1.8 0.4-1.6 0.4-0.6 0.4-2 0.4 2 0.4 0.5 0.4-1.3 0.4 1.3 0.4-3.3 0.4 1.5 0.4-0.2 0.4 1.4 0.4-1.3 0.4-0.1 0.4 2.4 0.4-2.9 0.4 1.9 0.4 0.6 0.4-1.4 0.4-0.6 0.4 0.7 0.4-0.4 0.4-0.2 0.4 1 0.4-0.2 0.4 3.1 0.4-1.8 0.4-1.1 0.4 0.4 0.4 1.1 0.4-0.5 0.4-1.1 0.4-0.9 0.4 2.6 0.4-1.8 0.4 0.3 0.4 1.1 0.4-1.2 0.4 1.1 0.4-1.6 0.4 0.5 0.4-0.4 0.4 2.3 0.4-3.5 0.4 1.2 0.4-0.7 0.4 0.2 0.4-0.6 0.4 0.5 0.4 2 0.4 0.3 0.4-2.2 0.4-0.5 0.4 0.7 0.4 2.1 0.4-1.7 0.4-2 0.4 2.9 0.4-0.9 0.4 0.7 0.4-0.2 0.4-1.7 0.4 2.3 0.4-0.3 0.4-1.4 0.4-1.6 0.4 1.1 0.4 0 0.4 1.9 0.4-1.3 0.4 0.1 0.4 0.5 0.4-0.5 0.4 0.9 0.4-0.1 0.4 0.6 0.4-2.2 0.4 1.6 0.4-0.6 0.4 2.4 0.4-0.7 0.4-1.8 0.4 1.3 0.4-2.7 0.4 0.7 0.4 0.8 0.4 0.6 0.4-1.4 0.4 1.1 0.4 1.2 0.4-2.8 0.4 0.2 0.4-0.5 0.4 3 0.4-2.2 0.4 0.7 0.4-0.5 0.4 0.8 0.4-0.3 0.4 0.6 0.4-0.1 0.4 1.5 0.4-2.6 0.4 1.1 0.4-0.2 0.4-0.8 0.4 1.7 0.4 1 0.4-2.9 0.4 3.5 0.4-2.6 0.4 0.1 0.4-2.6 0.4 2.7 0.4-0.2 0.4-0.1 0.4 0.9 0.4-0.8 0.4 0.5 0.4-1 0.4-0.5 0.4 1.3 0.4 0.4 0.4 0.1 0.4-0.5 0.4-0.9 0.4 0.8 0.4-0.3 0.4-1 0.4 1.6 0.4-0.5 0.4-1 0.4 0.8 0.4 0.9 0.4 0.9 0.4-3.3 0.4 1.5 0.4 0.9 0.4 0.6 0.4-0.8 0.4-1.4 0.4 0.5 0.4 0.5 0.4-0.8 0.4-0.2 0.4-0.3 0.4 3.9 0.4-2.5 0.4-0.3 0.4 0.9 0.4-0.6 0.4-0.2 0.4 0.4 0.4-1 0.4 0.3 0.4 1.4 0.4-0.3 0.4-1.7 0.4 2.6 0.4-1.9 0.4-1.2 0.4 2.3 0.4-0.1 0.4-0.3 0.4-1.3 0.4 2.2 0.4-0.7 0.4-0.2 0.4-0.1 0.4 0.1 0.4 1.9 0.4-2.7 0.4 0.8 0.4 0.8 0.4-0.3 0.4-1.6 0.4 0.7 0.4-0.3 0.4-1.1 0.4 1.3 0.4 1.1 0.4-0.6 0.4 0.8 0.4-0.7 0.4-1.1 0.4 1.2 0.4-2.3 0.4 3 0.4-1.6 0.4 2 0.4-3 0.4 0.4 0.4 0.5 0.4 0.2 0.4-1.4 0.4 0.4 0.4 1.7 0.4-1.3 0.4 1.7 0.4 0.8 0.4-3.2 0.4 1.1 0.4 2.2 0.4-0.7 0.4-2.4 0.4 1.7 0.4 1.3 0.4-3.8 0.4 2.5 0.4 0.7 0.4-1.6 0.4-0.1 0.4 1.4 0.4-2.4 0.4 2.2 0.4 0.7 0.4-1.2 0.4-1.7 0.4 3.2 0.4-1.6 0.4 0.6 0.4-1.5 0.4 0.8 0.4 1.2 0.4-2.6 0.4 0.2 0.4-0.8 0.4 2.5 0.4 0 0.4-1.3 0.4 1.2 0.4-0.3 0.4 1.9 0.4-3.1 0.4 1.4 0.4-0.7 0.4 2.3 0.4-1.4 0.4-1.6 0.4 1.6 0.4-0.6 0.4-0.8 0.4 1.4 0.4-0.3 0.4-1.3 0.4 0.7 0.4 1.6 0.4-0.2 0.4-1.1 0.4-0.2 0.4 0.6 0.4-0.4 0.4-1.1 0.4 1.9 0.4-1.5 0.4 2.3 0.4-0.9 0.4 0.2 0.4-1.1 0.4 0.5 0.4-0.8 0.4 0.2 0.4-0.6 0.4 2.5 0.4-2.6 0.4 2.8 0.4-0.9 0.4-1.7 0.4 2.2 0.4-0.8 0.4-1.3 0.4 1.1 0.4-0.6 0.4-0.4 0.4 0.7 0.4 0.3 0.4-0.6 0.4 0.3 0.4 0.8 0.4-0.9 0.4-0.3 0.4-0.9 0.4 1.3 0.4-0.4 0.4 0.2 0.4 1 0.4 0.1 0.4-0.8 0.4-0.7 0.4 0.8 0.4 0.1 0.4 0 0.4-1.7 0.4 1.7 0.4-1.3 0.4 1.3 0.4 0.1 0.4-0.2 0.4 1 0.4-1.2 0.4 0.3 0.4-1.2 0.4 0.8 0.4-0.1 0.4 0.3 0.4-0.3 0.4-2.2 0.4 3.2 0.4-0.1 0.4-2.8 0.4 2.4 0.4 0.7 0.4-0.3 0.4 0 0.4-0.9 0.4-0.3 0.4 2.4 0.4-1.5 0.4 1.2 0.4-1.7 0.4 1 0.4-0.1 0.4 0 0.4-2 0.4 3.6 0.4-2.1 0.4-0.6 0.4 0.6 0.4-2 0.4 3.1 0.4-1.8 0.4 0.7 0.4-0.1 0.4-1.9 0.4 1.4 0.4 1.6 0.4-2 0.4 1 0.4 0.8 0.4 0.5 0.4-2.4 0.4 1.9 0.4-0.4 0.4-0.1 0.4 0.4 0.4-0.2 0.4-1.7 0.4 1.4 0.4-1 0.4 0.9 0.4-0.8 0.4 1.9 0.4-0.5 0.4-0.4 0.4-1.2 0.4 1.1 0.4-1.5 0.4 0.2 0.4-0.8 0.4 2.5 0.4-1.3 0.4 1.4 0.4 0.2 0.4-0.1 0.4-1.4 0.4 1.8 0.4-0.3 0.4-2.4 0.4 1.6 0.4-1.1 0.4 0.6 0.4 1.4 0.4-0.9 0.4 1.3 0.4-1 0.4 0.1 0.4 0.9 0.4-0.4 0.4-0.4 0.4 0.5 0.4-0.1 0.4-2.6 0.4 0.4 0.4 1.1 0.4 1 0.4-1.9 0.4-0.9 0.4 1.6 0.4-0.5 0.4 2 0.4-3.8 0.4 3.2 0.4-0.2 0.4-3.3 0.4 1.6 0.4 0.8 0.4 0.6 0.4-0.3 0.4 0.6 0.4-0.5 0.4-1 0.4 2.5 0.4-1.4 0.4-1.1 0.4 1.3 0.4-0.6 0.4-0.3 0.4-0.2 0.4-0.9 0.4 0.7 0.4-0.4 0.4-0.7 0.4 2.4 0.4-0.2 0.4-0.5 0.4-0.9 0.4 0.3 0.4 2.4 0.4-2.4 0.4 1.7 0.4-0.5 0.4 0.1 0.4-0.9 0.4 0.2 0.4 0.2 0.4-1.1 0.4 2.5 0.4-2.2 0.4 1 0.4 1.6 0.4-0.3 0.4-2.1 0.4 1.1 0.4 0.5 0.4-2.9 0.4 4 0.4-1.5 0.4-0.9 0.4 0.2 0.4-2.1 0.4 2.9 0.4 0.9 0.4-1.8 0.4 1.8 0.4-0.9 0.4-2 0.4 1.9 0.4-2.6 0.4 0.1 0.4 2.6 0.4-0.1 0.4-0.7 0.4 0 0.4-1.4 0.4 2.5 0.4-1 0.4-0.2 0.4 3.8 0.4-3.3 0.4-0.3 0.4 2 0.4-1.7 0.4-0.7 0.4 2 0.4-1.7 0.4-0.7 0.4 0.5 0.4 0.4 0.4 0.9 0.4 0.3 0.4-2.4 0.4 2.4 0.4-1.9 0.4 0.2 0.4-2.2 0.4 4.3 0.4-1 0.4-0.9 0.4 0.1 0.4 1.1 0.4-0.9 0.4-3 0.4 3.2 0.4-0.3 0.4 0.2 0.4-0.1 0.4 0.8 0.4-1.6 0.4 3.1 0.4-2.2 0.4-0.9 0.4 0.8 0.4-1.8 0.4 1.6 0.4-0.6 0.4-0.3 0.4 1.9 0.4-0.6 0.4-1.2 0.4 0.3 0.4 1 0.4 1.9 0.4-2.4 0.4 0 0.4 0.6 0.4-1.7 0.4 1.1 0.4 0.8 0.4-0.3 0.4 0 0.4-1.6 0.4 1.2 0.4 1.5 0.4 1.2 0.4-1.7 0.4-1.5 0.4 0.1 0.4 0.2 0.4 2.4 0.4-3.5 0.4 1.1 0.4-1.5 0.4 1.3 0.4 0.1 0.4 1.2 0.4-0.1 0.4-0.6 0.4-0.5 0.4-0.1 0.4 2 0.4-1.7 0.4-1.1 0.4 0.4 0.4 0.8 0.4-0.9 0.4-0.7 0.4 2.5 0.4-1.7 0.4 0.6 0.4 0.2 0.4-0.4 0.4 0.1 0.4-2.4 0.4 2.6 0.4-0.3 0.4-0.2 0.4 0.4 0.4 2.3 0.4-0.6 0.4-0.9 0.4 0.8 0.4-2 0.4 0.3 0.4 0.6 0.4 0.4 0.4-0.1 0.4 1 0.4-2 0.4 1.5 0.4-2 0.4 1.2 0.4-1.5 0.4 2.2 0.4-1.8 0.4 1.8 0.4-3.2 0.4 3.7 0.4-1.8 0.4 0.4 0.4-0.1 0.4-2 0.4 1 0.4 0 0.4 0.5 0.4-1.5 0.4 0.9 0.4 0.8 0.4 1 0.4-0.4 0.4-2 0.4 2.1 0.4 0.7 0.4-0.8 0.4-1.1 0.4-0.6 0.4 0.5 0.4 2 0.4-2.7 0.4-1.5 0.4 3.4 0.4-1.5 0.4 0.5 0.4-0.3 0.4 1.5 0.4-1.6 0.4-0.3 0.4-0.1 0.4 2.6 0.4-0.3 0.4-1.9 0.4-0.2 0.4 0.4 0.4 0.7 0.4-1.5 0.4 2.4 0.4-1.3 0.4-3 0.4 1.6 0.4 0.7 0.4 2.7 0.4-0.8 0.4-1.4 0.4-1.4 0.4 1 0.4 0.1 0.4-0.6 0.4 0.6 0.4 0.5 0.4-1.2 0.4-0.7 0.4 1.3 0.4-1.8 0.4 1.1 0.4 1.6 0.4-1.1 0.4-1.4 0.4 1.1 0.4-0.3 0.4 0.4 0.4 0.8 0.4-1.5 0.4-0.8 0.4 2.8 0.4-2.5 0.4 1.5 0.4-0.3 0.4-0.7 0.4 0.8 0.4-0.2 0.4-0.2 0.4 0.6 0.4-1.6 0.4 1.7 0.4-1.9 0.4 1.9 0.4 0.3 0.4-2.2 0.4 2.8 0.4-2.7 0.4 0.5 0.4-0.8 0.4 0.5 0.4 0.3 0.4-0.7 0.4 1.6" fill="none" stroke="#118484" stroke-width="3.3" stroke-linejoin="round" stroke-linecap="round"/>
<path d="M72.0 731.8l0.4 0.6 0.4-1.1 0.4-1.2 0.4 0.8 0.4-1 0.4 2 0.4 2.5 0.4-3.5 0.4-0.2 0.4 2.1 0.4-0.2 0.4-0.5 0.4-1.9 0.4 1.7 0.4 1.5 0.4-3.9 0.4 1.8 0.4-2.7 0.4 1.2 0.4-1 0.4 3.1 0.4-1.9 0.4 3 0.4-0.2 0.4-0.6 0.4-4.4 0.4 3.9 0.4 0.9 0.4 0.4 0.4-3.1 0.4 2.1 0.4-0.9 0.4 0.4 0.4 3.6 0.4-3.6 0.4 1.6 0.4 1.7 0.4-2.7 0.4 0.9 0.4 0.5 0.4-0.1 0.4-2.4 0.4 2.4 0.4 2.5 0.4-5.5 0.4 4.5 0.4-1.4 0.4-1.4 0.4 5 0.4-2.4 0.4-3.7 0.4 2.4 0.4 0.9 0.4-1.4 0.4 1.6 0.4-1.4 0.4 1.3 0.4 1.5 0.4-4 0.4 1.6 0.4-1.3 0.4 1.1 0.4-2.5 0.4 1.1 0.4 0.7 0.4 2.1 0.4 0.4 0.4-4.7 0.4 1 0.4 2.7 0.4-5 0.4 2.9 0.4 0.6 0.4 2.6 0.4-1.1 0.4-2 0.4-0.1 0.4 0.2 0.4 3.4 0.4-3.8 0.4 0.3 0.4 1.2 0.4-0.9 0.4-0.2 0.4-1.7 0.4 2 0.4-0.8 0.4 3.1 0.4-1 0.4-1.3 0.4 1.3 0.4-1.9 0.4 2.6 0.4-2 0.4 1.1 0.4-3.6 0.4 3.2 0.4-3.9 0.4-0.7 0.4 3.3 0.4-1.1 0.4 2 0.4 4 0.4-5.9 0.4 0.4 0.4 1.6 0.4 0.5 0.4-1.2 0.4-0.1 0.4 1.7 0.4-0.3 0.4-3 0.4 1.8 0.4 0.3 0.4-2.1 0.4 2.5 0.4-2.1 0.4 3.4 0.4-1.4 0.4-0.2 0.4-1.3 0.4 0.9 0.4-3.6 0.4 1.7 0.4 2.8 0.4-4.7 0.4 5.6 0.4-4.9 0.4 4.7 0.4-3 0.4 3.1 0.4-1.3 0.4-3.1 0.4 5.3 0.4 0.3 0.4-2.8 0.4-0.4 0.4 0.2 0.4-1.6 0.4 4 0.4-3.1 0.4 0.9 0.4-1.4 0.4 0.3 0.4-1.2 0.4 4.8 0.4-2.7 0.4 2.1 0.4-1.8 0.4-1.4 0.4 0.7 0.4-0.4 0.4 1 0.4-0.7 0.4 0.1 0.4-2 0.4 1 0.4 4.7 0.4-4.5 0.4-0.7 0.4 2.6 0.4 2 0.4-5.5 0.4 2.4 0.4-0.8 0.4-2.2 0.4 4.7 0.4-1.5 0.4 0.2 0.4-1.6 0.4 2.2 0.4-1.9 0.4 0.8 0.4-1.9 0.4-0.2 0.4 4.8 0.4-3.6 0.4 1.5 0.4-0.6 0.4-0.8 0.4-0.2 0.4 2.1 0.4-1.8 0.4 0.3 0.4 0.3 0.4 2.1 0.4-1 0.4-0.6 0.4-1.8 0.4-1.6 0.4 4.4 0.4-0.1 0.4-2.1 0.4 1.2 0.4 0.4 0.4 0.1 0.4 0.1 0.4-2.7 0.4 3.7 0.4-5.4 0.4 4 0.4-0.8 0.4 0.7 0.4 1.8 0.4-0.8 0.4-5.1 0.4-1.2 0.4 4.8 0.4-3.7 0.4 1.9 0.4 1.5 0.4-4.9 0.4-1.1 0.4 4.4 0.4-0.6 0.4-0.7 0.4 0.3 0.4-1.9 0.4-1.5 0.4 2.5 0.4-1.8 0.4-1.5 0.4 4.1 0.4-1.3 0.4 0.8 0.4-2.9 0.4 0.5 0.4-0.9 0.4 0.1 0.4 2 0.4-2.2 0.4 2.2 0.4-0.3 0.4 3.3 0.4-7.1 0.4 4.4 0.4-2.2 0.4-0.1 0.4-3.1 0.4 1.7 0.4 2.3 0.4-2 0.4 0.1 0.4-1.1 0.4 2.7 0.4-2.7 0.4-4.9 0.4 2.8 0.4-3 0.4-3.1 0.4 5.4 0.4 3.6 0.4-3.1 0.4-3 0.4 0.1 0.4 4 0.4-2.5 0.4-0.7 0.4-0.6 0.4-0.3 0.4 1.1 0.4-1 0.4-1.3 0.4-3.4 0.4 2.9 0.4-3.3 0.4 3.4 0.4-5.9 0.4 1.9 0.4-0.3 0.4-3.6 0.4 6.4 0.4-1.2 0.4-5.1 0.4 2.3 0.4-1.5 0.4-7.7 0.4 6.2 0.4-1.3 0.4-0.3 0.4-3.4 0.4 1.3 0.4-0.4 0.4 2.8 0.4-2.8 0.4-1.5 0.4 3.3 0.4-6 0.4-0.2 0.4-4.3 0.4 8 0.4-2.3 0.4-0.8 0.4-1.4 0.4-2.2 0.4-0.4 0.4-2.1 0.4-0.6 0.4-0.2 0.4 3.2 0.4-3.4 0.4-2.5 0.4-2.3 0.4-1 0.4 5.4 0.4-3.9 0.4-2 0.4-2 0.4-3 0.4 2.2 0.4 1.9 0.4-4.4 0.4-0.3 0.4-0.7 0.4 0.2 0.4-5.9 0.4 3.3 0.4-2.6 0.4 4.5 0.4-5.8 0.4 3.4 0.4 2.2 0.4-6.4 0.4-1.6 0.4 1.8 0.4-1.3 0.4-3.8 0.4 3.9 0.4 4.3 0.4-7.9 0.4-0.4 0.4-3.4 0.4 3.8 0.4-5.7 0.4-0.2 0.4 7.1 0.4-7.7 0.4 5.9 0.4 0.9 0.4-4.7 0.4 0.4 0.4 4.1 0.4-7.6 0.4-1.8 0.4-3 0.4 4.2 0.4 4.5 0.4-2.1 0.4-6.9 0.4-0.1 0.4 0.9 0.4 2.4 0.4-2 0.4 1.4 0.4 0.2 0.4-1.9 0.4 1 0.4 1.1 0.4-0.7 0.4 2.4 0.4 5 0.4-3.9 0.4-1.4 0.4-5.4 0.4 7.5 0.4-7.4 0.4 2.4 0.4 8.2 0.4 0.3 0.4-2 0.4-4.2 0.4 5.3 0.4 0 0.4 5.3 0.4 6.2 0.4-5.4 0.4-2 0.4-0.1 0.4 4.6 0.4 0.8 0.4-1.9 0.4 4.9 0.4-2.8 0.4 7.8 0.4 0.7 0.4 1.1 0.4-3.6 0.4 3.8 0.4-0.9 0.4 0.2 0.4 1.1 0.4-1.7 0.4 0.6 0.4 7.2 0.4-1.7 0.4 2 0.4 3.1 0.4-6.4 0.4 3.5 0.4 3.6 0.4 1.5 0.4-1 0.4 4.6 0.4-1.1 0.4-2.6 0.4 1.8 0.4 5.4 0.4 0.3 0.4-4.8 0.4 9 0.4-0.8 0.4 2.9 0.4-3.2 0.4 1.2 0.4-1 0.4 9.4 0.4-5.4 0.4 4.8 0.4-4.4 0.4 2.5 0.4-3.6 0.4 3.5 0.4 3.6 0.4-4.5 0.4 5.6 0.4-1.2 0.4-2.6 0.4 1.6 0.4 0.5 0.4 1.3 0.4-0.7 0.4-0.2 0.4 1.5 0.4-1.1 0.4-0.2 0.4 3.1 0.4 2.4 0.4-4.6 0.4 3.7 0.4-0.9 0.4-0.1 0.4 4.3 0.4-2.3 0.4 4.7 0.4-4 0.4 2.9 0.4-0.7 0.4-0.5 0.4 3.2 0.4-0.9 0.4 2 0.4-0.8 0.4-1.6 0.4 2.3 0.4 0.7 0.4 2 0.4-3.3 0.4 1.9 0.4-3 0.4 4.8 0.4-3.1 0.4-1.1 0.4 3.5 0.4 2.4 0.4-4.8 0.4 1 0.4 0.8 0.4-0.6 0.4 3.1 0.4-2.2 0.4 0.3 0.4 2.6 0.4-2.5 0.4 2.4 0.4-2.6 0.4-0.4 0.4-1.2 0.4 7.1 0.4-4.1 0.4 1.1 0.4-0.4 0.4 0.4 0.4-0.2 0.4 3.6 0.4-5.6 0.4-1 0.4 1.1 0.4-0.6 0.4 4 0.4 0.1 0.4-3.3 0.4-0.8 0.4 1.9 0.4 3.3 0.4-8 0.4 6.3 0.4-3.1 0.4 3.9 0.4-4.1 0.4 1.4 0.4-2.5 0.4 0.9 0.4 4.3 0.4-1.2 0.4-2.5 0.4-1 0.4-2.1 0.4 2.6 0.4 0.6 0.4-0.3 0.4-0.2 0.4-2.1 0.4 1.9 0.4-0.1 0.4 2.4 0.4 1 0.4-3.9 0.4-1.3 0.4 1.2 0.4-1.1 0.4-0.3 0.4 1.3 0.4-1.9 0.4 3.1 0.4-1.4 0.4 0.6 0.4-0.8 0.4-1.1 0.4-0.4 0.4 1.3 0.4-0.6 0.4 1.4 0.4-0.4 0.4-2.7 0.4 2.8 0.4-2.8 0.4 1.4 0.4 0.6 0.4-3.4 0.4 4.1 0.4 0.1 0.4-0.6 0.4-0.6 0.4 0.1 0.4-1.2 0.4 1.4 0.4-0.6 0.4 1.2 0.4-2.5 0.4 2.7 0.4-0.2 0.4-0.6 0.4-0.5 0.4 1.8 0.4-4.2 0.4 4 0.4-0.4 0.4 0 0.4 0.2 0.4-2 0.4 0.7 0.4 1.7 0.4-0.4 0.4-0.5 0.4-3.3 0.4 4 0.4 1.2 0.4-0.4 0.4-1.4 0.4-3.5 0.4 4.8 0.4-2.1 0.4-4.5 0.4 5.6 0.4-3.6 0.4 0.4 0.4 1.3 0.4 3.7 0.4-3.1 0.4 1.3 0.4 2.9 0.4-0.2 0.4-3.2 0.4-0.2 0.4-1.9 0.4 1.1 0.4 2.2 0.4 0.1 0.4-0.5 0.4 1.7 0.4-3.3 0.4 1.4 0.4 1.6 0.4-0.2 0.4 1 0.4-1.3 0.4-1.3 0.4 1.3 0.4-2.5 0.4-1.2 0.4 4.3 0.4-1.2 0.4 0.7 0.4-3.8 0.4 2.5 0.4-0.4 0.4-0.5 0.4-2.7 0.4 3.7 0.4 2.3 0.4-1 0.4-1.9 0.4 1.1 0.4 1.5 0.4-6.7 0.4 5 0.4 1.2 0.4 0.3 0.4 1.9 0.4-1.1 0.4-1.6 0.4 0 0.4 0.9 0.4-2.5 0.4 0.9 0.4 1.8 0.4 1.9 0.4-4 0.4 0.2 0.4 0.4 0.4 2.2 0.4-2.7 0.4 2.9 0.4-4.7 0.4 1.4 0.4 0 0.4 1.8 0.4 0.4 0.4-4.9 0.4 1.1 0.4 2.3 0.4-2 0.4-1.8 0.4 4.8 0.4-1.2 0.4-0.1 0.4-2.1 0.4 2.8 0.4-2.7 0.4 2.4 0.4-4.1 0.4-0.1 0.4 1.6 0.4-2.3 0.4 2 0.4-1.7 0.4-3.3 0.4 1.1 0.4-1.9 0.4 1.7 0.4-4.1 0.4-0.4 0.4 2.9 0.4 1.7 0.4-0.9 0.4-4.6 0.4-0.1 0.4 2.5 0.4-4 0.4-2.2 0.4 2 0.4 0.3 0.4-3.2 0.4-2.1 0.4 0.1 0.4 4.3 0.4-3.5 0.4 1.1 0.4 0.5 0.4 0.6 0.4-2.4 0.4 1.7 0.4-3.4 0.4 1 0.4-1.8 0.4 4.8 0.4-2.8 0.4-1.8 0.4 0.8 0.4 0.2 0.4 2 0.4-5.3 0.4 1.2 0.4 1.5 0.4 6.7 0.4-3.5 0.4-2.4 0.4 2 0.4 3.2 0.4-5.1 0.4-0.2 0.4 3.8 0.4-1.5 0.4 0.7 0.4-2.5 0.4 5.7 0.4-0.2 0.4-2.3 0.4 0.5 0.4-5.8 0.4 6.2 0.4-1.6 0.4 1.7 0.4 0.8 0.4-2 0.4-2.7 0.4 4.8 0.4-2.2 0.4 1.2 0.4-0.3 0.4 1 0.4-3.9 0.4 8.1 0.4-1.7 0.4 2.3 0.4 2.3 0.4-3.7 0.4-3.3 0.4 2.4 0.4-0.2 0.4 1.9 0.4 1.6 0.4-3.8 0.4 5.2 0.4-3.5 0.4 4 0.4-0.5 0.4-0.2 0.4 0.7 0.4-0.9 0.4 0 0.4-2.2 0.4 3.3 0.4 3.8 0.4 0.2 0.4-1.4 0.4-1.3 0.4-2.9 0.4 4.2 0.4-3.1 0.4-0.2 0.4-0.5 0.4 0.6 0.4-1.2 0.4 0.6 0.4-2.2 0.4 1.4 0.4 5.3 0.4-5 0.4-0.5 0.4 1.5 0.4 0.2 0.4-3.8 0.4 1.7 0.4 2.2 0.4-1.4 0.4-0.4 0.4 2.8 0.4-4.7 0.4 1.4 0.4-1.3 0.4 4 0.4-7.3 0.4 2.6 0.4 0.1 0.4 2.4 0.4-0.3 0.4 1.5 0.4-6.3 0.4 4.7 0.4-2.3 0.4-0.9 0.4 2.4 0.4-3.2 0.4-2.6 0.4 3.5 0.4-2.5 0.4 1.7 0.4 2.1 0.4-0.3 0.4 2.7 0.4-3.9 0.4-2.9 0.4 1.5 0.4-0.4 0.4-0.7 0.4 3.5 0.4-2.3 0.4-2.9 0.4 5.7 0.4-1.7 0.4 1 0.4-0.6 0.4 1.2 0.4-1.3 0.4 2.5 0.4-1.7 0.4-0.1 0.4 0.1 0.4-4 0.4 2.7 0.4-0.2 0.4 1 0.4-3.3 0.4 6.4 0.4-3.3 0.4-2.8 0.4-1.1 0.4 3.1 0.4 0.4 0.4-1.3 0.4 1.7 0.4-1.6 0.4 2.6 0.4-2.7 0.4 1.5 0.4 2.2 0.4 3.6 0.4-7.5 0.4 1.4 0.4-0.5 0.4 3.7 0.4-3.8 0.4 1.7 0.4 1.3 0.4-1.6 0.4 0.3 0.4 1.4 0.4-3.1 0.4 1.6 0.4 2.4 0.4 1.4 0.4-0.5 0.4-3 0.4 2.8 0.4 2.8 0.4-0.3 0.4-1.2 0.4-1.4 0.4 3.2 0.4-2.2 0.4-1 0.4 0.9 0.4 4.7 0.4-2.3 0.4 2 0.4-3.1 0.4 3 0.4-2.9 0.4 1 0.4 5.4 0.4-3.3 0.4-2.3 0.4 0.9 0.4 1 0.4 1.9 0.4-3.3 0.4-2.3 0.4 3 0.4 0.7 0.4 0.3 0.4 2.5 0.4-1.9 0.4 1.1 0.4-3.6 0.4 3.9 0.4 2.5 0.4-2.5 0.4-0.9 0.4-0.2 0.4 3.3 0.4-5.2 0.4 1.7 0.4 1.2 0.4 0.6 0.4-2.2 0.4 1.5 0.4-1.1 0.4 0.9 0.4-0.4 0.4-1.9 0.4 2.3 0.4 1.7 0.4-3.4 0.4 1.5 0.4 1.8 0.4-3.3 0.4 2.5 0.4-2.3 0.4 4.2 0.4 2.3 0.4-0.5 0.4-4.2 0.4 1.9 0.4-1.1 0.4 0 0.4 2.8 0.4-5.3 0.4 4.5 0.4-2 0.4 2.8 0.4-2.3 0.4-1.6 0.4 1.9 0.4 0.9 0.4-1.3 0.4 0.9 0.4-1.9 0.4-3 0.4 5.8 0.4-0.3 0.4-1.1 0.4-0.1 0.4 1.9 0.4-2.8 0.4-0.5 0.4 1 0.4 2.6 0.4-4.8 0.4 4.9 0.4-3.5 0.4-0.9 0.4 4.5 0.4-2.6 0.4-2.3 0.4 1.8 0.4 2.5 0.4 0.5 0.4-3.1 0.4 1.6 0.4 0.5 0.4-2.5 0.4 1.9 0.4-0.8 0.4-0.9 0.4 0 0.4 1.1 0.4-0.1 0.4-1.1 0.4 0.2 0.4 3 0.4-1.7 0.4 1.2 0.4 0.6 0.4-1.1 0.4 3.1 0.4-5.8 0.4 3.1 0.4-2.2 0.4 4.1 0.4-0.3 0.4-6.9 0.4 1.9 0.4 3.1 0.4 0.2 0.4-0.1 0.4-1.6 0.4 1 0.4 0.4 0.4-1.4 0.4 2.1 0.4-6.2 0.4 5.5 0.4-3.2 0.4 3.8 0.4-2.3 0.4-1.3 0.4 2.4 0.4-2.4 0.4 0 0.4-1.3 0.4 3 0.4 1 0.4 1 0.4-2.3 0.4 2.3 0.4-2 0.4-0.2 0.4 1.3 0.4 0.9 0.4-2.6 0.4 0.1 0.4 0.2 0.4 0.5 0.4-1.9 0.4 3.7 0.4-2.8 0.4 1.7 0.4-2.5 0.4 2.3 0.4 0.1 0.4-1.6 0.4 4.7 0.4-3.2 0.4 2.7 0.4-1.6 0.4-3 0.4 0.5 0.4 1.6 0.4-0.8 0.4 0 0.4-0.6 0.4-2.9 0.4 3 0.4-3.8 0.4 5 0.4-2.1 0.4 0 0.4 1 0.4 0.9 0.4-3.2 0.4-0.6 0.4 1.3 0.4-1.9 0.4 2.1 0.4 4.8 0.4-5 0.4 3.3 0.4-3.9 0.4 3.2 0.4-1.2 0.4 0.5 0.4 1.2 0.4 2.3 0.4-3 0.4-0.1 0.4-2.1 0.4 3 0.4-1.6 0.4 2.1 0.4-1.7 0.4 3.4 0.4-7.1 0.4 3.3 0.4 2.2 0.4-2.3 0.4-0.9 0.4 1 0.4-2.1 0.4 2.9 0.4 4.4 0.4-2.5 0.4-4.2 0.4 0.4 0.4 0.9 0.4 2.7 0.4-3.5 0.4 0.3 0.4 3 0.4 0 0.4-2.4 0.4-1.4 0.4-0.8 0.4 1.6 0.4-2.9 0.4 5.7 0.4-2.6 0.4 2.1 0.4 2.6 0.4-1.3 0.4-4.4 0.4 3.9 0.4 0.5 0.4-3.6 0.4-0.4 0.4 1.6 0.4-2.8 0.4 5.8 0.4-7.3 0.4 2.5 0.4 1.6 0.4 0 0.4 0.8 0.4 0.2 0.4-0.9 0.4 2.6 0.4-6.3 0.4 4.1 0.4-1.3 0.4 1.6 0.4 0.1 0.4-2.1 0.4 0.5 0.4 2.7 0.4-0.8 0.4-1.9 0.4 5.1 0.4 0.5 0.4-7.1 0.4 3.3 0.4 4.2 0.4-3.2 0.4-1.1 0.4-0.8 0.4-0.7 0.4 0.7 0.4-0.7 0.4 2.5 0.4-2.2 0.4 0 0.4-1.5 0.4 2.2 0.4-1.6 0.4 1.4 0.4 2.3 0.4-1.3 0.4 0.3 0.4-0.3 0.4-0.6 0.4-0.3 0.4-0.4 0.4 2 0.4-3.5 0.4 4.6 0.4-2.4 0.4-1.5 0.4 0.5 0.4-0.4 0.4 1.6 0.4-1.7 0.4 3.6 0.4-3.7 0.4-2.8 0.4 2.9 0.4-2.4 0.4 3.7 0.4 2.1 0.4-0.8 0.4-3.7 0.4 1.1 0.4 4.8 0.4-2.8 0.4-0.6 0.4 2 0.4 2.7 0.4-2.2 0.4-2.2 0.4 0.4 0.4 0.5 0.4-2.4 0.4-0.8 0.4 2.1 0.4-1.9 0.4 1.7 0.4 0.3 0.4 4.2 0.4-6 0.4 1.4 0.4-0.1 0.4 1.1 0.4 1.2 0.4-2.9 0.4-0.7 0.4-1.5 0.4 1.3 0.4 2.8 0.4-0.9 0.4-2 0.4 1.2 0.4 0.8 0.4 0.9 0.4-2.1 0.4 0.6 0.4-3 0.4 1.3 0.4 5.3 0.4-7.3 0.4 3.6 0.4 1 0.4-1.1 0.4-0.8 0.4 1.4 0.4 0.1 0.4-0.2 0.4-3.4 0.4 3.3 0.4-1.3 0.4 0.6 0.4 1.4 0.4 0.8 0.4 0.5 0.4-2.6 0.4 2.7 0.4 0.4 0.4 0 0.4 0.4 0.4-2.9 0.4 0 0.4 1.9 0.4-4.2 0.4 3 0.4-1.4 0.4 0.3 0.4-2.6 0.4 1.6 0.4 1.7 0.4 1.7 0.4 0.2 0.4-2.1 0.4-0.2 0.4-1.2 0.4 2.4 0.4-1.3 0.4 1.7 0.4 2.1 0.4-3.4 0.4-2.7 0.4 1.2 0.4-1.2 0.4 0.5 0.4 4.8 0.4-2.1 0.4-3.3 0.4 4.1 0.4 1.2 0.4-3.1 0.4-0.6 0.4 0.7 0.4 1.1 0.4 0.7 0.4 1 0.4 0.1 0.4 0 0.4 0.3 0.4-1.3 0.4-4.2 0.4 2.7 0.4 0.8 0.4-1.3 0.4 2.4 0.4-2.4 0.4-1.1 0.4 4.5 0.4-1.4 0.4-0.9 0.4 1.4 0.4 0.2 0.4-1.4 0.4-5.3 0.4 3.4 0.4 0.4 0.4-1 0.4 2.3 0.4 1.9 0.4-3.2 0.4-1.3 0.4 6.1 0.4-4.8 0.4-1.4 0.4 2.8 0.4 0.3 0.4-2.1 0.4 2.8 0.4-2.4 0.4-0.9 0.4 2.1 0.4 1.2 0.4-2.7 0.4 1.8 0.4-0.8 0.4 5.6 0.4-6.7 0.4 3.9 0.4-2.7 0.4-0.1 0.4 1.6 0.4 0.3 0.4 0.7 0.4-1.8 0.4-1.7 0.4 0.1 0.4 2 0.4 0.1 0.4 1.6 0.4-1.9 0.4 1.2 0.4 0.9 0.4-2.6 0.4-3.1 0.4 0.6 0.4-0.5 0.4 5.7 0.4-4.6 0.4 3.9 0.4-1.2 0.4 2.2 0.4-1.4 0.4-2.1 0.4-0.2 0.4 0.6 0.4 0.1 0.4-1.3 0.4 0.9 0.4 3.2 0.4-6.3 0.4 3.7 0.4-2.2 0.4 2.1 0.4 1.2 0.4-1.7 0.4 1.6 0.4-4.5 0.4 5.1 0.4-3.2 0.4 2.3 0.4-0.9 0.4-5.2 0.4 3.5 0.4 1.8 0.4 2.6 0.4-2.5 0.4 0 0.4-3.2 0.4 5.4 0.4 0.7 0.4-3.3 0.4-0.5 0.4-2.7 0.4 4.8 0.4 3.4 0.4-3.7 0.4 1 0.4-1.4 0.4-2.9 0.4 4.4 0.4-4.8 0.4 1.9 0.4 0.9 0.4 1.2 0.4-0.9 0.4-0.1 0.4-2.2 0.4-1 0.4 2.6 0.4-1.5 0.4-1.1 0.4 0.1 0.4 1.5 0.4-2.6 0.4 0.9 0.4-0.5 0.4 3.4 0.4 0.5 0.4 3 0.4-6.7 0.4 1.6 0.4 3 0.4-2.1 0.4-0.2 0.4 3.8 0.4-3.9 0.4-1.5 0.4-0.3 0.4 3.1 0.4 0 0.4-3.2 0.4 0.7 0.4 2.9 0.4 0.1 0.4-2.4 0.4 2.5 0.4-0.1 0.4-4.5 0.4 2.8 0.4 1.4 0.4-1.9 0.4-3 0.4 3.5 0.4 2 0.4 1.6 0.4-7.2 0.4 9.1 0.4-7.1 0.4 4 0.4 0.5 0.4-0.5 0.4-1.6 0.4-2.5 0.4 3.4 0.4-2.5 0.4-3.5 0.4 10.2 0.4-4 0.4 2.1 0.4-5.2 0.4 4.5 0.4 0.3 0.4-0.1 0.4-3 0.4-2.3 0.4 2 0.4-3.9 0.4 1 0.4 3.4 0.4-2.1 0.4 1.6 0.4 0.1 0.4 3.9 0.4-1.2 0.4-2.6 0.4 2.4 0.4-3.8 0.4 0.9 0.4 2.3 0.4-4.1 0.4 1.9 0.4-2 0.4 2.7 0.4 2.9 0.4-4.5 0.4 1.8 0.4-2.1 0.4-0.5 0.4-0.2 0.4 5.1 0.4 1.8 0.4-3.6 0.4-2.3 0.4 2.7 0.4-2 0.4 2.2 0.4-1 0.4 0 0.4 0.6 0.4-2.2 0.4 0.3 0.4-2.5 0.4 2.4 0.4-1.9 0.4 2.5 0.4-1.6 0.4 2 0.4 0.7 0.4-3.6 0.4 1.2 0.4-0.3 0.4 3.2 0.4 1.9 0.4-1.7 0.4-2.2 0.4 3.4 0.4-5.7 0.4 5.8 0.4-4.1 0.4-4.1 0.4 10.3 0.4-2 0.4-5 0.4 2.3 0.4-0.7 0.4 0.6 0.4-3 0.4 1.5 0.4 2.2 0.4-0.5 0.4 1.9 0.4-2.2 0.4 4.3 0.4-5.8 0.4 1.9 0.4-4.2 0.4 1.3 0.4 4.9 0.4-4.3 0.4 2.8 0.4-1.2 0.4-1.8 0.4 1.3 0.4-0.3 0.4 0 0.4 2.4 0.4-0.2 0.4-2.4 0.4-0.6 0.4 2.3 0.4-0.8 0.4 2.2 0.4 3.1 0.4-3.5 0.4-1.7 0.4-0.2 0.4-1.3 0.4-0.1 0.4-0.2 0.4 1.1 0.4 0 0.4 2.2 0.4-2.2 0.4 0.4 0.4-1.9 0.4 5.4 0.4-2.2 0.4 2.5 0.4-1.9 0.4 1.3 0.4-3.3 0.4 1.8 0.4 3.8 0.4-7.5 0.4 4.6 0.4 1 0.4-2.5 0.4 0.7 0.4 1 0.4-3.8 0.4 2.1 0.4-2.5 0.4 0.4 0.4 0.1 0.4 0.9 0.4 0.6 0.4 0.6 0.4-3.7 0.4 6.6 0.4-1.6 0.4-0.8 0.4-2.1 0.4 0.5 0.4 1.2 0.4-0.2 0.4-4.1 0.4 4.7 0.4 4.2 0.4-9.3 0.4 5.6 0.4-1.3 0.4-0.9 0.4 2.9 0.4-5 0.4 2.6 0.4 2.6 0.4-3.3 0.4-0.4 0.4 1 0.4-1.1 0.4 3.9 0.4-4.8 0.4 3.5 0.4-4.2 0.4 3.7 0.4-1.5 0.4-4.8 0.4 5 0.4-2.1 0.4 1.2 0.4 3.9 0.4-5.2 0.4 0.1 0.4 4.9 0.4-2.6 0.4 2.8 0.4-2.4 0.4-2.4 0.4 1.6 0.4 2.5 0.4-0.6 0.4-1.8 0.4 0.1 0.4-0.3 0.4-1 0.4 4.9 0.4-3.7 0.4-2.3 0.4 1.3 0.4 2.3 0.4-0.1 0.4-1.6 0.4-1 0.4 1.3 0.4-3.3 0.4 0.7 0.4 4.1 0.4-2.5 0.4 1.7 0.4 1.6 0.4-1.1 0.4-1.3 0.4 4.1 0.4-2.8 0.4-2 0.4 2.1 0.4-0.7 0.4-2.4 0.4 1.8 0.4-0.5 0.4-3.6 0.4 3.5 0.4-0.2 0.4-0.3 0.4-2.4 0.4 2.5 0.4 0.6 0.4 0.3 0.4-2.4 0.4 3.4 0.4-3.6 0.4 1.9 0.4 2.9 0.4-3.9 0.4 0.4 0.4 3 0.4-2.8 0.4 0.1 0.4 1 0.4 1.6 0.4-6.4 0.4 2.7 0.4-0.4 0.4-0.1 0.4 0.4 0.4 0 0.4 2.2 0.4-2.4 0.4 2 0.4 0.5 0.4-2.2 0.4 1.6 0.4 2.9 0.4-2.5 0.4-1.9 0.4 1.1 0.4-1.7 0.4 2.3 0.4 1.1 0.4-3.3 0.4 1.1 0.4 2.6 0.4-3.2 0.4 1.3 0.4-2.3 0.4 0.3 0.4 0.6 0.4 5.1 0.4-4.9 0.4-0.3 0.4-0.1 0.4 0.7 0.4 1.6 0.4-1 0.4 3.6 0.4-3.6 0.4 2.3 0.4-2.2 0.4 0.6 0.4-4 0.4 2.5 0.4 0.1 0.4-0.4 0.4-3.7 0.4 5.8 0.4-2.5 0.4-0.1 0.4 0.3 0.4 0" fill="none" stroke="#3caf6e" stroke-width="3.3" stroke-linejoin="round" stroke-linecap="round"/>
<path d="M72.0 828.8l0.4 0.5 0.4 0 0.4 1.3 0.4-2.6 0.4 2.9 0.4-1.1 0.4 0.1 0.4-0.1 0.4-0.5 0.4 0.8 0.4 0.9 0.4-1 0.4-0.9 0.4 1.1 0.4 0.1 0.4 0.8 0.4-1.9 0.4 0.8 0.4 0.7 0.4-0.1 0.4 0.2 0.4-1.8 0.4 1.7 0.4 0.3 0.4-0.2 0.4 0.1 0.4 0 0.4-2.1 0.4 0.3 0.4 0.9 0.4-1.8 0.4 2.9 0.4-1.9 0.4 1.3 0.4-1.4 0.4 0 0.4 0.9 0.4-2.1 0.4 1.7 0.4 0 0.4 0.5 0.4-0.9 0.4 0.3 0.4 1.7 0.4 0 0.4-1.1 0.4-0.2 0.4 0.1 0.4 1 0.4-1.2 0.4 1.4 0.4-1.5 0.4 0 0.4-1.2 0.4 2.7 0.4-0.8 0.4-2.5 0.4 2.4 0.4 0.8 0.4 0.1 0.4-0.9 0.4-0.4 0.4 1 0.4-1.9 0.4 1.9 0.4 0 0.4-0.1 0.4-0.3 0.4 0.6 0.4-1.6 0.4 1.1 0.4 0.4 0.4-2.2 0.4 2.2 0.4-0.3 0.4-1.4 0.4 1.3 0.4-0.1 0.4-1.8 0.4-0.5 0.4 2.6 0.4-1.1 0.4 1.1 0.4-1.8 0.4 1.7 0.4 0.6 0.4-1.1 0.4 0.7 0.4-0.1 0.4 0.3 0.4-1.8 0.4 1.5 0.4 0.4 0.4-1.5 0.4 1.6 0.4-0.8 0.4 0.5 0.4-0.4 0.4 0 0.4-0.4 0.4-0.8 0.4 1.6 0.4-0.2 0.4 0.4 0.4 0.1 0.4-1.4 0.4-1.2 0.4 2.5 0.4-1.6 0.4 0.6 0.4 1.1 0.4-0.7 0.4-1 0.4 0.8 0.4-0.8 0.4 0.7 0.4-0.1 0.4-1.1 0.4 2.2 0.4-0.3 0.4-1.3 0.4 0.2 0.4 1.1 0.4 0 0.4-1 0.4 0.9 0.4 0.1 0.4-0.5 0.4-0.7 0.4 0.4 0.4 0.2 0.4-0.3 0.4 0.7 0.4 0.4 0.4-0.8 0.4 0.6 0.4-0.7 0.4-0.3 0.4 1.1 0.4-1.1 0.4 0 0.4 0.9 0.4-2.4 0.4 1.4 0.4 1.1 0.4-1.6 0.4 0.9 0.4-1.4 0.4 1.8 0.4 0.2 0.4 0 0.4-1.6 0.4 1.4 0.4 0.1 0.4-2.3 0.4 0.9 0.4 0.8 0.4-0.8 0.4 1.4 0.4-2.5 0.4 2.4 0.4-0.6 0.4-2.2 0.4 2.4 0.4 0.5 0.4-0.2 0.4-1.3 0.4 0.2 0.4-0.6 0.4 1.1 0.4 0.5 0.4 0.3 0.4-1 0.4-3 0.4 4 0.4-0.2 0.4-2.3 0.4 2 0.4 0.4 0.4 0.1 0.4-0.2 0.4-0.7 0.4 0.1 0.4-0.8 0.4 1.1 0.4-0.1 0.4 0.1 0.4-0.9 0.4-0.6 0.4-0.5 0.4-0.4 0.4-0.7 0.4 0.5 0.4 1.3 0.4-0.4 0.4 0.2 0.4-0.3 0.4 0.4 0.4-1.2 0.4-1 0.4 1.5 0.4-0.9 0.4 0.7 0.4-1.3 0.4-0.1 0.4 1.2 0.4-2.3 0.4 1.8 0.4-1.6 0.4 0.4 0.4 1 0.4-1.8 0.4 1.5 0.4 0 0.4-0.2 0.4-1.2 0.4 0.8 0.4-1.3 0.4-2 0.4-0.5 0.4 4.1 0.4-1.4 0.4 2 0.4-1.4 0.4-2.5 0.4 1.8 0.4 0.9 0.4-2.9 0.4 0.2 0.4 2.7 0.4-4.8 0.4 0.6 0.4 2.6 0.4-1.4 0.4-2 0.4-0.7 0.4 2.3 0.4 0.7 0.4-0.8 0.4-0.8 0.4 1.2 0.4-1.9 0.4-1.9 0.4 3.6 0.4-4.7 0.4 1.2 0.4-0.3 0.4 1.8 0.4-3.4 0.4 0.4 0.4-2.5 0.4 2.6 0.4-0.2 0.4 0 0.4-2.6 0.4 1.2 0.4-2 0.4 0.2 0.4 0.2 0.4 1.5 0.4-2.9 0.4 0.4 0.4-1.9 0.4-0.1 0.4-0.7 0.4 0.3 0.4 0.9 0.4-3.3 0.4 2.2 0.4-3 0.4 1.4 0.4-1.9 0.4-0.2 0.4-0.7 0.4 1.8 0.4-1.9 0.4 0.8 0.4-2.9 0.4-0.4 0.4 2.4 0.4-5.9 0.4 0.6 0.4 0.5 0.4 2.7 0.4-4.7 0.4 1.7 0.4 0.7 0.4-3.8 0.4-0.5 0.4 2.4 0.4-4.5 0.4-1.5 0.4 2.5 0.4-3 0.4 2.4 0.4-2.1 0.4-4.8 0.4 2.8 0.4-1.3 0.4-2 0.4 2.4 0.4-6.1 0.4 0.2 0.4 0.5 0.4 1.6 0.4-5.2 0.4 0.8 0.4-1 0.4-2.3 0.4 1.3 0.4-2.3 0.4 0.5 0.4 0.6 0.4-3.2 0.4-0.8 0.4-1.1 0.4-0.5 0.4-2.4 0.4-0.1 0.4 1.9 0.4-3 0.4 7.9 0.4-9.4 0.4 1.8 0.4-5 0.4 1.8 0.4-1.4 0.4 0.2 0.4 2.3 0.4-4.1 0.4-3.1 0.4 2 0.4-3.3 0.4 0.9 0.4 2.9 0.4-2.4 0.4-0.6 0.4-2.2 0.4-2.1 0.4-4.4 0.4 1.8 0.4-0.9 0.4 2.3 0.4 0.3 0.4-1.6 0.4-3.3 0.4 6.2 0.4-1 0.4-3.6 0.4 1.3 0.4 1.5 0.4-0.9 0.4-0.2 0.4 1.6 0.4-1.1 0.4 0.3 0.4-4.6 0.4-0.4 0.4 7.4 0.4-8.3 0.4 4.2 0.4-0.9 0.4-0.6 0.4-2.6 0.4 4 0.4-1.6 0.4-1.5 0.4-2.1 0.4 3.4 0.4-0.2 0.4-0.6 0.4 4.8 0.4 1.6 0.4 1.8 0.4-0.4 0.4 0.5 0.4 4.5 0.4 0.5 0.4 4.8 0.4-2.5 0.4-2 0.4 5.4 0.4 4.1 0.4-3.3 0.4 0.1 0.4 0.3 0.4 6.3 0.4-3.2 0.4 1.1 0.4 2.2 0.4-2.2 0.4 3.4 0.4-0.8 0.4 3.4 0.4 2.4 0.4 2 0.4-1.5 0.4 3.5 0.4-1.2 0.4-1.3 0.4 5.2 0.4-0.4 0.4 1.5 0.4-3.8 0.4 6 0.4 1 0.4 1 0.4 2.3 0.4-1.5 0.4 5.2 0.4-1.5 0.4 0.6 0.4-4.1 0.4 1.7 0.4 6.6 0.4-1 0.4 1.7 0.4-1.3 0.4 1.3 0.4 1.9 0.4-1.4 0.4 4 0.4-2.9 0.4 2.7 0.4 0 0.4 1.7 0.4 2 0.4-2.8 0.4 3.1 0.4 0.1 0.4 1.8 0.4-0.6 0.4 0 0.4 2 0.4 1.8 0.4-0.1 0.4-0.3 0.4 0.9 0.4-2.1 0.4 2 0.4 1 0.4 0.3 0.4 0.4 0.4 1.5 0.4 1.2 0.4 2.6 0.4-2.9 0.4 0.3 0.4 3.1 0.4-0.6 0.4-0.6 0.4-0.9 0.4 2.7 0.4 0.2 0.4 0 0.4-0.2 0.4 1 0.4-0.6 0.4-2.2 0.4 3.1 0.4 0.7 0.4-0.5 0.4 0.5 0.4-0.8 0.4 1.2 0.4-0.7 0.4 1.4 0.4-1.9 0.4 0.2 0.4 1.1 0.4 0.8 0.4-0.1 0.4 0 0.4 0.6 0.4-1.3 0.4 1.4 0.4-0.9 0.4 0.6 0.4 0 0.4-0.1 0.4-1 0.4 1.3 0.4-0.7 0.4 0.1 0.4 0.3 0.4-0.1 0.4-0.5 0.4 1 0.4-1.5 0.4 0.6 0.4 0.5 0.4-0.7 0.4-0.2 0.4 0.8 0.4 0 0.4 0.1 0.4-0.1 0.4 0.3 0.4-1.6 0.4 0.7 0.4-0.8 0.4 1.3 0.4-0.3 0.4 0.2 0.4-1 0.4 1.6 0.4-0.9 0.4 1.2 0.4-0.1 0.4-1.1 0.4 0.5 0.4-0.3 0.4 0.5 0.4-0.6 0.4-0.2 0.4-0.2 0.4 1.4 0.4-0.1 0.4 0.1 0.4-1.1 0.4 0.1 0.4 0 0.4 0.4 0.4 0.2 0.4-0.6 0.4 0.3 0.4 0.5 0.4-2.1 0.4 2.5 0.4-0.3 0.4 0.1 0.4 0.1 0.4-1.7 0.4-0.2 0.4 1.1 0.4-0.2 0.4 0.5 0.4 0.6 0.4-0.3 0.4-1.4 0.4 0.6 0.4-0.4 0.4 1.1 0.4-0.1 0.4-1.8 0.4-0.2 0.4 2.3 0.4-3.2 0.4 2.5 0.4 0.8 0.4-0.7 0.4 0.5 0.4-0.7 0.4 0.4 0.4 0.5 0.4 0 0.4-0.4 0.4 0.4 0.4-1.5 0.4 0.9 0.4 0.4 0.4 0.3 0.4-0.5 0.4-1.1 0.4 1.6 0.4-2.1 0.4 1.7 0.4 0.1 0.4 0.4 0.4-0.2 0.4-0.5 0.4 0.3 0.4-1.6 0.4 0.7 0.4 1.1 0.4-0.8 0.4 0.6 0.4-0.1 0.4-0.4 0.4-1.5 0.4 1.9 0.4-0.2 0.4-1.3 0.4-0.4 0.4 2.5 0.4-0.3 0.4 0.1 0.4-0.1 0.4 0.1 0.4-0.9 0.4-1.2 0.4 1.3 0.4 0.5 0.4-0.9 0.4-1.2 0.4 0.1 0.4 2.3 0.4-1.4 0.4 0 0.4 0.8 0.4 0.7 0.4-0.6 0.4-0.9 0.4 0.6 0.4 0.6 0.4-1.1 0.4 0.4 0.4-0.5 0.4 0 0.4 1.1 0.4-0.1 0.4-0.7 0.4-0.5 0.4 1 0.4-2.1 0.4 0 0.4 2.6 0.4-0.4 0.4 0.5 0.4-0.7 0.4-1.8 0.4 2.4 0.4-1 0.4 0.4 0.4-1.1 0.4 0.2 0.4 0.4 0.4 0.6 0.4-1.6 0.4 1.6 0.4-0.4 0.4 0.1 0.4-0.9 0.4-0.6 0.4 0.7 0.4-0.2 0.4 1.2 0.4-1.6 0.4 1 0.4 0.1 0.4-0.7 0.4 0.5 0.4-0.5 0.4 0.8 0.4-2.2 0.4 0.4 0.4 1.2 0.4-0.2 0.4-1.8 0.4 1.2 0.4-0.5 0.4 1 0.4-1.1 0.4-1 0.4 1.5 0.4-1.1 0.4 0.8 0.4-1.1 0.4-0.8 0.4 0.7 0.4-1.9 0.4-0.9 0.4 1.8 0.4-3 0.4 1.2 0.4-2.2 0.4-0.4 0.4 0.4 0.4 1.8 0.4-0.5 0.4-1.6 0.4-0.6 0.4 0.3 0.4 3.3 0.4-3.6 0.4-1 0.4-0.8 0.4-0.1 0.4 0.9 0.4-0.3 0.4-4.4 0.4 5.9 0.4-2.6 0.4-1 0.4 3.6 0.4-6.2 0.4 0.2 0.4 3.1 0.4-1.8 0.4 1.1 0.4 0.3 0.4 0.7 0.4-1.8 0.4-1.9 0.4-1.5 0.4 2.5 0.4-2.7 0.4 2.6 0.4-1.2 0.4 1.8 0.4 0.5 0.4-0.9 0.4-1.7 0.4 2.3 0.4-1 0.4 1.6 0.4-0.9 0.4 4.2 0.4-3.8 0.4-1.7 0.4 1.7 0.4 1.6 0.4 4 0.4-1.7 0.4-2.4 0.4 1 0.4-1.4 0.4-0.1 0.4 3.5 0.4-0.4 0.4-1.4 0.4 0.2 0.4 1.8 0.4 0.5 0.4-1.8 0.4-1.1 0.4 3.7 0.4-2 0.4-1.2 0.4 2.4 0.4 0.7 0.4 1.2 0.4-1.7 0.4 1.2 0.4-1.9 0.4 2.5 0.4-2.5 0.4 3 0.4-0.4 0.4-2.1 0.4 1.3 0.4 3.1 0.4-3.4 0.4-0.7 0.4 1.8 0.4 0.7 0.4 0.8 0.4-1.2 0.4-0.5 0.4 0.3 0.4 1.2 0.4-1.3 0.4 0.8 0.4-3.2 0.4 1.7 0.4 0.1 0.4 1.3 0.4-1 0.4-0.5 0.4 0.9 0.4-1.5 0.4 3.7 0.4-5.6 0.4 1.1 0.4 2 0.4-1.7 0.4-0.9 0.4 0.6 0.4-2.3 0.4 0.6 0.4-0.2 0.4 2.1 0.4-2.4 0.4 2.1 0.4-3.1 0.4 0.2 0.4-3 0.4 3.1 0.4-3.8 0.4 3.5 0.4 0.3 0.4-0.9 0.4-2.2 0.4 1 0.4-3.4 0.4 2.7 0.4 1.2 0.4-0.4 0.4-0.6 0.4 2.3 0.4-1.4 0.4-0.6 0.4 0.2 0.4-1.8 0.4 1.2 0.4-2.6 0.4-1.2 0.4 3.4 0.4 1.7 0.4-2.9 0.4 2.1 0.4-3.1 0.4 2.5 0.4 0 0.4 0 0.4-2.1 0.4 2.8 0.4 0.3 0.4-0.2 0.4 2.5 0.4-3.7 0.4 0.9 0.4 1.5 0.4-3.5 0.4 0.7 0.4 3 0.4-1.9 0.4-0.5 0.4 2 0.4-2.5 0.4 2.3 0.4-1.5 0.4 0.7 0.4-2.6 0.4 4.2 0.4 0.3 0.4-0.4 0.4-0.5 0.4 1.4 0.4 1.9 0.4-0.6 0.4-2 0.4 1.5 0.4-0.5 0.4 1.2 0.4-1.6 0.4 3.3 0.4-2.9 0.4-0.2 0.4 2 0.4 1.9 0.4-4.2 0.4 2.5 0.4 0.9 0.4 3 0.4-5.4 0.4 3.6 0.4-2.2 0.4 0.7 0.4 1.9 0.4-1 0.4-1.7 0.4 1.7 0.4 0 0.4 0.9 0.4-1.3 0.4 0.5 0.4 0.7 0.4 0.6 0.4-0.1 0.4 1 0.4 0.4 0.4-0.2 0.4-0.9 0.4-1.1 0.4 1.1 0.4 0.4 0.4 0.7 0.4-0.7 0.4 1.3 0.4-1.1 0.4-0.4 0.4 1.8 0.4 0 0.4-1 0.4-0.6 0.4 1.9 0.4 0.3 0.4 0.4 0.4-1.8 0.4 1.6 0.4 0.4 0.4-0.9 0.4 1.3 0.4-0.6 0.4 0 0.4 0.3 0.4-1 0.4 0.9 0.4 1 0.4 0.2 0.4-1.4 0.4 1.4 0.4 0.1 0.4 0.2 0.4-1.5 0.4 1.6 0.4 0.2 0.4-3.1 0.4 3.2 0.4-0.1 0.4-0.2 0.4-1.2 0.4 0.8 0.4-0.5 0.4 0.7 0.4 0.8 0.4-0.9 0.4 1.1 0.4 0 0.4-1.5 0.4 0.9 0.4 0 0.4 0.4 0.4-1.1 0.4 1.5 0.4-1.7 0.4 1.5 0.4-0.7 0.4 0.7 0.4-0.3 0.4 0 0.4-0.7 0.4 0.2 0.4 0.6 0.4-1 0.4 1 0.4-0.6 0.4-0.1 0.4 0.6 0.4 0.5 0.4-1.2 0.4 0.5 0.4-0.9 0.4-0.4 0.4 1.7 0.4 0.3 0.4-1.6 0.4 0.7 0.4 1.1 0.4-1.8 0.4 1.8 0.4-0.1 0.4-0.2 0.4-0.9 0.4 1.3 0.4-0.5 0.4-0.1 0.4 0.6 0.4-3.2 0.4 2.8 0.4 0.4 0.4-1.2 0.4 1.3 0.4-1.9 0.4 1.2 0.4 0 0.4 0.3 0.4-0.2 0.4 0.3 0.4-1.3 0.4 0.6 0.4 0.6 0.4-0.4 0.4 0.5 0.4 0.3 0.4-1.3 0.4 0.5 0.4 0.1 0.4-0.2 0.4-1.2 0.4 2 0.4-2.6 0.4 1.7 0.4-0.6 0.4 1.7 0.4-3 0.4 1.6 0.4-0.7 0.4 1.7 0.4-2 0.4 1.6 0.4-2.5 0.4 3 0.4-0.1 0.4 0.1 0.4-1.2 0.4 0 0.4 0.6 0.4-0.6 0.4 0.4 0.4-0.3 0.4 1 0.4-0.8 0.4 0.2 0.4 0.5 0.4-1.8 0.4 0.7 0.4 0.8 0.4-0.8 0.4 0 0.4 1 0.4 0.3 0.4-1.1 0.4 0.3 0.4 0.3 0.4-0.6 0.4 1 0.4-1.2 0.4 0.1 0.4 0.3 0.4-1 0.4 1.9 0.4 0.2 0.4-0.3 0.4 0.1 0.4-0.1 0.4 0.1 0.4 0.1 0.4-0.6 0.4 0.6 0.4-0.7 0.4 0.8 0.4-0.8 0.4 0.5 0.4-1.1 0.4 0.6 0.4-0.5 0.4 1.1 0.4-0.5 0.4 0.3 0.4-0.7 0.4 0.6 0.4 0.3 0.4-1.8 0.4 0.9 0.4 0 0.4 0.8 0.4 0.3 0.4-0.1 0.4-0.5 0.4 0.2 0.4-0.5 0.4 0.5 0.4 0.4 0.4-2.2 0.4 1.5 0.4-0.9 0.4 1 0.4-0.1 0.4 0.4 0.4 0.4 0.4-1.5 0.4 1.3 0.4-2.2 0.4 1.3 0.4 0.8 0.4-0.6 0.4-1.8 0.4 1.1 0.4 1 0.4 0.3 0.4 0.3 0.4-0.3 0.4-0.5 0.4-2 0.4 1.3 0.4-0.8 0.4 1.3 0.4-0.6 0.4 0.5 0.4 0.8 0.4 0 0.4-0.4 0.4-0.3 0.4 0.4 0.4-0.2 0.4-0.3 0.4 0.3 0.4 0.1 0.4-0.1 0.4-0.4 0.4 1 0.4-0.2 0.4-2 0.4 1 0.4-0.1 0.4 0.1 0.4-1.8 0.4 2.1 0.4 0.2 0.4 0.4 0.4-0.1 0.4 0.5 0.4-2.6 0.4 2.7 0.4-0.4 0.4-0.6 0.4-0.1 0.4-0.7 0.4 0 0.4-0.6 0.4 1.6 0.4-0.8 0.4 1.5 0.4-1.2 0.4-1.1 0.4 2.2 0.4 0.2 0.4-0.1 0.4-0.8 0.4 0.8 0.4-2.3 0.4 1 0.4 1.3 0.4-0.3 0.4 0 0.4-2 0.4 0.3 0.4 1.6 0.4-0.2 0.4-0.4 0.4 0.7 0.4-0.1 0.4-1.5 0.4 1.4 0.4-0.8 0.4-1 0.4 0.9 0.4-1.3 0.4 1.5 0.4-0.6 0.4 1 0.4 0.3 0.4-0.2 0.4-0.2 0.4-1.2 0.4 2.2 0.4-0.4 0.4-1.5 0.4 1.6 0.4-0.2 0.4-0.4 0.4-0.1 0.4 0.3 0.4-0.2 0.4-0.1 0.4 0.2 0.4-0.5 0.4 0.5 0.4 0.3 0.4-1 0.4-1.2 0.4 2.5 0.4-0.2 0.4 0.2 0.4-0.9 0.4 0.7 0.4-2.3 0.4 0.7 0.4-1 0.4 1.7 0.4 0 0.4-0.5 0.4-0.8 0.4 2 0.4-0.5 0.4 0 0.4 0.6 0.4-0.6 0.4 0.9 0.4-0.7 0.4 0.7 0.4-0.3 0.4 0.4 0.4 0.1 0.4-1 0.4 0.4 0.4-1.1 0.4 1.1 0.4-0.3 0.4 0.3 0.4 0.1 0.4-0.4 0.4 0.1 0.4 0.7 0.4-2.3 0.4 0.3 0.4 2 0.4-1 0.4 0 0.4 0.1 0.4-0.2 0.4 1.2 0.4-2.9 0.4 2.6 0.4 0.2 0.4-1.6 0.4 0.1 0.4 1.5 0.4-0.6 0.4 0.2 0.4 0.2 0.4 0.2 0.4-0.8 0.4-1.6 0.4 1.6 0.4-0.5 0.4 0.9 0.4-0.4 0.4-1.2 0.4 0.8 0.4 1.1 0.4-0.8 0.4-1.2 0.4 0.2 0.4-0.3 0.4 2.2 0.4-0.3 0.4-0.2 0.4 0 0.4-2.8 0.4 2.2 0.4 1.1 0.4-1.6 0.4-0.2 0.4 1.4 0.4 0.1 0.4-0.8 0.4 1 0.4 0 0.4-1.1 0.4-0.2 0.4 0.2 0.4 1.2 0.4-0.1 0.4-0.5 0.4-0.2 0.4-1.2 0.4-0.3 0.4 1.1 0.4-1.2 0.4 1.2 0.4 0.1 0.4-0.2 0.4-0.1 0.4 1.1 0.4 0.2 0.4-0.8 0.4 0.2 0.4 0.2 0.4-1.5 0.4 0.1 0.4 0.6 0.4-0.2 0.4 0.3 0.4 0.6 0.4-1.3 0.4 1.5 0.4-0.4 0.4-0.5 0.4 0.9 0.4 0 0.4-0.8 0.4-0.7 0.4 0.8 0.4-1.5 0.4 2.1 0.4 0.1 0.4-0.8 0.4-0.2 0.4 0 0.4 0.7 0.4-2.1 0.4 2.6 0.4-0.7 0.4-0.8 0.4 1.2 0.4-0.7 0.4 1 0.4-1.8 0.4 1.9 0.4-0.6 0.4-1.5 0.4 2 0.4-1.5 0.4-1.2 0.4 1.2 0.4 1.1 0.4-0.7 0.4 0.8 0.4 0.2 0.4-0.2 0.4-0.6 0.4 0 0.4 0.3 0.4-1.3 0.4 1.7 0.4-1 0.4 0.3 0.4-0.8 0.4 1.6 0.4-1.1 0.4-0.9 0.4 1.5 0.4-0.1 0.4 0.5 0.4-0.1 0.4-0.6 0.4 0.8 0.4 0 0.4-0.5 0.4 0.4 0.4-0.4 0.4-1.1 0.4-2.3 0.4 4 0.4-0.8 0.4-0.4 0.4 0.5 0.4-0.2 0.4 0.1 0.4-1.3 0.4 1.9 0.4-2.6 0.4 2.8 0.4-3.1 0.4 2.6 0.4 0.5 0.4-0.2 0.4 0.2 0.4-0.4 0.4 0.2 0.4-1.4 0.4 1.3 0.4 0.2 0.4-2.2 0.4 0.6 0.4-0.8 0.4 1.6 0.4-2.4 0.4 2.8 0.4 0.1 0.4-2.2 0.4 1.4 0.4-0.4 0.4 0.8 0.4 0.1 0.4 0 0.4 0 0.4-0.1 0.4 0.2 0.4 0.4 0.4-0.4 0.4-0.8 0.4 1 0.4-0.2 0.4-1.9 0.4 0.5 0.4 0.1 0.4 1.8 0.4-0.1 0.4 0.1 0.4-0.2 0.4 0.3 0.4-0.8 0.4 0.4 0.4-1.2 0.4-0.8 0.4 1.8 0.4-0.4 0.4-0.4 0.4 1.5 0.4-2.9 0.4 2.3 0.4-0.6 0.4 0 0.4 0.3 0.4 0.4 0.4-0.6 0.4 0.8 0.4-0.4 0.4-0.3 0.4-1.1 0.4 0.6 0.4 0.2 0.4-0.6 0.4 1.4 0.4 0.2 0.4-0.4 0.4-0.7 0.4 0.4 0.4 0.8 0.4-0.2 0.4-1.1 0.4 0.5 0.4 0.3 0.4 0.2 0.4-1.7 0.4 1.9 0.4-2.4 0.4 2.1 0.4-0.1 0.4-0.7 0.4-0.4 0.4 1.7 0.4-0.9 0.4 0.4 0.4-1.5 0.4 1.8 0.4 0.2 0.4-1.2 0.4 0 0.4 1 0.4-0.4 0.4-2.4 0.4 0.6 0.4 2 0.4-0.3 0.4 0.1 0.4 0.1 0.4-0.3 0.4-0.4 0.4 1.1 0.4-1.2 0.4 0.4 0.4 0 0.4-1.5 0.4 1.3 0.4-2.3 0.4 3.1 0.4 0.2 0.4-3.6 0.4 3.1 0.4 0.4 0.4-1.1 0.4 0.5 0.4 0.3 0.4-1 0.4-2.2 0.4 3.2 0.4-0.6 0.4 0 0.4-0.4 0.4 1.2 0.4-1.2 0.4 1.4 0.4-2 0.4 1 0.4 1.1 0.4-0.9 0.4-1 0.4 1.3 0.4-0.9 0.4 0.5 0.4 0.9 0.4-0.2 0.4-0.8 0.4 0.2 0.4-1.9 0.4 1 0.4 0.9 0.4-1.3 0.4 1.7 0.4 0.2 0.4-2.1 0.4 0.5 0.4 1.2 0.4-0.4 0.4 0.1 0.4-0.9 0.4 0.7 0.4 1 0.4-0.1 0.4-1.1 0.4 0.6 0.4 0.3 0.4 0.5 0.4-1.5 0.4 1.4 0.4-2.1 0.4-0.3 0.4 2 0.4-0.4 0.4 0.3 0.4-1 0.4 1.5 0.4-3.8 0.4 3.6 0.4-1.7 0.4-1 0.4 3 0.4-1 0.4 0.5 0.4-1.3 0.4 0.7 0.4-0.9 0.4 0.9 0.4-0.1 0.4 1.1 0.4-0.5 0.4-2.2 0.4 1.7 0.4-2.4 0.4 2.8 0.4-0.7 0.4-0.8 0.4 2.1 0.4-0.4 0.4-2.2 0.4 2 0.4 0.6 0.4-1.1 0.4 0.9 0.4-0.4 0.4-1.7 0.4 1 0.4 0.2 0.4 0.6 0.4-1.6 0.4-1.4 0.4 2.6 0.4-0.6 0.4 0.4 0.4-1.6 0.4 1.5 0.4-0.2 0.4 0.2 0.4 0.8 0.4-1.6 0.4 0.9 0.4 0.7 0.4-1 0.4 0 0.4 0.8 0.4-2.3 0.4 1.3 0.4 1.6 0.4-2 0.4 1.5 0.4 0.3 0.4-1.1 0.4 0.4 0.4 0 0.4 0.5 0.4-2.1 0.4 0.9 0.4 0.9 0.4-2.3 0.4 2.5 0.4 0.2 0.4-2.1 0.4 2.2 0.4 0.2 0.4-1.3 0.4 0.2 0.4 0.2 0.4-0.2 0.4-0.1 0.4-0.9 0.4 1.9 0.4-0.4 0.4-0.1 0.4-1.6 0.4 1.6 0.4-1.1 0.4 1.2 0.4 0 0.4-0.5 0.4 0 0.4-1 0.4 1.5 0.4-1.9 0.4 2.3 0.4-0.7 0.4 0.5 0.4-0.2 0.4 0.2 0.4-0.2 0.4-1.5 0.4 0.4 0.4 1.3 0.4 0 0.4-0.5 0.4-0.9 0.4 1.5 0.4-0.7 0.4-0.9 0.4 1.5 0.4-0.9 0.4-1 0.4 2.2 0.4-1.2 0.4-0.6 0.4 0.3 0.4-0.7 0.4-1.2 0.4 3.1 0.4-1.9 0.4 1.2 0.4 0.1 0.4 0.4 0.4-1.4 0.4-0.6 0.4 1.2 0.4-0.1 0.4 1 0.4-1.3 0.4 0 0.4 0.6 0.4 0.7 0.4-0.8 0.4 0.8 0.4-1 0.4 0.1 0.4 0.3 0.4 0.9 0.4-0.4 0.4-1.5 0.4 1.6 0.4-0.4 0.4-0.5 0.4 0 0.4-0.2 0.4 1.2 0.4-1.1 0.4 1.1 0.4-1.1 0.4 0 0.4 1.1 0.4-0.2 0.4-0.7 0.4 0.1 0.4-0.5 0.4-0.1 0.4 1.3 0.4-1 0.4 0.2 0.4 0.8 0.4-0.8 0.4-0.4 0.4-0.5 0.4 1.2 0.4-2.6 0.4 2 0.4 0.8 0.4-0.4 0.4 0.2 0.4-0.9 0.4 1.3 0.4-0.9 0.4 0.8 0.4-1.4 0.4-1.4 0.4 1.2 0.4 1.1 0.4 0 0.4 0.2 0.4-0.1 0.4 0.5 0.4-0.3 0.4-0.8 0.4-0.1 0.4 0.1" fill="none" stroke="#22e822" stroke-width="3.3" stroke-linejoin="round" stroke-linecap="round"/>
<path d="M72.0 914.4l0.4 1 0.4-1.9 0.4 2.4 0.4 0.4 0.4-1.6 0.4 0.9 0.4-0.2 0.4-0.6 0.4-0.5 0.4-1.2 0.4 3.3 0.4-1.5 0.4 2.5 0.4-1.7 0.4-0.6 0.4-1.1 0.4 2 0.4-2 0.4 2 0.4-2 0.4 0.5 0.4-1.9 0.4 3.8 0.4-2.5 0.4-0.4 0.4 1.1 0.4-1.8 0.4 1.6 0.4-2.1 0.4 1.6 0.4-1.7 0.4-0.8 0.4 1.1 0.4-0.9 0.4 1.9 0.4-0.6 0.4 0.5 0.4-0.5 0.4-0.5 0.4 0.3 0.4 1 0.4-1.3 0.4-0.6 0.4-0.2 0.4 0.8 0.4-0.5 0.4 2.6 0.4-3 0.4 0.1 0.4 0.8 0.4 1 0.4-0.8 0.4-0.7 0.4 0.2 0.4 0.6 0.4 1.4 0.4-1.9 0.4 0.9 0.4-0.4 0.4 1 0.4 0.1 0.4-1.8 0.4 3.9 0.4-2.1 0.4-0.6 0.4-0.3 0.4 0.7 0.4 0.4 0.4 0.7 0.4-0.5 0.4 0.6 0.4-2 0.4 0.9 0.4-0.1 0.4 1.2 0.4 0.4 0.4-1.8 0.4 1.4 0.4 0.9 0.4 0.3 0.4-2 0.4 1.7 0.4-0.2 0.4-0.7 0.4 2.4 0.4-3.1 0.4 0.8 0.4 0.7 0.4-0.2 0.4-0.5 0.4 1.5 0.4 0.1 0.4-0.6 0.4 0 0.4-1.1 0.4-1.2 0.4 3.3 0.4-3.2 0.4 3.2 0.4-2.5 0.4 0.3 0.4-0.5 0.4 1.1 0.4-1.6 0.4 2.3 0.4-1.4 0.4-0.4 0.4-0.8 0.4 0.7 0.4-0.3 0.4 1.8 0.4-1.1 0.4-2.6 0.4 3.1 0.4-4 0.4 3.8 0.4-3.5 0.4 1.8 0.4 0.8 0.4-0.9 0.4-1.2 0.4 2.3 0.4-3.1 0.4 0.3 0.4 2.8 0.4-2.3 0.4 1.1 0.4 0.5 0.4-1 0.4 0.4 0.4-0.2 0.4 0 0.4 1 0.4-0.3 0.4-0.7 0.4 0.6 0.4-1.5 0.4-0.3 0.4-0.2 0.4 1.7 0.4 0.9 0.4-1.6 0.4-2.2 0.4 1.5 0.4 1 0.4-0.2 0.4-0.3 0.4 0.9 0.4-0.1 0.4-2.3 0.4 1.8 0.4-1.3 0.4 1 0.4 1 0.4 0.6 0.4-1.2 0.4-1.2 0.4 0.1 0.4 0.9 0.4-1.6 0.4 0.9 0.4 0.7 0.4 0.3 0.4-1.3 0.4 0.6 0.4 1 0.4-1.1 0.4-2 0.4 1.9 0.4 0 0.4-0.7 0.4 0.5 0.4-1.6 0.4 2.7 0.4-0.8 0.4-1 0.4 0.7 0.4-0.1 0.4-1 0.4-1.9 0.4-0.2 0.4 5 0.4-3.2 0.4 0.8 0.4 0.9 0.4-1 0.4 1.6 0.4-2.2 0.4 1.5 0.4-2.7 0.4 2.8 0.4 0 0.4-0.3 0.4-0.1 0.4-0.1 0.4 0.6 0.4 0.1 0.4-2 0.4 2.1 0.4-2.1 0.4 1.1 0.4-0.4 0.4 0.7 0.4-0.8 0.4 0.7 0.4-1 0.4-0.5 0.4 2.1 0.4-0.6 0.4-0.1 0.4 0.4 0.4-2.2 0.4 1.9 0.4-2.2 0.4 1.2 0.4-0.8 0.4 0.2 0.4 0.2 0.4-0.9 0.4-1.3 0.4 1.7 0.4 0.1 0.4-0.7 0.4 0.1 0.4-3.1 0.4 1.6 0.4-0.4 0.4-2.1 0.4 1.9 0.4-0.4 0.4-1.8 0.4 0.5 0.4 0.7 0.4 0.3 0.4-0.2 0.4-2.2 0.4-0.2 0.4 0.3 0.4 0.2 0.4-0.8 0.4 0.1 0.4 0.7 0.4-0.3 0.4-0.9 0.4-1.6 0.4 0.4 0.4 0.8 0.4 0 0.4-0.1 0.4-2.6 0.4 0.3 0.4-1.2 0.4-2.2 0.4 1.6 0.4-1.1 0.4 3 0.4-1.4 0.4-1.7 0.4 0.3 0.4-0.1 0.4 1 0.4-1.6 0.4 0.3 0.4-1.7 0.4 0.3 0.4-0.4 0.4-1.2 0.4-1.6 0.4 0.6 0.4-2.3 0.4 1.4 0.4-2.5 0.4-1.1 0.4 2.4 0.4-3.3 0.4 0.1 0.4-2 0.4-0.2 0.4-0.2 0.4-1.4 0.4 1.9 0.4-2.9 0.4-1.3 0.4 2.2 0.4-1.1 0.4-4.3 0.4 1.4 0.4 1.3 0.4-2.8 0.4-0.1 0.4-0.6 0.4-3 0.4 1 0.4 1.3 0.4 0.2 0.4-2.4 0.4-0.7 0.4 0.2 0.4-1.1 0.4-0.2 0.4-2.4 0.4 0.5 0.4 0 0.4-0.5 0.4-3.4 0.4 2.4 0.4-1.6 0.4-0.6 0.4-3.1 0.4 1.7 0.4-2.8 0.4-1.9 0.4 2.6 0.4-0.8 0.4-0.7 0.4-0.6 0.4-1 0.4 0.7 0.4-1.2 0.4 0.3 0.4 0.5 0.4-3.1 0.4-0.7 0.4 0.7 0.4-4.4 0.4 0.1 0.4 0.1 0.4-3.1 0.4 2.8 0.4 0.2 0.4-4.5 0.4 0 0.4 1.6 0.4 0 0.4-4.8 0.4 2.4 0.4-1.6 0.4-2.9 0.4 1.4 0.4-0.8 0.4 0.4 0.4-0.6 0.4-0.8 0.4-0.2 0.4-0.3 0.4 0.6 0.4 0.5 0.4-0.1 0.4-2.8 0.4 0.1 0.4 0 0.4 2.9 0.4-1.4 0.4-1.8 0.4-0.5 0.4 0.3 0.4 1.7 0.4-1.3 0.4 1.9 0.4 2.3 0.4-1.8 0.4 2.1 0.4-2.8 0.4 3.1 0.4 0.4 0.4-1.1 0.4 3.7 0.4-1.3 0.4-0.3 0.4 1.2 0.4 2.5 0.4-2.4 0.4 2.8 0.4-0.6 0.4 2.4 0.4-0.1 0.4 1.4 0.4 2 0.4 0 0.4 1.6 0.4 1.1 0.4 0.5 0.4 0.7 0.4 0.7 0.4 1.7 0.4 1.7 0.4 1.8 0.4 0.9 0.4-2.4 0.4 2.7 0.4 1.3 0.4 2 0.4 0.9 0.4-1.9 0.4 3.2 0.4-1.4 0.4 2.6 0.4 0.6 0.4 1.4 0.4 3.7 0.4-1.6 0.4 1 0.4 1.7 0.4 2.1 0.4-2.3 0.4 4.8 0.4-1.8 0.4 0.6 0.4 2.3 0.4 1.5 0.4 3.2 0.4-1.2 0.4-0.8 0.4 1.3 0.4 0 0.4 2.6 0.4 1 0.4-0.5 0.4 2.4 0.4-2.4 0.4 2.1 0.4 0.3 0.4 1.1 0.4-0.4 0.4 3.6 0.4-1.4 0.4 1.6 0.4 2.2 0.4 1.1 0.4 0.2 0.4-3 0.4 2.7 0.4 0.6 0.4 0.2 0.4 0.4 0.4 0.7 0.4 1.6 0.4-0.7 0.4-0.6 0.4 0.1 0.4 2.1 0.4-1.6 0.4 2.8 0.4-0.9 0.4 0.2 0.4 1 0.4-0.3 0.4 1.3 0.4-1.8 0.4-0.4 0.4 4.1 0.4-1.6 0.4-2.6 0.4 4.5 0.4-3 0.4 3.7 0.4-0.1 0.4-0.8 0.4-0.7 0.4-0.7 0.4 2 0.4-1.3 0.4 1.7 0.4-1.3 0.4-1.1 0.4 1 0.4 0.9 0.4-0.5 0.4 0.8 0.4-1 0.4 2.7 0.4-2.1 0.4 1.1 0.4-2.1 0.4 2.6 0.4 0.7 0.4-0.9 0.4-0.7 0.4-0.7 0.4 1.6 0.4 0 0.4-1.8 0.4 1.4 0.4 0.6 0.4-1.3 0.4 1.4 0.4-0.9 0.4 1.8 0.4-2.7 0.4 1.8 0.4-0.4 0.4-2 0.4 1 0.4 0.1 0.4 1.7 0.4-1.3 0.4 0.4 0.4 0.1 0.4 2.4 0.4-2.9 0.4 2.2 0.4-2.2 0.4-1.4 0.4 0.7 0.4-0.5 0.4 0.8 0.4-1.1 0.4 0.5 0.4 2.8 0.4-1.8 0.4 0.1 0.4 1.4 0.4-3.6 0.4 2.2 0.4-1.1 0.4 0.4 0.4-0.7 0.4 0.7 0.4 1.1 0.4-0.1 0.4-1 0.4 0.5 0.4-2.1 0.4-1.8 0.4 3.9 0.4 1 0.4-1.7 0.4-1.2 0.4 0.6 0.4 1.1 0.4-2.5 0.4 1.2 0.4 0.5 0.4-1.8 0.4 3.1 0.4-1.3 0.4 0.8 0.4-2.9 0.4 1.3 0.4 1.3 0.4-1.2 0.4 0.8 0.4-3.2 0.4 1.8 0.4-1.9 0.4 1.5 0.4 0.8 0.4-0.4 0.4-1.2 0.4 1.6 0.4 0.4 0.4-0.8 0.4 0.9 0.4 0.4 0.4 0.1 0.4-1.6 0.4 0.8 0.4-1.1 0.4 0.5 0.4 1.2 0.4-1.2 0.4-0.4 0.4-0.1 0.4 1.1 0.4 1.1 0.4-0.7 0.4-1.1 0.4 1 0.4 0.2 0.4 0.5 0.4-2.2 0.4 1.3 0.4-1 0.4-0.2 0.4 1.9 0.4-0.7 0.4-0.5 0.4 1.3 0.4-1.2 0.4-1.1 0.4 1.8 0.4-1.8 0.4 0 0.4 0.5 0.4 0.2 0.4 1.1 0.4-1.3 0.4-1.4 0.4 1.2 0.4 0.9 0.4-0.4 0.4 0 0.4-1.1 0.4 0.8 0.4 1 0.4 0 0.4-1.4 0.4 0.1 0.4-0.3 0.4 1.9 0.4-1.7 0.4 0.5 0.4-0.5 0.4-0.1 0.4 0.8 0.4 1 0.4-1.5 0.4 1.8 0.4-1.2 0.4 0.7 0.4 1.8 0.4-0.2 0.4-2 0.4-0.2 0.4-0.2 0.4 0.9 0.4-2.6 0.4 1.2 0.4 0.6 0.4-0.7 0.4-0.2 0.4 2.4 0.4-2.8 0.4 1 0.4-0.1 0.4 0.1 0.4-0.5 0.4 1.8 0.4-0.9 0.4 1.9 0.4-3.1 0.4 1.5 0.4-1.4 0.4 1.6 0.4 0.9 0.4-2.3 0.4 2.2 0.4-1.8 0.4-0.3 0.4 1.5 0.4 0.4 0.4-0.6 0.4 0.2 0.4-0.3 0.4-0.5 0.4-1.6 0.4 1.8 0.4-0.3 0.4 1.2 0.4-1.3 0.4 2.8 0.4-1.3 0.4-1.1 0.4 1.1 0.4-0.9 0.4 1.6 0.4-1.8 0.4 1.9 0.4-2.5 0.4 1.2 0.4-0.2 0.4-0.8 0.4 0.6 0.4 0.3 0.4-1.2 0.4 0.3 0.4 1.4 0.4-1.3 0.4 2.4 0.4 0 0.4-2.1 0.4 0.8 0.4 0.2 0.4 0.2 0.4-1.3 0.4 1.3 0.4-1.3 0.4 0.4 0.4 1.4 0.4-1.4 0.4-0.9 0.4 0.4 0.4 0.9 0.4-1.1 0.4-0.3 0.4 1.2 0.4-1.2 0.4 3.1 0.4-2.8 0.4 1.3 0.4-2.2 0.4 1.2 0.4 1.1 0.4-0.3 0.4 0.1 0.4-1.3 0.4 0.8 0.4-0.4 0.4-1.3 0.4 2.6 0.4-1.9 0.4 0.4 0.4 1.1 0.4-0.2 0.4 1.9 0.4-2.7 0.4 1.5 0.4-1.6 0.4 0.1 0.4 1 0.4-0.4 0.4-1.2 0.4 0.4 0.4 0.2 0.4 1.5 0.4-2.5 0.4 1 0.4 0.3 0.4-0.5 0.4-0.7 0.4 1.3 0.4-1.8 0.4 2.9 0.4-4.7 0.4 0.7 0.4 2.1 0.4 0.4 0.4-0.2 0.4-1.2 0.4 0.4 0.4 0.1 0.4-1 0.4 0.5 0.4-0.7 0.4 2.1 0.4-0.9 0.4-0.9 0.4-0.1 0.4-0.1 0.4 0 0.4 0.5 0.4-0.7 0.4-0.3 0.4 0.8 0.4-0.6 0.4 0.1 0.4-0.1 0.4-0.3 0.4-1.1 0.4 0.8 0.4 1.4 0.4-2.2 0.4 0 0.4 0.3 0.4 0 0.4 1.7 0.4-1.8 0.4 1.4 0.4-0.4 0.4-0.2 0.4-0.2 0.4-0.4 0.4 0.1 0.4 0.7 0.4-3.5 0.4 2.4 0.4 0.7 0.4-1.9 0.4 0.5 0.4 0.9 0.4-2.8 0.4 2 0.4-1.5 0.4 1.3 0.4 0.1 0.4-0.3 0.4-1.3 0.4 0.9 0.4-0.7 0.4 0.9 0.4-0.8 0.4-0.5 0.4 1.8 0.4-2.3 0.4 0.6 0.4 1.6 0.4-0.8 0.4 0.5 0.4-2 0.4 1.1 0.4-1.1 0.4-1 0.4 2.3 0.4-1.7 0.4 1.1 0.4-1.1 0.4 1.5 0.4-0.1 0.4-1.7 0.4 0 0.4-1.8 0.4 2.3 0.4 0.2 0.4-0.6 0.4 1.5 0.4-0.8 0.4 0.1 0.4-0.7 0.4-0.9 0.4 1.7 0.4 0.9 0.4 0.5 0.4-1 0.4-1.4 0.4 1.1 0.4 0.7 0.4-1.2 0.4 0.9 0.4-0.1 0.4 0 0.4 0 0.4 1.5 0.4 0.4 0.4 0.9 0.4-1.4 0.4 0.5 0.4-1.6 0.4 2.2 0.4 1.3 0.4-2.1 0.4 1.4 0.4-0.9 0.4 1.2 0.4 0.4 0.4-2.1 0.4 0.7 0.4 0.3 0.4 0.7 0.4 1.7 0.4-1.2 0.4 0.3 0.4 0.2 0.4-0.7 0.4 1.9 0.4-0.5 0.4 0.4 0.4-0.4 0.4-1.5 0.4 2 0.4-1.1 0.4-0.2 0.4 3.8 0.4-1.8 0.4-1.3 0.4 1.4 0.4 0.3 0.4-0.9 0.4-0.6 0.4 1.5 0.4-0.2 0.4 0 0.4-2.4 0.4 2.2 0.4 1.7 0.4-3.2 0.4 0.8 0.4-0.4 0.4 0.3 0.4 0.4 0.4 2.3 0.4-2.4 0.4 2 0.4-2.6 0.4 1.7 0.4-0.7 0.4-0.3 0.4 0.7 0.4 1.1 0.4-0.9 0.4 0.3 0.4-0.6 0.4 0.5 0.4-0.1 0.4 0.5 0.4-1 0.4-0.4 0.4 0.1 0.4 0 0.4 1.1 0.4-1.4 0.4 1.6 0.4-0.5 0.4 1.1 0.4-1.1 0.4 0.9 0.4-0.7 0.4-0.2 0.4-0.5 0.4 0.8 0.4-0.4 0.4-0.7 0.4 0.1 0.4-1.4 0.4 3.1 0.4 0 0.4-1.7 0.4-0.8 0.4 2 0.4 0.4 0.4-1.1 0.4-0.7 0.4 2 0.4-0.4 0.4 0.1 0.4 0.9 0.4-2 0.4 0.2 0.4 1.8 0.4-1.2 0.4 1.7 0.4-5.2 0.4 1.1 0.4 2.1 0.4-0.1 0.4-1.7 0.4 0.2 0.4 0 0.4 1.5 0.4-2.1 0.4 1.3 0.4-0.7 0.4-2.3 0.4 3.3 0.4 1.6 0.4-2.1 0.4 1 0.4-0.8 0.4-0.2 0.4-1.5 0.4 1.5 0.4-1.9 0.4 1.4 0.4 0.7 0.4 0 0.4-1 0.4 0.7 0.4-0.9 0.4 1.8 0.4-2 0.4 4 0.4-2 0.4-0.9 0.4 1.9 0.4-2.7 0.4 2.2 0.4-1.9 0.4 0.6 0.4-0.6 0.4-0.2 0.4 0.2 0.4 0.8 0.4-0.5 0.4 2.1 0.4-1.7 0.4-2.8 0.4 1.9 0.4 0.5 0.4 0.6 0.4 0.2 0.4-1.9 0.4 1.5 0.4-1 0.4 0.9 0.4-0.4 0.4 1.6 0.4-0.3 0.4 0.6 0.4-2.4 0.4 0.3 0.4 0.5 0.4-0.6 0.4 0 0.4 1.1 0.4 1.7 0.4-1.9 0.4 1.3 0.4-3 0.4 3.5 0.4 0.1 0.4-2 0.4-0.7 0.4 1.2 0.4-2.3 0.4 1.9 0.4-2 0.4 3.4 0.4-1.7 0.4-0.7 0.4-1.4 0.4 3.6 0.4-1.3 0.4-0.7 0.4 1.8 0.4-2.6 0.4 2.5 0.4 0.3 0.4-1.6 0.4 1.5 0.4 0.5 0.4-2.5 0.4 0.1 0.4 1.5 0.4 0 0.4-1.6 0.4-2.3 0.4 1.6 0.4 2.8 0.4-1.8 0.4-0.4 0.4 1.3 0.4-2.1 0.4 4 0.4-4.2 0.4 1.8 0.4 0.5 0.4 0.3 0.4-1.8 0.4 0.8 0.4 1.4 0.4-0.9 0.4 0.6 0.4-0.5 0.4 0 0.4-1.1 0.4-0.3 0.4 0.9 0.4-0.8 0.4 2.6 0.4-0.7 0.4 0.5 0.4-2.8 0.4 0.2 0.4 2 0.4-0.5 0.4 0.1 0.4 0.7 0.4-1.9 0.4-0.3 0.4 0.4 0.4 3 0.4-2.2 0.4-0.7 0.4 2.2 0.4-0.5 0.4 0 0.4-0.3 0.4-0.8 0.4 2 0.4-1 0.4-2 0.4 0.1 0.4 0.5 0.4 1.5 0.4-1.5 0.4 0.4 0.4-0.2 0.4 0.5 0.4 1.2 0.4-1.7 0.4 0.5 0.4 1.7 0.4-3.3 0.4 1.9 0.4-0.1 0.4-0.3 0.4 1.1 0.4 1.2 0.4-2.2 0.4 0 0.4 0.7 0.4-1.9 0.4 0.9 0.4 0.6 0.4 0 0.4-1 0.4 1.8 0.4-2.2 0.4 0.5 0.4-0.4 0.4 1.4 0.4 0.5 0.4-0.9 0.4 1.2 0.4-1.5 0.4 0.5 0.4 0.1 0.4-0.3 0.4 0.3 0.4-1.2 0.4-1.1 0.4 1.5 0.4 0.2 0.4 0.2 0.4-0.9 0.4-0.2 0.4 3.3 0.4-1.3 0.4-0.4 0.4-0.1 0.4-0.8 0.4 0.5 0.4 1.2 0.4-0.1 0.4-1.6 0.4 0.1 0.4 0 0.4-0.2 0.4 1.6 0.4-0.2 0.4-0.4 0.4-0.9 0.4 1.9 0.4-1.3 0.4-2.5 0.4 3.8 0.4-1.1 0.4-0.8 0.4 1.9 0.4-3.6 0.4 1.6 0.4 1.4 0.4-1.4 0.4 2.7 0.4 0 0.4-1.7 0.4-0.1 0.4 1.5 0.4-1.1 0.4-1.6 0.4 0.8 0.4-0.7 0.4 1.5 0.4-0.4 0.4 1.2 0.4-1.1 0.4-1 0.4-0.4 0.4 2.6 0.4-0.2 0.4-2.1 0.4-0.7 0.4-0.1 0.4 2.6 0.4-1.3 0.4 2.1 0.4-2.2 0.4 0.1 0.4 0.1 0.4 0.9 0.4 1.1 0.4-2.7 0.4 1.7 0.4 0.6 0.4-1.5 0.4-0.2 0.4 1.5 0.4-1.8 0.4 0.4 0.4-0.7 0.4 0.4 0.4 0.8 0.4 0.1 0.4-0.6 0.4 0.3 0.4-1.4 0.4 3.4 0.4-3.1 0.4 1.6 0.4-1.4 0.4 0.8 0.4-2 0.4 1.3 0.4-0.5 0.4 1.5 0.4-0.2 0.4-1 0.4-0.1 0.4 1.4 0.4-0.9 0.4 1.1 0.4-0.3 0.4-0.8 0.4 0.2 0.4-1.6 0.4 1.9 0.4-0.2 0.4 0.2 0.4 1.5 0.4-1.4 0.4-0.1 0.4 0 0.4-0.4 0.4 1.8 0.4-1.4 0.4 1.3 0.4-0.6 0.4-1.4 0.4 0.9 0.4 0.9 0.4-1.5 0.4 0.5 0.4-0.3 0.4 0 0.4 1 0.4-1.6 0.4 0.5 0.4 0.5 0.4-2.8 0.4 2.3 0.4 0.4 0.4 0.3 0.4-1 0.4-0.3 0.4 1.8 0.4-1.6 0.4 1.1 0.4-0.3 0.4-0.8 0.4 0.2 0.4-0.3 0.4 1.8 0.4-0.8 0.4-1.9 0.4 3.6 0.4-0.5 0.4-0.1 0.4-2.2 0.4 0.4 0.4-0.1 0.4 2.1 0.4-1.4 0.4 0.2 0.4-0.5 0.4-1.2 0.4 2.3 0.4 1.4 0.4-2.6 0.4-0.6 0.4 0.2 0.4 0.1 0.4-0.9 0.4 1 0.4 0.2 0.4-1.2 0.4 1.9 0.4-0.8 0.4-0.7 0.4 1.2 0.4 1.5 0.4-0.2 0.4-0.2 0.4 0 0.4-0.2 0.4-0.2 0.4 0.1 0.4 1.2 0.4-2.4 0.4 1.2 0.4-2.2 0.4 2 0.4 0.7 0.4-1.7 0.4 2.1 0.4-2.7 0.4 2.5 0.4-1.8 0.4 0.6 0.4-0.7 0.4 1 0.4-0.8 0.4 1.3 0.4-1.1 0.4 0.2 0.4-0.5 0.4 0.7 0.4-0.9 0.4 0.2 0.4-1.1 0.4 0.9 0.4 0.1 0.4 0.2 0.4 0.2 0.4-1.6 0.4 2.3 0.4 1.5 0.4-2.2 0.4-2 0.4 2.7 0.4-0.7 0.4-0.3 0.4 0.4 0.4-0.1 0.4-0.3 0.4 0.8 0.4-0.3 0.4-0.6 0.4 1.1 0.4 0.5 0.4 0.1 0.4-2.3 0.4 1 0.4 0.6 0.4-0.5 0.4-0.2 0.4 1.2 0.4-0.8 0.4 0.2 0.4-2 0.4 0.1 0.4 0.9 0.4 0.7 0.4 0.7 0.4-1.7 0.4 2.4 0.4-1.4 0.4-0.7 0.4 1.3 0.4 0.6 0.4-1.3 0.4-0.1 0.4 0.3 0.4 0.5 0.4-1 0.4 0.2 0.4 0.2 0.4-0.4 0.4 0.6 0.4-1.1 0.4-1.3 0.4 1.5 0.4 0.1 0.4 2.3 0.4-0.9 0.4-0.6 0.4-0.9 0.4-0.7 0.4 0.5 0.4 1.1 0.4-0.6 0.4-0.9 0.4 1.2 0.4-0.8 0.4 1.1 0.4 1.4 0.4-1 0.4-3.3 0.4 3.5 0.4-1.6 0.4 0.8 0.4 0.1 0.4-0.1 0.4-2 0.4 3 0.4-2.2 0.4 0 0.4 1.2 0.4 0.4 0.4-1.2 0.4-1.1 0.4 2.1 0.4-0.8 0.4 1.2 0.4 0.4 0.4-2.5 0.4 0 0.4 1.1 0.4-0.7 0.4 2.5 0.4-1.5 0.4 0 0.4 0.1 0.4 1.2 0.4-1 0.4 0.4 0.4-1.5 0.4 1.4 0.4-1.1 0.4-0.2 0.4 0 0.4 1.8 0.4-1.6 0.4 0.8 0.4-0.3 0.4 0.4 0.4-1.1 0.4-0.8 0.4 1 0.4 0.4 0.4-0.9 0.4 0.8 0.4 0.7 0.4-2.7 0.4 3.5 0.4-0.5 0.4-0.7 0.4 0.9 0.4-3.2 0.4 2.2 0.4 0.2 0.4 0.1 0.4 0 0.4 1.4 0.4-1.1 0.4-1.4 0.4-0.8 0.4 0.5 0.4 0.6 0.4 0.6 0.4-0.3 0.4 0.3 0.4-0.8 0.4 0.1 0.4 0.8 0.4-0.6 0.4-0.4 0.4 0.2 0.4 0.9 0.4-1 0.4 0.2 0.4 2.1 0.4-1.9 0.4 0.3 0.4 0.9 0.4 0.7 0.4-1.1 0.4-2 0.4 3.7 0.4-3.3 0.4-0.3 0.4 0.4 0.4 2.3 0.4-1.5 0.4-1.9 0.4 3.8 0.4-3.5 0.4 3.5 0.4-4.4 0.4 2.4 0.4 0.1 0.4-0.6 0.4 0.5 0.4 1.2 0.4-0.9 0.4 0.5 0.4-0.6 0.4 0.1 0.4-0.8 0.4 0.5 0.4 1 0.4 0.2 0.4-2.3 0.4 0.6 0.4 0.8 0.4-0.3 0.4-0.7 0.4-1.3 0.4 2.4 0.4-1 0.4 2.8 0.4-0.9 0.4-0.8 0.4-1.7 0.4 0.6 0.4 1.8 0.4-1.9 0.4 0.6 0.4 0.7 0.4 0.1 0.4-0.9 0.4 0.8 0.4-2.2 0.4 1.7 0.4-0.1 0.4 1.8 0.4-1.3 0.4-2.6 0.4 3.8 0.4 1.1 0.4-2.1 0.4 0.1 0.4 0.9 0.4-1.6 0.4 0 0.4 0.3 0.4-3.6 0.4 2.7 0.4 1.3 0.4-0.1 0.4-2.1 0.4 1.3 0.4-0.4 0.4-0.1 0.4 1.6 0.4-1.8 0.4 0.7 0.4 0.8 0.4-1.5 0.4 0.9 0.4-1 0.4 0.9 0.4 0 0.4 0.7 0.4-1.1 0.4 0.2 0.4-1.4 0.4 1 0.4-0.4 0.4-0.3 0.4 1 0.4 0.3 0.4 0 0.4 1.2 0.4-1.7 0.4-0.2 0.4-1.4 0.4 3.3 0.4-0.4 0.4-0.1 0.4-1.4 0.4 0.2 0.4 0 0.4-0.7 0.4 1.6 0.4-0.4 0.4 1.3 0.4-1 0.4-0.4 0.4 0.8 0.4 0.1 0.4-1.8 0.4-0.6 0.4 0.5 0.4 2.1 0.4-0.3 0.4 0.7 0.4-1.3 0.4 0.4 0.4-0.8 0.4 2.4 0.4-1.3 0.4 0.8 0.4-1 0.4-1.3 0.4 1.8 0.4-2.5 0.4 2.3 0.4-0.9 0.4 0.5 0.4-1.6 0.4 1.3 0.4-0.7 0.4-0.3 0.4 2.3 0.4-0.9 0.4-0.9 0.4-0.3 0.4 0.3 0.4 0.6 0.4 0.1 0.4-0.2 0.4-1.8 0.4 1.7 0.4 0.2 0.4 0.5 0.4-0.7 0.4-0.2 0.4 0.3 0.4-0.7 0.4 2.7 0.4-2.9 0.4-0.2 0.4 1.3 0.4-0.1 0.4 0.4 0.4-0.8 0.4-0.4 0.4-0.3 0.4 0.9 0.4 0.2 0.4-0.3 0.4-1.2 0.4 0 0.4 2.4 0.4-1.1 0.4-0.2 0.4 1.9 0.4-0.8 0.4-2.3 0.4 1.1 0.4 1.2 0.4-0.3 0.4-0.3 0.4 1.2 0.4-2.9 0.4 2.2 0.4-1.4 0.4 1.8 0.4-1.3 0.4-1.5 0.4 1.8 0.4-2.7 0.4 3.6 0.4-0.8 0.4 0.9 0.4-0.9 0.4-0.1 0.4 1.2 0.4-0.6 0.4-2.3 0.4 1 0.4 2 0.4-2.7 0.4-0.1 0.4 0.4 0.4-0.7 0.4 1.7 0.4-0.4 0.4 1.2 0.4-1.3 0.4 1.9 0.4-1.9 0.4 1.2 0.4 0.3 0.4-0.8 0.4-0.6 0.4-1.2 0.4 0.3 0.4 1.6 0.4-0.9 0.4 1 0.4-1.3 0.4 0.7 0.4 0 0.4 0.7 0.4-1.1 0.4 1.1 0.4-2.4 0.4 0.3 0.4 1.4 0.4-0.2 0.4 0.6 0.4-2.1 0.4 1.9 0.4-2 0.4 3 0.4-2 0.4 0.3 0.4 1 0.4-0.2 0.4-0.9 0.4 0.3 0.4 1.9 0.4-2.6 0.4 2.5" fill="none" stroke="#525252" stroke-width="3.3" stroke-linejoin="round" stroke-linecap="round"/>
<g transform="translate(69.90 513.60) scale(1.000 1.020)"><text font-size="30.4" fill="#000" stroke="#000" stroke-width="0.25" text-anchor="middle">10</text><rect x="-16.00" y="-3.50" width="6.48" height="5.10" fill="#fff"/><rect x="-6.21" y="-3.50" width="6.02" height="5.10" fill="#fff"/></g>
<g transform="translate(71.90 1060.80) scale(1.000 1.020)"><text font-size="30.4" fill="#000" stroke="#000" stroke-width="0.25" text-anchor="middle">10</text><rect x="-16.00" y="-3.50" width="6.48" height="5.10" fill="#fff"/><rect x="-6.21" y="-3.50" width="6.02" height="5.10" fill="#fff"/></g>
<g transform="translate(165.47 513.60) scale(1.000 1.020)"><text font-size="30.4" fill="#000" stroke="#000" stroke-width="0.25" text-anchor="middle">20</text></g>
<g transform="translate(167.50 1060.80) scale(1.000 1.020)"><text font-size="30.4" fill="#000" stroke="#000" stroke-width="0.25" text-anchor="middle">20</text></g>
<g transform="translate(261.04 513.60) scale(1.000 1.020)"><text font-size="30.4" fill="#000" stroke="#000" stroke-width="0.25" text-anchor="middle">30</text></g>
<g transform="translate(263.10 1060.80) scale(1.000 1.020)"><text font-size="30.4" fill="#000" stroke="#000" stroke-width="0.25" text-anchor="middle">30</text></g>
<g transform="translate(356.61 513.60) scale(1.000 1.020)"><text font-size="30.4" fill="#000" stroke="#000" stroke-width="0.25" text-anchor="middle">40</text></g>
<g transform="translate(358.70 1060.80) scale(1.000 1.020)"><text font-size="30.4" fill="#000" stroke="#000" stroke-width="0.25" text-anchor="middle">40</text></g>
<g transform="translate(452.18 513.60) scale(1.000 1.020)"><text font-size="30.4" fill="#000" stroke="#000" stroke-width="0.25" text-anchor="middle">50</text></g>
<g transform="translate(454.30 1060.80) scale(1.000 1.020)"><text font-size="30.4" fill="#000" stroke="#000" stroke-width="0.25" text-anchor="middle">50</text></g>
<g transform="translate(547.75 513.60) scale(1.000 1.020)"><text font-size="30.4" fill="#000" stroke="#000" stroke-width="0.25" text-anchor="middle">60</text></g>
<g transform="translate(549.90 1060.80) scale(1.000 1.020)"><text font-size="30.4" fill="#000" stroke="#000" stroke-width="0.25" text-anchor="middle">60</text></g>
<g transform="translate(643.32 513.60) scale(1.000 1.020)"><text font-size="30.4" fill="#000" stroke="#000" stroke-width="0.25" text-anchor="middle">70</text></g>
<g transform="translate(645.50 1060.80) scale(1.000 1.020)"><text font-size="30.4" fill="#000" stroke="#000" stroke-width="0.25" text-anchor="middle">70</text></g>
<g transform="translate(738.89 513.60) scale(1.000 1.020)"><text font-size="30.4" fill="#000" stroke="#000" stroke-width="0.25" text-anchor="middle">80</text></g>
<g transform="translate(741.10 1060.80) scale(1.000 1.020)"><text font-size="30.4" fill="#000" stroke="#000" stroke-width="0.25" text-anchor="middle">80</text></g>
<g transform="translate(368.28 546.30) scale(1.000 1.000)"><text font-size="30.5" fill="#000" stroke="#000" stroke-width="0.35">2</text></g>
<text transform="translate(385.98 546.30) scale(1.13 1.0)" font-size="30.4" font-family="Liberation Serif" stroke="#000" stroke-width="0.3">&#952;</text>
<text transform="translate(410.60 546.30) scale(0.95 1.0)" font-size="30.2">/</text>
<text transform="translate(427.55 545.30)" font-size="27.5">&#176;</text>
<g transform="translate(370.68 1092.50) scale(1.000 1.000)"><text font-size="30.5" fill="#000" stroke="#000" stroke-width="0.35">2</text></g>
<text transform="translate(387.68 1092.50) scale(1.13 1.0)" font-size="30.4" font-family="Liberation Serif" stroke="#000" stroke-width="0.3">&#952;</text>
<text transform="translate(411.30 1092.50) scale(0.95 1.0)" font-size="30.2">/</text>
<text transform="translate(428.15 1091.50)" font-size="27.5">&#176;</text>
<g transform="translate(34.70 295.80) rotate(-90) scale(1.000 1.010)"><text font-size="30.6" fill="#000" stroke="#000" stroke-width="0.35">Intensity</text></g>
<g transform="translate(50.20 841.50) rotate(-90) scale(1.000 1.030)"><text font-size="30.4" fill="#000" stroke="#000" stroke-width="0.35">Intensity</text></g>
<g transform="translate(2.80 32.60) scale(1.024 0.990)"><text font-size="30.0" fill="#000" stroke="#000" stroke-width="0.35">(a)</text></g>
<g transform="translate(4.00 580.80) scale(1.050 0.990)"><text font-size="30.0" fill="#000" stroke="#000" stroke-width="0.35">(b)</text></g>
<rect x="518.5" y="9.5" width="216" height="41.5" fill="#fff" stroke="#000" stroke-width="1.2"/>
<g transform="translate(522.50 40.80) scale(1.000 1.000)"><text font-size="26.8" fill="#000" stroke="#000" stroke-width="0.35">+ Au</text></g>
<g transform="translate(605.20 40.80) scale(1.000 1.000)"><text font-size="26.8" fill="#000" stroke="#000" stroke-width="0.35"># Pd</text></g>
<g transform="translate(689.60 40.80) scale(1.000 1.000)"><text font-size="26.8" fill="#000" stroke="#000" stroke-width="0.35">o C</text></g>
<rect x="559.5" y="558" width="161" height="41" fill="#fff" stroke="#000" stroke-width="1.2"/>
<g transform="translate(563.60 588.00) scale(1.000 1.000)"><text font-size="26.0" fill="#000" stroke="#000" stroke-width="0.35">x AuPd</text></g>
<g transform="translate(676.20 588.00) scale(1.000 1.000)"><text font-size="25.8" fill="#000" stroke="#000" stroke-width="0.35">o C</text></g>
<g transform="translate(605.90 82.60) scale(1.000 1.020)"><text font-size="30.3" fill="#2b6cc4" stroke="#2b6cc4" stroke-width="0.30">Au/C</text></g>
<g transform="translate(605.80 162.10) scale(1.000 1.020)"><text font-size="30.0" fill="#501e6e" stroke="#501e6e" stroke-width="0.30">Pt/C</text></g>
<g transform="translate(605.45 255.70) scale(1.000 1.020)"><text font-size="30.6" fill="#be9123" stroke="#be9123" stroke-width="0.30">Pd/C</text></g>
<g transform="translate(606.18 346.70) scale(1.000 1.020)"><text font-size="30.2" fill="#961a1e" stroke="#961a1e" stroke-width="0.30">Ru/C</text></g>
<g transform="translate(488.19 431.20) scale(1.000 1.020)"><text font-size="30.8" fill="#505050" stroke="#505050" stroke-width="0.30">Vulcan XC 72</text></g>
<g transform="translate(507.20 629.40) scale(1.000 1.020)"><text font-size="30.4" fill="#147d7d" stroke="#147d7d" stroke-width="0.30">AuPd(2:1)/C</text><rect x="110.76" y="-3.50" width="6.48" height="5.10" fill="#fff"/><rect x="120.54" y="-3.50" width="6.02" height="5.10" fill="#fff"/></g>
<g transform="translate(506.30 716.50) scale(1.000 1.020)"><text font-size="30.5" fill="#3ca064" stroke="#3ca064" stroke-width="0.30">AuPd(1:1)/C</text><rect x="85.68" y="-3.51" width="6.50" height="5.11" fill="#fff"/><rect x="95.50" y="-3.51" width="6.04" height="5.11" fill="#fff"/><rect x="111.12" y="-3.51" width="6.50" height="5.11" fill="#fff"/><rect x="120.94" y="-3.51" width="6.04" height="5.11" fill="#fff"/></g>
<g transform="translate(506.30 818.40) scale(1.000 1.020)"><text font-size="30.6" fill="#2dd22d" stroke="#2dd22d" stroke-width="0.30">AuPd(1:2)/C</text><rect x="85.96" y="-3.52" width="6.52" height="5.12" fill="#fff"/><rect x="95.82" y="-3.52" width="6.06" height="5.12" fill="#fff"/></g>
<g transform="translate(489.39 905.60) scale(1.000 1.020)"><text font-size="30.5" fill="#505050" stroke="#505050" stroke-width="0.30">Vulcan XC 72</text></g>
<g transform="translate(211.60 20.57) scale(1.000 0.970)"><text font-size="24.0" fill="#000" stroke="#000" stroke-width="0.25" text-anchor="middle">o</text></g>
<g transform="translate(342.20 81.74) scale(1.000 0.960)"><text font-size="27.5" fill="#000" stroke="#000" stroke-width="0.25" text-anchor="middle">+</text></g>
<g transform="translate(392.10 75.27) scale(1.000 0.970)"><text font-size="24.0" fill="#000" stroke="#000" stroke-width="0.25" text-anchor="middle">o</text></g>
<g transform="translate(400.00 88.84) scale(1.000 0.960)"><text font-size="27.5" fill="#000" stroke="#000" stroke-width="0.25" text-anchor="middle">+</text></g>
<g transform="translate(213.70 95.22) scale(1.000 0.970)"><text font-size="24.0" fill="#000" stroke="#000" stroke-width="0.25" text-anchor="middle">o</text></g>
<g transform="translate(392.00 156.17) scale(1.000 0.970)"><text font-size="24.0" fill="#000" stroke="#000" stroke-width="0.25" text-anchor="middle">o</text></g>
<g transform="translate(213.70 186.07) scale(1.000 0.970)"><text font-size="24.0" fill="#000" stroke="#000" stroke-width="0.25" text-anchor="middle">o</text></g>
<g transform="translate(359.90 248.16) scale(1.000 1.070)"><text font-size="26.0" fill="#000" stroke="#000" stroke-width="0.25" text-anchor="middle">#</text></g>
<g transform="translate(394.20 246.17) scale(1.000 0.970)"><text font-size="24.0" fill="#000" stroke="#000" stroke-width="0.25" text-anchor="middle">o</text></g>
<g transform="translate(422.40 255.86) scale(1.000 1.070)"><text font-size="26.0" fill="#000" stroke="#000" stroke-width="0.25" text-anchor="middle">#</text></g>
<g transform="translate(214.60 280.47) scale(1.000 0.970)"><text font-size="24.0" fill="#000" stroke="#000" stroke-width="0.25" text-anchor="middle">o</text></g>
<g transform="translate(391.00 339.47) scale(1.000 0.970)"><text font-size="24.0" fill="#000" stroke="#000" stroke-width="0.25" text-anchor="middle">o</text></g>
<g transform="translate(212.70 374.67) scale(1.000 0.970)"><text font-size="24.0" fill="#000" stroke="#000" stroke-width="0.25" text-anchor="middle">o</text></g>
<g transform="translate(392.00 425.27) scale(1.000 0.970)"><text font-size="24.0" fill="#000" stroke="#000" stroke-width="0.25" text-anchor="middle">o</text></g>
<g transform="translate(215.70 567.77) scale(1.000 0.970)"><text font-size="24.0" fill="#000" stroke="#000" stroke-width="0.25" text-anchor="middle">o</text></g>
<g transform="translate(348.20 612.03) scale(1.000 1.120)"><text font-size="22.0" fill="#000" stroke="#000" stroke-width="0.25" text-anchor="middle">x</text></g>
<g transform="translate(397.00 620.67) scale(1.000 0.970)"><text font-size="24.0" fill="#000" stroke="#000" stroke-width="0.25" text-anchor="middle">o</text></g>
<g transform="translate(216.80 647.77) scale(1.000 0.970)"><text font-size="24.0" fill="#000" stroke="#000" stroke-width="0.25" text-anchor="middle">o</text></g>
<g transform="translate(350.00 697.93) scale(1.000 1.120)"><text font-size="22.0" fill="#000" stroke="#000" stroke-width="0.25" text-anchor="middle">x</text></g>
<g transform="translate(399.80 705.67) scale(1.000 0.970)"><text font-size="24.0" fill="#000" stroke="#000" stroke-width="0.25" text-anchor="middle">o</text></g>
<g transform="translate(215.70 739.57) scale(1.000 0.970)"><text font-size="24.0" fill="#000" stroke="#000" stroke-width="0.25" text-anchor="middle">o</text></g>
<g transform="translate(353.00 802.93) scale(1.000 1.120)"><text font-size="22.0" fill="#000" stroke="#000" stroke-width="0.25" text-anchor="middle">x</text></g>
<g transform="translate(395.00 806.57) scale(1.000 0.970)"><text font-size="24.0" fill="#000" stroke="#000" stroke-width="0.25" text-anchor="middle">o</text></g>
<g transform="translate(214.80 831.57) scale(1.000 0.970)"><text font-size="24.0" fill="#000" stroke="#000" stroke-width="0.25" text-anchor="middle">o</text></g>
<g transform="translate(394.90 895.07) scale(1.000 0.970)"><text font-size="24.0" fill="#000" stroke="#000" stroke-width="0.25" text-anchor="middle">o</text></g>
<g transform="translate(592.00 967.90) scale(1.000 1.020)"><text font-size="30.4" fill="#c89b28" stroke="#c89b28" stroke-width="0.35">Au</text></g>
<g transform="translate(653.90 967.90) scale(1.000 1.020)"><text font-size="30.4" fill="#c3c3c3" stroke="#c3c3c3" stroke-width="0.35">Pd</text></g>
</svg>
</body></html>
